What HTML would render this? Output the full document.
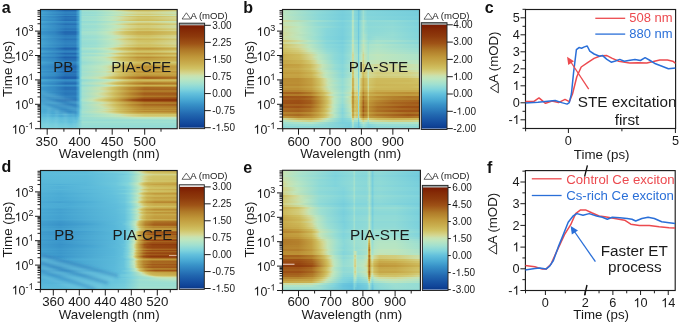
<!DOCTYPE html><html><head><meta charset="utf-8"><style>html,body{margin:0;padding:0;background:#fff;width:685px;height:324px;overflow:hidden;font-family:"Liberation Sans",sans-serif}</style></head><body><svg width="685" height="324" viewBox="0 0 685 324" font-family="Liberation Sans, sans-serif" style="display:block;will-change:transform"><defs><path id="one" d="M763 0L583 0L583 1147Q518 1085 412.5 1023Q307 961 223 930L223 1104Q374 1175 487 1276Q600 1377 647 1472L763 1472Z"/><linearGradient id="g1"><stop offset=".004" stop-color="#3892c8"/><stop offset=".099" stop-color="#3083c0"/><stop offset=".173" stop-color="#2268b0"/><stop offset=".254" stop-color="#2269b1"/><stop offset=".276" stop-color="#3e9acc"/><stop offset=".290" stop-color="#7fd3dc"/><stop offset=".305" stop-color="#a3e1ce"/><stop offset=".401" stop-color="#a8e2cb"/><stop offset=".489" stop-color="#bce6c0"/><stop offset=".540" stop-color="#c8e2af"/><stop offset=".577" stop-color="#d3d792"/><stop offset=".651" stop-color="#d0c469"/><stop offset=".717" stop-color="#cebb5c"/><stop offset=".857" stop-color="#cfbe5f"/><stop offset=".996" stop-color="#d2ca77"/></linearGradient><linearGradient id="g2"><stop offset=".004" stop-color="#409dce"/><stop offset=".180" stop-color="#2a79ba"/><stop offset=".254" stop-color="#2c7bbb"/><stop offset=".276" stop-color="#46a4d1"/><stop offset=".290" stop-color="#7cd2dc"/><stop offset=".305" stop-color="#9aded2"/><stop offset=".401" stop-color="#9fe0d0"/><stop offset=".533" stop-color="#bbe6c0"/><stop offset=".592" stop-color="#c8e2b0"/><stop offset=".651" stop-color="#d4d58f"/><stop offset=".717" stop-color="#d2cd7d"/><stop offset=".790" stop-color="#d2cc7a"/><stop offset=".996" stop-color="#cfdb9d"/></linearGradient><linearGradient id="g3"><stop offset=".004" stop-color="#45a3d1"/><stop offset=".180" stop-color="#2f82bf"/><stop offset=".254" stop-color="#3084c0"/><stop offset=".276" stop-color="#49a9d4"/><stop offset=".290" stop-color="#7bd1dc"/><stop offset=".305" stop-color="#95dcd4"/><stop offset=".401" stop-color="#9aded2"/><stop offset=".526" stop-color="#b2e4c6"/><stop offset=".629" stop-color="#c7e2b1"/><stop offset=".710" stop-color="#d3d794"/><stop offset=".783" stop-color="#d4d58f"/><stop offset=".996" stop-color="#c7e2b2"/></linearGradient><linearGradient id="g4"><stop offset=".004" stop-color="#44a2d0"/><stop offset=".180" stop-color="#2f81bf"/><stop offset=".254" stop-color="#3083c0"/><stop offset=".276" stop-color="#49a8d3"/><stop offset=".290" stop-color="#7bd1dc"/><stop offset=".305" stop-color="#96dcd4"/><stop offset=".401" stop-color="#9bded2"/><stop offset=".555" stop-color="#bbe6c0"/><stop offset=".717" stop-color="#d4d58d"/><stop offset=".790" stop-color="#d3d38a"/><stop offset=".996" stop-color="#c8e2af"/></linearGradient><linearGradient id="g5"><stop offset=".004" stop-color="#419dce"/><stop offset=".180" stop-color="#2b79ba"/><stop offset=".254" stop-color="#2c7bbc"/><stop offset=".276" stop-color="#46a4d1"/><stop offset=".290" stop-color="#7cd2dc"/><stop offset=".305" stop-color="#9aded2"/><stop offset=".401" stop-color="#9fe0d0"/><stop offset=".533" stop-color="#bce6c0"/><stop offset=".585" stop-color="#c7e2b1"/><stop offset=".643" stop-color="#d4d68f"/><stop offset=".717" stop-color="#d2cc79"/><stop offset=".790" stop-color="#d2ca76"/><stop offset=".996" stop-color="#d0da9a"/></linearGradient><linearGradient id="g6"><stop offset=".004" stop-color="#47a6d2"/><stop offset=".180" stop-color="#3186c1"/><stop offset=".254" stop-color="#3288c2"/><stop offset=".276" stop-color="#4babd4"/><stop offset=".290" stop-color="#7bd0dc"/><stop offset=".305" stop-color="#94dbd5"/><stop offset=".401" stop-color="#98ddd3"/><stop offset=".518" stop-color="#aee3c8"/><stop offset=".651" stop-color="#c9e1ad"/><stop offset=".717" stop-color="#d0da9a"/><stop offset=".783" stop-color="#d2d896"/><stop offset=".996" stop-color="#c5e3b4"/></linearGradient><linearGradient id="g7"><stop offset=".004" stop-color="#3b97ca"/><stop offset=".099" stop-color="#3389c3"/><stop offset=".180" stop-color="#256eb4"/><stop offset=".254" stop-color="#2671b5"/><stop offset=".276" stop-color="#419ece"/><stop offset=".290" stop-color="#7ed2dc"/><stop offset=".305" stop-color="#9fe0d0"/><stop offset=".401" stop-color="#a5e1cd"/><stop offset=".504" stop-color="#bce6c0"/><stop offset=".548" stop-color="#c7e2b1"/><stop offset=".592" stop-color="#d3d792"/><stop offset=".651" stop-color="#d1c872"/><stop offset=".717" stop-color="#cfbf60"/><stop offset=".857" stop-color="#d0c264"/><stop offset=".996" stop-color="#d2ce7f"/></linearGradient><linearGradient id="g8"><stop offset=".004" stop-color="#409ccd"/><stop offset=".180" stop-color="#2977b9"/><stop offset=".254" stop-color="#2b79ba"/><stop offset=".276" stop-color="#45a3d1"/><stop offset=".290" stop-color="#7dd2dc"/><stop offset=".305" stop-color="#9bded2"/><stop offset=".401" stop-color="#a1e0d0"/><stop offset=".526" stop-color="#bce6c0"/><stop offset=".577" stop-color="#c9e1af"/><stop offset=".629" stop-color="#d4d68f"/><stop offset=".717" stop-color="#d1c871"/><stop offset=".790" stop-color="#d1c66d"/><stop offset=".996" stop-color="#d4d691"/></linearGradient><linearGradient id="g9"><stop offset=".004" stop-color="#3f9ccd"/><stop offset=".099" stop-color="#368fc6"/><stop offset=".180" stop-color="#2976b9"/><stop offset=".254" stop-color="#2a79ba"/><stop offset=".276" stop-color="#45a3d0"/><stop offset=".290" stop-color="#7dd2dc"/><stop offset=".305" stop-color="#9bded2"/><stop offset=".401" stop-color="#a1e0cf"/><stop offset=".526" stop-color="#bde6bf"/><stop offset=".570" stop-color="#c7e2b1"/><stop offset=".621" stop-color="#d4d690"/><stop offset=".717" stop-color="#d1c66e"/><stop offset=".790" stop-color="#d1c56a"/><stop offset=".996" stop-color="#d4d58e"/></linearGradient><linearGradient id="g10"><stop offset=".004" stop-color="#3d99cc"/><stop offset=".099" stop-color="#358cc5"/><stop offset=".180" stop-color="#2772b6"/><stop offset=".254" stop-color="#2875b8"/><stop offset=".276" stop-color="#43a1cf"/><stop offset=".290" stop-color="#7dd2dc"/><stop offset=".305" stop-color="#9ddfd1"/><stop offset=".401" stop-color="#a3e1ce"/><stop offset=".511" stop-color="#bce6c0"/><stop offset=".555" stop-color="#c7e2b1"/><stop offset=".607" stop-color="#d4d58f"/><stop offset=".710" stop-color="#d0c264"/><stop offset=".783" stop-color="#cfc061"/><stop offset=".996" stop-color="#d3d185"/></linearGradient><linearGradient id="g11"><stop offset=".004" stop-color="#3c97ca"/><stop offset=".099" stop-color="#3389c3"/><stop offset=".180" stop-color="#256eb4"/><stop offset=".254" stop-color="#2671b5"/><stop offset=".276" stop-color="#419ece"/><stop offset=".290" stop-color="#7ed2dc"/><stop offset=".305" stop-color="#9fe0d0"/><stop offset=".401" stop-color="#a5e1cd"/><stop offset=".496" stop-color="#bbe6c1"/><stop offset=".548" stop-color="#c8e2b0"/><stop offset=".585" stop-color="#d3d793"/><stop offset=".651" stop-color="#d1c66e"/><stop offset=".717" stop-color="#cebd5e"/><stop offset=".857" stop-color="#cfc061"/><stop offset=".996" stop-color="#d2cd7c"/></linearGradient><linearGradient id="g12"><stop offset=".004" stop-color="#48a7d3"/><stop offset=".180" stop-color="#3389c3"/><stop offset=".254" stop-color="#348ac4"/><stop offset=".276" stop-color="#4dacd5"/><stop offset=".290" stop-color="#7ad0dc"/><stop offset=".305" stop-color="#92dbd5"/><stop offset=".401" stop-color="#97ddd3"/><stop offset=".518" stop-color="#ade3c9"/><stop offset=".651" stop-color="#c9e1ae"/><stop offset=".717" stop-color="#d0da9a"/><stop offset=".783" stop-color="#d2d896"/><stop offset=".996" stop-color="#c4e3b5"/></linearGradient><linearGradient id="g13"><stop offset=".004" stop-color="#45a4d1"/><stop offset=".180" stop-color="#3083c0"/><stop offset=".254" stop-color="#3185c1"/><stop offset=".276" stop-color="#4aaad4"/><stop offset=".290" stop-color="#7bd1dc"/><stop offset=".305" stop-color="#95dcd4"/><stop offset=".401" stop-color="#9aded2"/><stop offset=".555" stop-color="#bce6c0"/><stop offset=".717" stop-color="#d3d288"/><stop offset=".790" stop-color="#d3d185"/><stop offset=".996" stop-color="#cae0aa"/></linearGradient><linearGradient id="g14"><stop offset=".004" stop-color="#409ccd"/><stop offset=".180" stop-color="#2a77b9"/><stop offset=".254" stop-color="#2b7abb"/><stop offset=".276" stop-color="#45a3d1"/><stop offset=".290" stop-color="#7cd2dc"/><stop offset=".305" stop-color="#9bded2"/><stop offset=".401" stop-color="#a1e0d0"/><stop offset=".518" stop-color="#bbe6c0"/><stop offset=".570" stop-color="#c8e2af"/><stop offset=".614" stop-color="#d3d792"/><stop offset=".717" stop-color="#d1c56a"/><stop offset=".790" stop-color="#d0c366"/><stop offset=".996" stop-color="#d4d48b"/></linearGradient><linearGradient id="g15"><stop offset=".004" stop-color="#3c97cb"/><stop offset=".099" stop-color="#3389c3"/><stop offset=".180" stop-color="#256fb4"/><stop offset=".254" stop-color="#2771b6"/><stop offset=".276" stop-color="#429fce"/><stop offset=".290" stop-color="#7ed2dc"/><stop offset=".305" stop-color="#9fe0d0"/><stop offset=".401" stop-color="#a5e1cd"/><stop offset=".496" stop-color="#bbe6c0"/><stop offset=".540" stop-color="#c7e2b2"/><stop offset=".585" stop-color="#d4d690"/><stop offset=".651" stop-color="#d1c56a"/><stop offset=".717" stop-color="#cebb5c"/><stop offset=".857" stop-color="#cfbe60"/><stop offset=".996" stop-color="#d2cb79"/></linearGradient><linearGradient id="g16"><stop offset=".004" stop-color="#43a1d0"/><stop offset=".180" stop-color="#2e7fbe"/><stop offset=".254" stop-color="#2f81bf"/><stop offset=".276" stop-color="#48a7d3"/><stop offset=".290" stop-color="#7cd1dc"/><stop offset=".305" stop-color="#97ddd3"/><stop offset=".401" stop-color="#9ddfd1"/><stop offset=".540" stop-color="#bce6bf"/><stop offset=".592" stop-color="#c8e2b0"/><stop offset=".643" stop-color="#d4d691"/><stop offset=".717" stop-color="#d2cc7b"/><stop offset=".790" stop-color="#d2cb77"/><stop offset=".996" stop-color="#d0da9c"/></linearGradient><linearGradient id="g17"><stop offset=".004" stop-color="#44a1d0"/><stop offset=".180" stop-color="#2e7fbe"/><stop offset=".254" stop-color="#2f81bf"/><stop offset=".276" stop-color="#48a8d3"/><stop offset=".290" stop-color="#7bd1dc"/><stop offset=".305" stop-color="#97ddd3"/><stop offset=".401" stop-color="#9cdfd1"/><stop offset=".540" stop-color="#bce6c0"/><stop offset=".592" stop-color="#c8e2b0"/><stop offset=".643" stop-color="#d3d792"/><stop offset=".717" stop-color="#d2cc7b"/><stop offset=".790" stop-color="#d2cb78"/><stop offset=".996" stop-color="#cfdb9c"/></linearGradient><linearGradient id="g18"><stop offset=".004" stop-color="#44a2d0"/><stop offset=".180" stop-color="#2e80be"/><stop offset=".254" stop-color="#2f82bf"/><stop offset=".276" stop-color="#49a8d3"/><stop offset=".290" stop-color="#7bd1dc"/><stop offset=".305" stop-color="#96dcd4"/><stop offset=".401" stop-color="#9cded2"/><stop offset=".540" stop-color="#bce6c0"/><stop offset=".592" stop-color="#c7e2b1"/><stop offset=".651" stop-color="#d4d68f"/><stop offset=".717" stop-color="#d2cd7c"/><stop offset=".790" stop-color="#d2cc79"/><stop offset=".996" stop-color="#cfdb9e"/></linearGradient><linearGradient id="g19"><stop offset=".004" stop-color="#3f9ccd"/><stop offset=".099" stop-color="#368fc6"/><stop offset=".180" stop-color="#2977b9"/><stop offset=".254" stop-color="#2b79ba"/><stop offset=".276" stop-color="#45a3d1"/><stop offset=".290" stop-color="#7dd2dc"/><stop offset=".305" stop-color="#9bded2"/><stop offset=".401" stop-color="#a1e0cf"/><stop offset=".511" stop-color="#bbe6c1"/><stop offset=".562" stop-color="#c8e2af"/><stop offset=".607" stop-color="#d4d68f"/><stop offset=".710" stop-color="#d0c264"/><stop offset=".783" stop-color="#cfbf61"/><stop offset=".996" stop-color="#d3d185"/></linearGradient><linearGradient id="g20"><stop offset=".004" stop-color="#3e9acc"/><stop offset=".099" stop-color="#358dc5"/><stop offset=".180" stop-color="#2874b7"/><stop offset=".254" stop-color="#2976b8"/><stop offset=".276" stop-color="#43a1d0"/><stop offset=".290" stop-color="#7dd2dc"/><stop offset=".305" stop-color="#9ddfd1"/><stop offset=".401" stop-color="#a3e1ce"/><stop offset=".504" stop-color="#bce6c0"/><stop offset=".548" stop-color="#c7e2b1"/><stop offset=".592" stop-color="#d4d690"/><stop offset=".651" stop-color="#d1c76f"/><stop offset=".717" stop-color="#cebd5f"/><stop offset=".857" stop-color="#cfc062"/><stop offset=".996" stop-color="#d2cd7d"/></linearGradient><linearGradient id="g21"><stop offset=".004" stop-color="#429fcf"/><stop offset=".180" stop-color="#2c7cbc"/><stop offset=".254" stop-color="#2d7ebd"/><stop offset=".276" stop-color="#47a6d2"/><stop offset=".290" stop-color="#7cd1dc"/><stop offset=".305" stop-color="#99ddd3"/><stop offset=".401" stop-color="#9fdfd1"/><stop offset=".526" stop-color="#bce6c0"/><stop offset=".570" stop-color="#c7e2b1"/><stop offset=".621" stop-color="#d4d691"/><stop offset=".717" stop-color="#d1c66d"/><stop offset=".790" stop-color="#d1c56a"/><stop offset=".996" stop-color="#d4d58f"/></linearGradient><linearGradient id="g22"><stop offset=".004" stop-color="#3a94c9"/><stop offset=".099" stop-color="#3186c1"/><stop offset=".180" stop-color="#236ab1"/><stop offset=".254" stop-color="#246db3"/><stop offset=".276" stop-color="#409ccd"/><stop offset=".290" stop-color="#7ed3dc"/><stop offset=".305" stop-color="#a1e0cf"/><stop offset=".401" stop-color="#a7e2cc"/><stop offset=".482" stop-color="#bbe6c0"/><stop offset=".526" stop-color="#c8e2b1"/><stop offset=".562" stop-color="#d4d690"/><stop offset=".629" stop-color="#d0c264"/><stop offset=".717" stop-color="#cab152"/><stop offset=".798" stop-color="#cab050"/><stop offset=".996" stop-color="#d0c366"/></linearGradient><linearGradient id="g23"><stop offset=".004" stop-color="#3892c8"/><stop offset=".099" stop-color="#3083c0"/><stop offset=".173" stop-color="#2267b0"/><stop offset=".254" stop-color="#2269b0"/><stop offset=".276" stop-color="#3e9acc"/><stop offset=".290" stop-color="#7fd3dc"/><stop offset=".305" stop-color="#a3e1ce"/><stop offset=".401" stop-color="#aae2cb"/><stop offset=".474" stop-color="#bce6c0"/><stop offset=".518" stop-color="#c8e2af"/><stop offset=".548" stop-color="#d3d793"/><stop offset=".614" stop-color="#d0c263"/><stop offset=".710" stop-color="#c9ad4d"/><stop offset=".790" stop-color="#c8ab4b"/><stop offset=".996" stop-color="#cfbe60"/></linearGradient><linearGradient id="g24"><stop offset=".004" stop-color="#3994c9"/><stop offset=".099" stop-color="#3186c1"/><stop offset=".180" stop-color="#236ab1"/><stop offset=".254" stop-color="#246cb3"/><stop offset=".276" stop-color="#409ccd"/><stop offset=".290" stop-color="#7ed3dc"/><stop offset=".305" stop-color="#a1e0cf"/><stop offset=".401" stop-color="#a8e2cc"/><stop offset=".482" stop-color="#bce6c0"/><stop offset=".526" stop-color="#c8e2af"/><stop offset=".555" stop-color="#d3d793"/><stop offset=".621" stop-color="#d0c365"/><stop offset=".710" stop-color="#cab050"/><stop offset=".812" stop-color="#cab050"/><stop offset=".996" stop-color="#d0c163"/></linearGradient><linearGradient id="g25"><stop offset=".004" stop-color="#3b96ca"/><stop offset=".099" stop-color="#3288c2"/><stop offset=".180" stop-color="#246db3"/><stop offset=".254" stop-color="#266fb4"/><stop offset=".276" stop-color="#419ece"/><stop offset=".290" stop-color="#7ed3dc"/><stop offset=".305" stop-color="#a0e0d0"/><stop offset=".401" stop-color="#a6e1cc"/><stop offset=".482" stop-color="#bae6c1"/><stop offset=".526" stop-color="#c7e2b2"/><stop offset=".562" stop-color="#d3d792"/><stop offset=".636" stop-color="#d0c163"/><stop offset=".717" stop-color="#cbb252"/><stop offset=".790" stop-color="#cab050"/><stop offset=".996" stop-color="#d0c468"/></linearGradient><linearGradient id="g26"><stop offset=".004" stop-color="#419fce"/><stop offset=".180" stop-color="#2b7bbb"/><stop offset=".254" stop-color="#2d7dbd"/><stop offset=".276" stop-color="#46a5d2"/><stop offset=".290" stop-color="#7cd1dc"/><stop offset=".305" stop-color="#99ddd3"/><stop offset=".401" stop-color="#a0e0d0"/><stop offset=".518" stop-color="#bce6c0"/><stop offset=".562" stop-color="#c8e2b1"/><stop offset=".607" stop-color="#d4d691"/><stop offset=".710" stop-color="#d0c265"/><stop offset=".783" stop-color="#cfc061"/><stop offset=".996" stop-color="#d3d287"/></linearGradient><linearGradient id="g27"><stop offset=".004" stop-color="#43a0cf"/><stop offset=".180" stop-color="#2d7dbd"/><stop offset=".254" stop-color="#2e80be"/><stop offset=".276" stop-color="#48a7d2"/><stop offset=".290" stop-color="#7cd1dc"/><stop offset=".305" stop-color="#98ddd3"/><stop offset=".401" stop-color="#9edfd1"/><stop offset=".526" stop-color="#bce6c0"/><stop offset=".570" stop-color="#c8e2b0"/><stop offset=".614" stop-color="#d3d792"/><stop offset=".717" stop-color="#d0c469"/><stop offset=".790" stop-color="#d0c365"/><stop offset=".996" stop-color="#d4d48c"/></linearGradient><linearGradient id="g28"><stop offset=".004" stop-color="#45a3d1"/><stop offset=".180" stop-color="#2f82bf"/><stop offset=".254" stop-color="#3084c0"/><stop offset=".276" stop-color="#49a9d4"/><stop offset=".290" stop-color="#7bd1dc"/><stop offset=".305" stop-color="#96dcd4"/><stop offset=".401" stop-color="#9cded2"/><stop offset=".533" stop-color="#bbe6c0"/><stop offset=".585" stop-color="#c8e2b0"/><stop offset=".636" stop-color="#d4d690"/><stop offset=".717" stop-color="#d1c974"/><stop offset=".790" stop-color="#d1c870"/><stop offset=".996" stop-color="#d2d896"/></linearGradient><linearGradient id="g29"><stop offset=".004" stop-color="#419ece"/><stop offset=".180" stop-color="#2b7bbb"/><stop offset=".254" stop-color="#2c7dbc"/><stop offset=".276" stop-color="#46a5d2"/><stop offset=".290" stop-color="#7cd1dc"/><stop offset=".305" stop-color="#99ddd3"/><stop offset=".401" stop-color="#a0e0d0"/><stop offset=".511" stop-color="#bbe6c1"/><stop offset=".555" stop-color="#c7e2b2"/><stop offset=".599" stop-color="#d3d792"/><stop offset=".651" stop-color="#d1c974"/><stop offset=".717" stop-color="#cfbf61"/><stop offset=".849" stop-color="#d0c264"/><stop offset=".996" stop-color="#d3d083"/></linearGradient><linearGradient id="g30"><stop offset=".004" stop-color="#3e9acc"/><stop offset=".099" stop-color="#358dc5"/><stop offset=".180" stop-color="#2874b7"/><stop offset=".254" stop-color="#2976b8"/><stop offset=".276" stop-color="#44a1d0"/><stop offset=".290" stop-color="#7dd2dc"/><stop offset=".305" stop-color="#9ddfd1"/><stop offset=".401" stop-color="#a3e1ce"/><stop offset=".496" stop-color="#bce6c0"/><stop offset=".540" stop-color="#c8e2b0"/><stop offset=".577" stop-color="#d4d68f"/><stop offset=".651" stop-color="#d0c163"/><stop offset=".717" stop-color="#ccb758"/><stop offset=".857" stop-color="#cdba5b"/><stop offset=".996" stop-color="#d1c871"/></linearGradient><linearGradient id="g31"><stop offset=".004" stop-color="#43a0cf"/><stop offset=".180" stop-color="#2d7dbd"/><stop offset=".254" stop-color="#2e7fbe"/><stop offset=".276" stop-color="#47a7d2"/><stop offset=".290" stop-color="#7cd1dc"/><stop offset=".305" stop-color="#98ddd3"/><stop offset=".401" stop-color="#9edfd1"/><stop offset=".518" stop-color="#bbe6c0"/><stop offset=".562" stop-color="#c7e2b1"/><stop offset=".607" stop-color="#d3d791"/><stop offset=".717" stop-color="#d0c163"/><stop offset=".820" stop-color="#d0c264"/><stop offset=".996" stop-color="#d3d287"/></linearGradient><linearGradient id="g32"><stop offset=".004" stop-color="#44a2d0"/><stop offset=".180" stop-color="#2e80be"/><stop offset=".254" stop-color="#2f82bf"/><stop offset=".276" stop-color="#48a8d3"/><stop offset=".290" stop-color="#7bd1dc"/><stop offset=".305" stop-color="#97ddd3"/><stop offset=".401" stop-color="#9ddfd1"/><stop offset=".526" stop-color="#bce6c0"/><stop offset=".570" stop-color="#c8e2b0"/><stop offset=".614" stop-color="#d3d792"/><stop offset=".717" stop-color="#d0c468"/><stop offset=".790" stop-color="#d0c264"/><stop offset=".996" stop-color="#d4d48b"/></linearGradient><linearGradient id="g33"><stop offset=".004" stop-color="#45a3d1"/><stop offset=".180" stop-color="#2f82bf"/><stop offset=".254" stop-color="#3084c0"/><stop offset=".276" stop-color="#49a9d4"/><stop offset=".290" stop-color="#7bd1dc"/><stop offset=".305" stop-color="#95dcd4"/><stop offset=".401" stop-color="#9cded2"/><stop offset=".533" stop-color="#bce6bf"/><stop offset=".577" stop-color="#c8e2b0"/><stop offset=".629" stop-color="#d4d68f"/><stop offset=".717" stop-color="#d1c76e"/><stop offset=".790" stop-color="#d1c56b"/><stop offset=".996" stop-color="#d4d691"/></linearGradient><linearGradient id="g34"><stop offset=".004" stop-color="#46a5d1"/><stop offset=".180" stop-color="#3184c1"/><stop offset=".254" stop-color="#3286c2"/><stop offset=".276" stop-color="#4aaad4"/><stop offset=".290" stop-color="#7bd0dc"/><stop offset=".305" stop-color="#94dcd4"/><stop offset=".401" stop-color="#9aded2"/><stop offset=".533" stop-color="#bbe6c1"/><stop offset=".585" stop-color="#c8e2b0"/><stop offset=".636" stop-color="#d4d68f"/><stop offset=".717" stop-color="#d1c973"/><stop offset=".790" stop-color="#d1c770"/><stop offset=".996" stop-color="#d2d896"/></linearGradient><linearGradient id="g35"><stop offset=".004" stop-color="#44a2d0"/><stop offset=".180" stop-color="#2f81bf"/><stop offset=".254" stop-color="#3083c0"/><stop offset=".276" stop-color="#49a8d3"/><stop offset=".290" stop-color="#7bd1dc"/><stop offset=".305" stop-color="#96dcd4"/><stop offset=".401" stop-color="#9ddfd1"/><stop offset=".526" stop-color="#bce6c0"/><stop offset=".570" stop-color="#c8e2b0"/><stop offset=".614" stop-color="#d4d691"/><stop offset=".717" stop-color="#d0c367"/><stop offset=".798" stop-color="#d0c264"/><stop offset=".996" stop-color="#d4d48b"/></linearGradient><linearGradient id="g36"><stop offset=".004" stop-color="#42a0cf"/><stop offset=".180" stop-color="#2c7dbc"/><stop offset=".254" stop-color="#2e7fbe"/><stop offset=".276" stop-color="#47a6d2"/><stop offset=".290" stop-color="#7cd1dc"/><stop offset=".305" stop-color="#98ddd3"/><stop offset=".401" stop-color="#9fe0d0"/><stop offset=".511" stop-color="#bbe6c1"/><stop offset=".555" stop-color="#c7e2b1"/><stop offset=".599" stop-color="#d4d68f"/><stop offset=".651" stop-color="#d1c871"/><stop offset=".717" stop-color="#cfbe60"/><stop offset=".857" stop-color="#d0c163"/><stop offset=".996" stop-color="#d3cf80"/></linearGradient><linearGradient id="g37"><stop offset=".004" stop-color="#45a3d0"/><stop offset=".180" stop-color="#2f82bf"/><stop offset=".254" stop-color="#3084c0"/><stop offset=".276" stop-color="#49a9d3"/><stop offset=".290" stop-color="#7bd1dc"/><stop offset=".305" stop-color="#96dcd4"/><stop offset=".401" stop-color="#9cdfd1"/><stop offset=".526" stop-color="#bce6c0"/><stop offset=".570" stop-color="#c8e2b0"/><stop offset=".614" stop-color="#d3d792"/><stop offset=".717" stop-color="#d0c367"/><stop offset=".798" stop-color="#d0c264"/><stop offset=".996" stop-color="#d4d48b"/></linearGradient><linearGradient id="g38"><stop offset=".004" stop-color="#3d99cb"/><stop offset=".099" stop-color="#348bc4"/><stop offset=".180" stop-color="#2771b6"/><stop offset=".254" stop-color="#2874b7"/><stop offset=".276" stop-color="#43a0cf"/><stop offset=".290" stop-color="#7dd2dc"/><stop offset=".305" stop-color="#9edfd1"/><stop offset=".401" stop-color="#a5e1cd"/><stop offset=".482" stop-color="#bae6c1"/><stop offset=".526" stop-color="#c7e2b1"/><stop offset=".562" stop-color="#d4d58e"/><stop offset=".621" stop-color="#d0c265"/><stop offset=".710" stop-color="#cab050"/><stop offset=".827" stop-color="#cab050"/><stop offset=".996" stop-color="#d0c163"/></linearGradient><linearGradient id="g39"><stop offset=".004" stop-color="#368ec6"/><stop offset=".099" stop-color="#2e7fbe"/><stop offset=".173" stop-color="#1f62ad"/><stop offset=".254" stop-color="#2064ad"/><stop offset=".276" stop-color="#3c97ca"/><stop offset=".290" stop-color="#80d4dc"/><stop offset=".305" stop-color="#a5e1cd"/><stop offset=".452" stop-color="#bde6bf"/><stop offset=".489" stop-color="#c7e2b1"/><stop offset=".526" stop-color="#d4d58d"/><stop offset=".577" stop-color="#cfbf61"/><stop offset=".710" stop-color="#c29c3e"/><stop offset=".790" stop-color="#c0993b"/><stop offset=".996" stop-color="#c9af4f"/></linearGradient><linearGradient id="g40"><stop offset=".004" stop-color="#3993c8"/><stop offset=".099" stop-color="#3185c1"/><stop offset=".180" stop-color="#2268b0"/><stop offset=".254" stop-color="#236bb2"/><stop offset=".276" stop-color="#3f9bcd"/><stop offset=".290" stop-color="#7ed3dc"/><stop offset=".305" stop-color="#a2e0cf"/><stop offset=".401" stop-color="#aae2ca"/><stop offset=".467" stop-color="#bce6c0"/><stop offset=".504" stop-color="#c7e2b1"/><stop offset=".540" stop-color="#d4d58e"/><stop offset=".592" stop-color="#d0c163"/><stop offset=".710" stop-color="#c5a546"/><stop offset=".790" stop-color="#c4a243"/><stop offset=".996" stop-color="#ccb657"/></linearGradient><linearGradient id="g41"><stop offset=".004" stop-color="#409dce"/><stop offset=".180" stop-color="#2a79ba"/><stop offset=".254" stop-color="#2c7bbb"/><stop offset=".276" stop-color="#46a4d1"/><stop offset=".290" stop-color="#7cd2dc"/><stop offset=".305" stop-color="#9aded2"/><stop offset=".401" stop-color="#a2e0cf"/><stop offset=".496" stop-color="#bbe6c1"/><stop offset=".540" stop-color="#c8e2b0"/><stop offset=".577" stop-color="#d4d690"/><stop offset=".643" stop-color="#d0c366"/><stop offset=".717" stop-color="#ccb657"/><stop offset=".857" stop-color="#cdb95a"/><stop offset=".996" stop-color="#d1c76e"/></linearGradient><linearGradient id="g42"><stop offset=".004" stop-color="#45a4d1"/><stop offset=".180" stop-color="#3083c0"/><stop offset=".254" stop-color="#3185c1"/><stop offset=".276" stop-color="#4aaad4"/><stop offset=".290" stop-color="#7bd1dc"/><stop offset=".305" stop-color="#95dcd4"/><stop offset=".401" stop-color="#9cdfd1"/><stop offset=".526" stop-color="#bce6c0"/><stop offset=".570" stop-color="#c8e2b1"/><stop offset=".614" stop-color="#d3d791"/><stop offset=".717" stop-color="#d0c366"/><stop offset=".805" stop-color="#d0c264"/><stop offset=".996" stop-color="#d3d287"/></linearGradient><linearGradient id="g43"><stop offset=".004" stop-color="#429fce"/><stop offset=".180" stop-color="#2c7bbc"/><stop offset=".254" stop-color="#2d7ebd"/><stop offset=".276" stop-color="#47a6d2"/><stop offset=".290" stop-color="#7cd1dc"/><stop offset=".305" stop-color="#99ddd3"/><stop offset=".401" stop-color="#a1e0cf"/><stop offset=".504" stop-color="#bce6c0"/><stop offset=".548" stop-color="#c8e2af"/><stop offset=".585" stop-color="#d4d68f"/><stop offset=".651" stop-color="#d0c366"/><stop offset=".717" stop-color="#cdb859"/><stop offset=".857" stop-color="#cebb5c"/><stop offset=".996" stop-color="#d1c871"/></linearGradient><linearGradient id="g44"><stop offset=".004" stop-color="#3891c8"/><stop offset=".099" stop-color="#3083c0"/><stop offset=".173" stop-color="#2267b0"/><stop offset=".254" stop-color="#2268b0"/><stop offset=".276" stop-color="#3e9acc"/><stop offset=".290" stop-color="#7fd3dc"/><stop offset=".305" stop-color="#a3e1ce"/><stop offset=".460" stop-color="#bde6be"/><stop offset=".496" stop-color="#c8e2b0"/><stop offset=".526" stop-color="#d3d794"/><stop offset=".577" stop-color="#d0c265"/><stop offset=".710" stop-color="#c3a041"/><stop offset=".790" stop-color="#c29c3e"/><stop offset=".996" stop-color="#caaf4f"/></linearGradient><linearGradient id="g45"><stop offset=".004" stop-color="#3d99cb"/><stop offset=".099" stop-color="#348bc4"/><stop offset=".180" stop-color="#2772b6"/><stop offset=".254" stop-color="#2874b7"/><stop offset=".276" stop-color="#43a0cf"/><stop offset=".290" stop-color="#7dd2dc"/><stop offset=".305" stop-color="#9edfd1"/><stop offset=".401" stop-color="#a7e2cc"/><stop offset=".482" stop-color="#bde6bf"/><stop offset=".518" stop-color="#c7e2b1"/><stop offset=".555" stop-color="#d4d58f"/><stop offset=".614" stop-color="#d0c264"/><stop offset=".710" stop-color="#c8ac4d"/><stop offset=".790" stop-color="#c7a94a"/><stop offset=".996" stop-color="#cebb5c"/></linearGradient><linearGradient id="g46"><stop offset=".004" stop-color="#429fcf"/><stop offset=".180" stop-color="#2c7cbc"/><stop offset=".254" stop-color="#2d7ebd"/><stop offset=".276" stop-color="#47a6d2"/><stop offset=".290" stop-color="#7cd1dc"/><stop offset=".305" stop-color="#99ddd3"/><stop offset=".401" stop-color="#a2e0cf"/><stop offset=".504" stop-color="#bce6c0"/><stop offset=".548" stop-color="#c9e1ae"/><stop offset=".585" stop-color="#d4d58f"/><stop offset=".651" stop-color="#d0c365"/><stop offset=".717" stop-color="#cdb859"/><stop offset=".790" stop-color="#ccb656"/><stop offset=".996" stop-color="#d1c66d"/></linearGradient><linearGradient id="g47"><stop offset=".004" stop-color="#3c97ca"/><stop offset=".099" stop-color="#3389c3"/><stop offset=".180" stop-color="#256eb4"/><stop offset=".254" stop-color="#2671b5"/><stop offset=".276" stop-color="#419fce"/><stop offset=".290" stop-color="#7ed2dc"/><stop offset=".305" stop-color="#a0e0d0"/><stop offset=".474" stop-color="#bde6bf"/><stop offset=".511" stop-color="#c8e2b0"/><stop offset=".540" stop-color="#d3d793"/><stop offset=".599" stop-color="#d0c264"/><stop offset=".710" stop-color="#c6a748"/><stop offset=".790" stop-color="#c5a445"/><stop offset=".996" stop-color="#ccb555"/></linearGradient><linearGradient id="g48"><stop offset=".004" stop-color="#358dc5"/><stop offset=".099" stop-color="#2d7dbd"/><stop offset=".173" stop-color="#1e60ab"/><stop offset=".254" stop-color="#1f62ac"/><stop offset=".276" stop-color="#3b95ca"/><stop offset=".290" stop-color="#80d4dc"/><stop offset=".305" stop-color="#a7e1cc"/><stop offset=".430" stop-color="#bce6c0"/><stop offset=".474" stop-color="#c7e2b2"/><stop offset=".511" stop-color="#d4d58d"/><stop offset=".555" stop-color="#d0c264"/><stop offset=".577" stop-color="#cdb95a"/><stop offset=".710" stop-color="#bd9237"/><stop offset=".783" stop-color="#ba8d33"/><stop offset=".996" stop-color="#c4a243"/></linearGradient><linearGradient id="g49"><stop offset=".004" stop-color="#3a94c9"/><stop offset=".099" stop-color="#3286c2"/><stop offset=".180" stop-color="#236bb2"/><stop offset=".254" stop-color="#256db3"/><stop offset=".276" stop-color="#409ccd"/><stop offset=".290" stop-color="#7ed3dc"/><stop offset=".305" stop-color="#a2e0cf"/><stop offset=".460" stop-color="#bde6bf"/><stop offset=".496" stop-color="#c7e2b2"/><stop offset=".533" stop-color="#d4d68f"/><stop offset=".585" stop-color="#d0c264"/><stop offset=".710" stop-color="#c4a143"/><stop offset=".790" stop-color="#c29e3f"/><stop offset=".996" stop-color="#c9ae4e"/></linearGradient><linearGradient id="g50"><stop offset=".004" stop-color="#3b96ca"/><stop offset=".099" stop-color="#3389c3"/><stop offset=".180" stop-color="#256eb3"/><stop offset=".254" stop-color="#2670b5"/><stop offset=".276" stop-color="#419ece"/><stop offset=".290" stop-color="#7ed3dc"/><stop offset=".305" stop-color="#a0e0d0"/><stop offset=".474" stop-color="#bfe5bc"/><stop offset=".504" stop-color="#c8e2b1"/><stop offset=".540" stop-color="#d4d58d"/><stop offset=".592" stop-color="#d0c163"/><stop offset=".710" stop-color="#c5a445"/><stop offset=".790" stop-color="#c3a041"/><stop offset=".996" stop-color="#cab050"/></linearGradient><linearGradient id="g51"><stop offset=".004" stop-color="#3d99cb"/><stop offset=".099" stop-color="#348bc4"/><stop offset=".180" stop-color="#2772b6"/><stop offset=".254" stop-color="#2874b7"/><stop offset=".276" stop-color="#43a0cf"/><stop offset=".290" stop-color="#7dd2dc"/><stop offset=".305" stop-color="#9edfd1"/><stop offset=".474" stop-color="#bde6bf"/><stop offset=".511" stop-color="#c7e2b1"/><stop offset=".548" stop-color="#d4d58e"/><stop offset=".607" stop-color="#cfc062"/><stop offset=".710" stop-color="#c7a849"/><stop offset=".996" stop-color="#cbb353"/></linearGradient><linearGradient id="g52"><stop offset=".004" stop-color="#42a0cf"/><stop offset=".180" stop-color="#2d7dbd"/><stop offset=".254" stop-color="#2e7fbe"/><stop offset=".276" stop-color="#47a6d2"/><stop offset=".290" stop-color="#7cd1dc"/><stop offset=".305" stop-color="#99ddd3"/><stop offset=".496" stop-color="#bce6c0"/><stop offset=".540" stop-color="#c8e2af"/><stop offset=".577" stop-color="#d4d58e"/><stop offset=".643" stop-color="#d0c264"/><stop offset=".717" stop-color="#cbb455"/><stop offset=".996" stop-color="#cfbf61"/></linearGradient><linearGradient id="g53"><stop offset=".004" stop-color="#46a5d2"/><stop offset=".180" stop-color="#3185c1"/><stop offset=".254" stop-color="#3287c2"/><stop offset=".276" stop-color="#4babd4"/><stop offset=".290" stop-color="#7bd0dc"/><stop offset=".305" stop-color="#95dcd4"/><stop offset=".518" stop-color="#bce6c0"/><stop offset=".562" stop-color="#c8e2b0"/><stop offset=".607" stop-color="#d4d58e"/><stop offset=".651" stop-color="#d2ca75"/><stop offset=".717" stop-color="#cfbf60"/><stop offset=".857" stop-color="#cfbf61"/><stop offset=".996" stop-color="#d1c973"/></linearGradient><linearGradient id="g54"><stop offset=".004" stop-color="#43a1d0"/><stop offset=".180" stop-color="#2e7fbe"/><stop offset=".254" stop-color="#2f81bf"/><stop offset=".276" stop-color="#48a7d3"/><stop offset=".290" stop-color="#7bd1dc"/><stop offset=".305" stop-color="#98ddd3"/><stop offset=".496" stop-color="#bce6c0"/><stop offset=".540" stop-color="#c8e2b0"/><stop offset=".577" stop-color="#d4d690"/><stop offset=".643" stop-color="#d0c365"/><stop offset=".717" stop-color="#ccb556"/><stop offset=".996" stop-color="#cfbf61"/></linearGradient><linearGradient id="g55"><stop offset=".004" stop-color="#409ccd"/><stop offset=".180" stop-color="#2a78b9"/><stop offset=".254" stop-color="#2b7abb"/><stop offset=".276" stop-color="#45a3d1"/><stop offset=".290" stop-color="#7cd2dc"/><stop offset=".305" stop-color="#9cded2"/><stop offset=".474" stop-color="#bbe6c1"/><stop offset=".518" stop-color="#c7e2b1"/><stop offset=".555" stop-color="#d4d68f"/><stop offset=".614" stop-color="#d0c264"/><stop offset=".710" stop-color="#c8ac4c"/><stop offset=".996" stop-color="#ccb555"/></linearGradient><linearGradient id="g56"><stop offset=".004" stop-color="#3b96ca"/><stop offset=".099" stop-color="#3388c3"/><stop offset=".180" stop-color="#256db3"/><stop offset=".254" stop-color="#2670b5"/><stop offset=".276" stop-color="#419ece"/><stop offset=".290" stop-color="#7ed3dc"/><stop offset=".305" stop-color="#a1e0cf"/><stop offset=".452" stop-color="#bde6bf"/><stop offset=".496" stop-color="#c9e1af"/><stop offset=".526" stop-color="#d3d792"/><stop offset=".577" stop-color="#d0c265"/><stop offset=".710" stop-color="#c39f40"/><stop offset=".783" stop-color="#c19a3c"/><stop offset=".996" stop-color="#c6a848"/></linearGradient><linearGradient id="g57"><stop offset=".004" stop-color="#3892c8"/><stop offset=".099" stop-color="#3084c0"/><stop offset=".173" stop-color="#2268b0"/><stop offset=".254" stop-color="#236ab1"/><stop offset=".276" stop-color="#3e9bcc"/><stop offset=".290" stop-color="#7fd3dc"/><stop offset=".305" stop-color="#a4e1ce"/><stop offset=".430" stop-color="#bce6c0"/><stop offset=".482" stop-color="#c8e2af"/><stop offset=".511" stop-color="#d3d792"/><stop offset=".562" stop-color="#d0c263"/><stop offset=".702" stop-color="#c0983a"/><stop offset=".783" stop-color="#bb8f35"/><stop offset=".996" stop-color="#c39f41"/></linearGradient><linearGradient id="g58"><stop offset=".004" stop-color="#3892c8"/><stop offset=".099" stop-color="#3184c1"/><stop offset=".180" stop-color="#2268b0"/><stop offset=".254" stop-color="#236ab1"/><stop offset=".276" stop-color="#3f9bcc"/><stop offset=".290" stop-color="#7fd3dc"/><stop offset=".305" stop-color="#a4e1ce"/><stop offset=".430" stop-color="#bce6c0"/><stop offset=".482" stop-color="#c9e1af"/><stop offset=".511" stop-color="#d3d792"/><stop offset=".562" stop-color="#d0c163"/><stop offset=".702" stop-color="#c0973a"/><stop offset=".783" stop-color="#bb8f34"/><stop offset=".996" stop-color="#c39e40"/></linearGradient><linearGradient id="g59"><stop offset=".004" stop-color="#3b95ca"/><stop offset=".099" stop-color="#3287c2"/><stop offset=".180" stop-color="#246cb2"/><stop offset=".254" stop-color="#256fb4"/><stop offset=".276" stop-color="#409dce"/><stop offset=".290" stop-color="#7ed3dc"/><stop offset=".305" stop-color="#a2e0cf"/><stop offset=".445" stop-color="#bde6be"/><stop offset=".489" stop-color="#c8e2af"/><stop offset=".518" stop-color="#d3d793"/><stop offset=".577" stop-color="#cfbf61"/><stop offset=".710" stop-color="#c19b3d"/><stop offset=".783" stop-color="#be9538"/><stop offset=".996" stop-color="#c4a243"/></linearGradient><linearGradient id="g60"><stop offset=".004" stop-color="#3b96ca"/><stop offset=".099" stop-color="#3389c3"/><stop offset=".180" stop-color="#256eb4"/><stop offset=".254" stop-color="#2670b5"/><stop offset=".276" stop-color="#419ece"/><stop offset=".290" stop-color="#7ed2dc"/><stop offset=".305" stop-color="#a1e0cf"/><stop offset=".474" stop-color="#c3e4b7"/><stop offset=".526" stop-color="#d4d58f"/><stop offset=".577" stop-color="#d0c163"/><stop offset=".710" stop-color="#c29c3e"/><stop offset=".783" stop-color="#bf9739"/><stop offset=".996" stop-color="#c5a344"/></linearGradient><linearGradient id="g61"><stop offset=".004" stop-color="#3f9ccd"/><stop offset=".099" stop-color="#368fc6"/><stop offset=".180" stop-color="#2977b9"/><stop offset=".254" stop-color="#2a79ba"/><stop offset=".276" stop-color="#45a3d0"/><stop offset=".290" stop-color="#7dd2dc"/><stop offset=".305" stop-color="#9ddfd1"/><stop offset=".474" stop-color="#bee5bd"/><stop offset=".511" stop-color="#c9e1ae"/><stop offset=".540" stop-color="#d3d792"/><stop offset=".599" stop-color="#d0c264"/><stop offset=".710" stop-color="#c6a647"/><stop offset=".996" stop-color="#c8ac4c"/></linearGradient><linearGradient id="g62"><stop offset=".004" stop-color="#3993c9"/><stop offset=".099" stop-color="#3185c1"/><stop offset=".180" stop-color="#2269b1"/><stop offset=".254" stop-color="#246cb2"/><stop offset=".276" stop-color="#3f9ccd"/><stop offset=".290" stop-color="#7ed3dc"/><stop offset=".305" stop-color="#a3e1ce"/><stop offset=".474" stop-color="#c7e2b1"/><stop offset=".511" stop-color="#d4d58f"/><stop offset=".562" stop-color="#cfc062"/><stop offset=".695" stop-color="#c0983a"/><stop offset=".783" stop-color="#ba8c33"/><stop offset=".996" stop-color="#c19a3c"/></linearGradient><linearGradient id="g63"><stop offset=".004" stop-color="#3b96ca"/><stop offset=".099" stop-color="#3388c3"/><stop offset=".180" stop-color="#246db3"/><stop offset=".254" stop-color="#266fb4"/><stop offset=".276" stop-color="#419ece"/><stop offset=".290" stop-color="#7ed3dc"/><stop offset=".305" stop-color="#a2e0cf"/><stop offset=".474" stop-color="#c5e3b4"/><stop offset=".518" stop-color="#d4d68f"/><stop offset=".570" stop-color="#d0c162"/><stop offset=".710" stop-color="#c0983a"/><stop offset=".783" stop-color="#bc9136"/><stop offset=".996" stop-color="#c29e3f"/></linearGradient><linearGradient id="g64"><stop offset=".004" stop-color="#3f9bcd"/><stop offset=".099" stop-color="#368ec6"/><stop offset=".180" stop-color="#2976b8"/><stop offset=".254" stop-color="#2a78ba"/><stop offset=".276" stop-color="#44a2d0"/><stop offset=".290" stop-color="#7dd2dc"/><stop offset=".305" stop-color="#9edfd1"/><stop offset=".474" stop-color="#c0e5bb"/><stop offset=".504" stop-color="#c9e1af"/><stop offset=".533" stop-color="#d3d793"/><stop offset=".592" stop-color="#d0c163"/><stop offset=".710" stop-color="#c5a344"/><stop offset=".996" stop-color="#c6a748"/></linearGradient><linearGradient id="g65"><stop offset=".004" stop-color="#3d99cc"/><stop offset=".099" stop-color="#348cc4"/><stop offset=".180" stop-color="#2772b6"/><stop offset=".254" stop-color="#2874b7"/><stop offset=".276" stop-color="#43a0cf"/><stop offset=".290" stop-color="#7dd2dc"/><stop offset=".305" stop-color="#a0e0d0"/><stop offset=".474" stop-color="#c3e4b7"/><stop offset=".526" stop-color="#d4d691"/><stop offset=".577" stop-color="#d0c264"/><stop offset=".710" stop-color="#c29d3f"/><stop offset=".996" stop-color="#c4a142"/></linearGradient><linearGradient id="g66"><stop offset=".004" stop-color="#3d98cb"/><stop offset=".099" stop-color="#348bc4"/><stop offset=".180" stop-color="#2671b5"/><stop offset=".254" stop-color="#2873b7"/><stop offset=".276" stop-color="#42a0cf"/><stop offset=".290" stop-color="#7dd2dc"/><stop offset=".305" stop-color="#a0e0d0"/><stop offset=".474" stop-color="#c4e3b5"/><stop offset=".518" stop-color="#d3d793"/><stop offset=".577" stop-color="#cfc062"/><stop offset=".710" stop-color="#c19b3d"/><stop offset=".783" stop-color="#be9438"/><stop offset=".996" stop-color="#c39e40"/></linearGradient><linearGradient id="g67"><stop offset=".004" stop-color="#3791c7"/><stop offset=".099" stop-color="#2f82bf"/><stop offset=".173" stop-color="#2166af"/><stop offset=".254" stop-color="#2267af"/><stop offset=".276" stop-color="#3d99cb"/><stop offset=".290" stop-color="#7fd3dc"/><stop offset=".305" stop-color="#a6e1cd"/><stop offset=".445" stop-color="#c7e2b2"/><stop offset=".489" stop-color="#d4d690"/><stop offset=".540" stop-color="#d0c163"/><stop offset=".651" stop-color="#bf9639"/><stop offset=".761" stop-color="#b17c29"/><stop offset=".996" stop-color="#b88830"/></linearGradient><linearGradient id="g68"><stop offset=".004" stop-color="#348ac4"/><stop offset=".099" stop-color="#2b7abb"/><stop offset=".173" stop-color="#1c5da9"/><stop offset=".254" stop-color="#1d5eaa"/><stop offset=".276" stop-color="#3993c8"/><stop offset=".283" stop-color="#59b8d9"/><stop offset=".290" stop-color="#80d4dc"/><stop offset=".298" stop-color="#9ddfd1"/><stop offset=".305" stop-color="#abe2ca"/><stop offset=".415" stop-color="#c6e3b2"/><stop offset=".460" stop-color="#d3d792"/><stop offset=".511" stop-color="#d0c366"/><stop offset=".555" stop-color="#caaf4f"/><stop offset=".651" stop-color="#b5842e"/><stop offset=".761" stop-color="#a45f1c"/><stop offset=".996" stop-color="#ab7023"/></linearGradient><linearGradient id="g69"><stop offset=".004" stop-color="#358dc5"/><stop offset=".099" stop-color="#2d7dbd"/><stop offset=".173" stop-color="#1e60ab"/><stop offset=".254" stop-color="#1f62ac"/><stop offset=".276" stop-color="#3a95ca"/><stop offset=".290" stop-color="#80d4dc"/><stop offset=".298" stop-color="#9bded2"/><stop offset=".305" stop-color="#a9e2cb"/><stop offset=".423" stop-color="#c7e2b2"/><stop offset=".467" stop-color="#d3d792"/><stop offset=".518" stop-color="#d0c365"/><stop offset=".555" stop-color="#cbb252"/><stop offset=".658" stop-color="#b6862f"/><stop offset=".783" stop-color="#a6641e"/><stop offset=".996" stop-color="#ae7526"/></linearGradient><linearGradient id="g70"><stop offset=".004" stop-color="#45a4d1"/><stop offset=".180" stop-color="#3083c0"/><stop offset=".254" stop-color="#3185c1"/><stop offset=".276" stop-color="#4aaad4"/><stop offset=".290" stop-color="#7bd1dc"/><stop offset=".305" stop-color="#97ddd3"/><stop offset=".482" stop-color="#bde6bf"/><stop offset=".526" stop-color="#c8e2af"/><stop offset=".562" stop-color="#d4d58e"/><stop offset=".621" stop-color="#d0c263"/><stop offset=".710" stop-color="#c9ad4d"/><stop offset=".996" stop-color="#c9ad4e"/></linearGradient><linearGradient id="g71"><stop offset=".004" stop-color="#4aaad4"/><stop offset=".180" stop-color="#358dc5"/><stop offset=".254" stop-color="#368fc6"/><stop offset=".276" stop-color="#4faed6"/><stop offset=".290" stop-color="#7ad0dc"/><stop offset=".305" stop-color="#92dbd5"/><stop offset=".511" stop-color="#bce6bf"/><stop offset=".555" stop-color="#c8e2b0"/><stop offset=".592" stop-color="#d3d793"/><stop offset=".651" stop-color="#d1c66e"/><stop offset=".717" stop-color="#cdba5c"/><stop offset=".996" stop-color="#cebb5d"/></linearGradient><linearGradient id="g72"><stop offset=".004" stop-color="#44a2d0"/><stop offset=".180" stop-color="#2f81bf"/><stop offset=".254" stop-color="#3083c0"/><stop offset=".276" stop-color="#49a9d3"/><stop offset=".290" stop-color="#7bd1dc"/><stop offset=".305" stop-color="#99ddd3"/><stop offset=".474" stop-color="#bee5bd"/><stop offset=".511" stop-color="#c8e2b0"/><stop offset=".548" stop-color="#d4d58f"/><stop offset=".607" stop-color="#d0c163"/><stop offset=".710" stop-color="#c6a748"/><stop offset=".996" stop-color="#c6a647"/></linearGradient><linearGradient id="g73"><stop offset=".004" stop-color="#3e9acc"/><stop offset=".099" stop-color="#358dc5"/><stop offset=".180" stop-color="#2874b7"/><stop offset=".254" stop-color="#2976b9"/><stop offset=".276" stop-color="#44a2d0"/><stop offset=".290" stop-color="#7dd2dc"/><stop offset=".305" stop-color="#a0e0d0"/><stop offset=".467" stop-color="#c7e2b1"/><stop offset=".504" stop-color="#d3d793"/><stop offset=".562" stop-color="#cfc062"/><stop offset=".688" stop-color="#c0973a"/><stop offset=".783" stop-color="#b78730"/><stop offset=".996" stop-color="#bb8f35"/></linearGradient><linearGradient id="g74"><stop offset=".004" stop-color="#3b95ca"/><stop offset=".099" stop-color="#3287c2"/><stop offset=".180" stop-color="#246cb2"/><stop offset=".254" stop-color="#256eb4"/><stop offset=".276" stop-color="#419dce"/><stop offset=".290" stop-color="#7fd3dc"/><stop offset=".305" stop-color="#a4e1ce"/><stop offset=".438" stop-color="#c7e2b2"/><stop offset=".482" stop-color="#d3d793"/><stop offset=".540" stop-color="#cfbf61"/><stop offset=".651" stop-color="#bd9337"/><stop offset=".761" stop-color="#ae7526"/><stop offset=".996" stop-color="#b17d2a"/></linearGradient><linearGradient id="g75"><stop offset=".004" stop-color="#409dce"/><stop offset=".180" stop-color="#2a78ba"/><stop offset=".254" stop-color="#2b7bbb"/><stop offset=".276" stop-color="#46a4d1"/><stop offset=".290" stop-color="#7dd2dc"/><stop offset=".305" stop-color="#9edfd1"/><stop offset=".474" stop-color="#c7e2b1"/><stop offset=".511" stop-color="#d4d691"/><stop offset=".562" stop-color="#d0c264"/><stop offset=".695" stop-color="#c0983a"/><stop offset=".783" stop-color="#b98b32"/><stop offset=".996" stop-color="#bc9035"/></linearGradient><linearGradient id="g76"><stop offset=".004" stop-color="#4babd4"/><stop offset=".180" stop-color="#368ec6"/><stop offset=".254" stop-color="#378fc7"/><stop offset=".276" stop-color="#4fafd6"/><stop offset=".290" stop-color="#7ad0dc"/><stop offset=".305" stop-color="#93dbd5"/><stop offset=".496" stop-color="#bde6bf"/><stop offset=".540" stop-color="#c8e2b0"/><stop offset=".577" stop-color="#d4d690"/><stop offset=".643" stop-color="#d0c163"/><stop offset=".717" stop-color="#cbb353"/><stop offset=".996" stop-color="#cab151"/></linearGradient><linearGradient id="g77"><stop offset=".004" stop-color="#44a2d0"/><stop offset=".180" stop-color="#2e80be"/><stop offset=".254" stop-color="#2f82bf"/><stop offset=".276" stop-color="#49a8d3"/><stop offset=".290" stop-color="#7cd1dc"/><stop offset=".305" stop-color="#9bded2"/><stop offset=".474" stop-color="#c4e3b6"/><stop offset=".526" stop-color="#d4d690"/><stop offset=".577" stop-color="#d0c264"/><stop offset=".710" stop-color="#c29c3d"/><stop offset=".783" stop-color="#bd9337"/><stop offset=".996" stop-color="#c0973a"/></linearGradient><linearGradient id="g78"><stop offset=".004" stop-color="#3d98cb"/><stop offset=".099" stop-color="#348ac4"/><stop offset=".180" stop-color="#2670b5"/><stop offset=".254" stop-color="#2772b6"/><stop offset=".276" stop-color="#42a0cf"/><stop offset=".290" stop-color="#7fd3dc"/><stop offset=".305" stop-color="#a3e1ce"/><stop offset=".430" stop-color="#c7e2b1"/><stop offset=".482" stop-color="#d4d48d"/><stop offset=".533" stop-color="#cfc062"/><stop offset=".658" stop-color="#b98c33"/><stop offset=".761" stop-color="#a96b21"/><stop offset=".996" stop-color="#ab7023"/></linearGradient><linearGradient id="g79"><stop offset=".004" stop-color="#3d99cb"/><stop offset=".099" stop-color="#348bc4"/><stop offset=".180" stop-color="#2671b5"/><stop offset=".254" stop-color="#2873b7"/><stop offset=".276" stop-color="#43a0cf"/><stop offset=".290" stop-color="#7fd3dc"/><stop offset=".305" stop-color="#a3e1ce"/><stop offset=".430" stop-color="#c8e2b0"/><stop offset=".474" stop-color="#d4d691"/><stop offset=".533" stop-color="#cfbf61"/><stop offset=".651" stop-color="#ba8d33"/><stop offset=".761" stop-color="#a86820"/><stop offset=".996" stop-color="#aa6c22"/></linearGradient><linearGradient id="g80"><stop offset=".004" stop-color="#3d99cb"/><stop offset=".099" stop-color="#348bc4"/><stop offset=".180" stop-color="#2771b5"/><stop offset=".254" stop-color="#2873b7"/><stop offset=".276" stop-color="#43a0cf"/><stop offset=".290" stop-color="#7fd3dc"/><stop offset=".305" stop-color="#a3e1ce"/><stop offset=".423" stop-color="#c7e2b1"/><stop offset=".474" stop-color="#d4d58e"/><stop offset=".526" stop-color="#d0c163"/><stop offset=".658" stop-color="#b78730"/><stop offset=".761" stop-color="#a6641e"/><stop offset=".996" stop-color="#a7661f"/></linearGradient><linearGradient id="g81"><stop offset=".004" stop-color="#419ece"/><stop offset=".180" stop-color="#2b7abb"/><stop offset=".254" stop-color="#2c7cbc"/><stop offset=".276" stop-color="#46a5d2"/><stop offset=".290" stop-color="#7ed2dc"/><stop offset=".305" stop-color="#a0e0d0"/><stop offset=".445" stop-color="#c7e2b1"/><stop offset=".489" stop-color="#d4d691"/><stop offset=".548" stop-color="#cfc061"/><stop offset=".651" stop-color="#c0983a"/><stop offset=".761" stop-color="#b07928"/><stop offset=".996" stop-color="#b07a28"/></linearGradient><linearGradient id="g82"><stop offset=".004" stop-color="#42a0cf"/><stop offset=".180" stop-color="#2c7cbc"/><stop offset=".254" stop-color="#2d7ebd"/><stop offset=".276" stop-color="#47a6d2"/><stop offset=".290" stop-color="#7dd2dc"/><stop offset=".305" stop-color="#9fdfd1"/><stop offset=".452" stop-color="#c8e2af"/><stop offset=".496" stop-color="#d4d58d"/><stop offset=".548" stop-color="#cfc062"/><stop offset=".658" stop-color="#bf9739"/><stop offset=".761" stop-color="#b07b28"/><stop offset=".996" stop-color="#b07b28"/></linearGradient><linearGradient id="g83"><stop offset=".004" stop-color="#409dcd"/><stop offset=".180" stop-color="#2a78b9"/><stop offset=".254" stop-color="#2b7abb"/><stop offset=".276" stop-color="#46a4d1"/><stop offset=".290" stop-color="#7ed3dc"/><stop offset=".305" stop-color="#a1e0cf"/><stop offset=".430" stop-color="#c8e2af"/><stop offset=".474" stop-color="#d3d791"/><stop offset=".533" stop-color="#cfc062"/><stop offset=".651" stop-color="#bb8e34"/><stop offset=".761" stop-color="#a86820"/><stop offset=".996" stop-color="#a7671f"/></linearGradient><linearGradient id="g84"><stop offset=".004" stop-color="#3f9bcd"/><stop offset=".099" stop-color="#368ec6"/><stop offset=".180" stop-color="#2875b8"/><stop offset=".254" stop-color="#2a77b9"/><stop offset=".276" stop-color="#45a3d0"/><stop offset=".290" stop-color="#7fd3dc"/><stop offset=".305" stop-color="#a3e1ce"/><stop offset=".415" stop-color="#c8e2b0"/><stop offset=".460" stop-color="#d3d792"/><stop offset=".518" stop-color="#d0c264"/><stop offset=".658" stop-color="#b5842e"/><stop offset=".761" stop-color="#a35c1b"/><stop offset=".996" stop-color="#a15a19"/></linearGradient><linearGradient id="g85"><stop offset=".004" stop-color="#409dcd"/><stop offset=".099" stop-color="#378fc7"/><stop offset=".180" stop-color="#2977b9"/><stop offset=".254" stop-color="#2b79ba"/><stop offset=".276" stop-color="#45a4d1"/><stop offset=".290" stop-color="#7fd3dc"/><stop offset=".305" stop-color="#a2e0cf"/><stop offset=".415" stop-color="#c7e2b1"/><stop offset=".467" stop-color="#d4d68f"/><stop offset=".555" stop-color="#cbb353"/><stop offset=".658" stop-color="#b6862f"/><stop offset=".761" stop-color="#a45f1c"/><stop offset=".996" stop-color="#a25c1a"/></linearGradient><linearGradient id="g86"><stop offset=".004" stop-color="#42a0cf"/><stop offset=".180" stop-color="#2c7cbc"/><stop offset=".254" stop-color="#2d7ebd"/><stop offset=".276" stop-color="#47a6d2"/><stop offset=".290" stop-color="#7ed3dc"/><stop offset=".305" stop-color="#a0e0d0"/><stop offset=".430" stop-color="#c8e2b0"/><stop offset=".482" stop-color="#d4d48d"/><stop offset=".533" stop-color="#d0c163"/><stop offset=".658" stop-color="#ba8e34"/><stop offset=".761" stop-color="#a96b21"/><stop offset=".996" stop-color="#a7661f"/></linearGradient><linearGradient id="g87"><stop offset=".004" stop-color="#45a3d0"/><stop offset=".180" stop-color="#2f81bf"/><stop offset=".254" stop-color="#3083c0"/><stop offset=".276" stop-color="#49a9d4"/><stop offset=".290" stop-color="#7dd2dc"/><stop offset=".305" stop-color="#9edfd1"/><stop offset=".445" stop-color="#c8e2b0"/><stop offset=".489" stop-color="#d4d691"/><stop offset=".548" stop-color="#cfc062"/><stop offset=".658" stop-color="#bf9639"/><stop offset=".761" stop-color="#af7927"/><stop offset=".996" stop-color="#ad7325"/></linearGradient><linearGradient id="g88"><stop offset=".004" stop-color="#429fce"/><stop offset=".180" stop-color="#2b7abb"/><stop offset=".254" stop-color="#2c7dbc"/><stop offset=".276" stop-color="#47a6d2"/><stop offset=".290" stop-color="#7fd3dc"/><stop offset=".305" stop-color="#a2e0cf"/><stop offset=".415" stop-color="#c8e2b0"/><stop offset=".460" stop-color="#d3d792"/><stop offset=".526" stop-color="#cfc062"/><stop offset=".651" stop-color="#b88931"/><stop offset=".761" stop-color="#a45e1c"/><stop offset=".996" stop-color="#a05718"/></linearGradient><linearGradient id="g89"><stop offset=".004" stop-color="#409dce"/><stop offset=".099" stop-color="#3790c7"/><stop offset=".180" stop-color="#2a77b9"/><stop offset=".254" stop-color="#2b79ba"/><stop offset=".276" stop-color="#46a4d1"/><stop offset=".290" stop-color="#80d4dc"/><stop offset=".305" stop-color="#a4e1ce"/><stop offset=".393" stop-color="#c6e3b3"/><stop offset=".445" stop-color="#d4d68f"/><stop offset=".548" stop-color="#cab050"/><stop offset=".651" stop-color="#b27e2b"/><stop offset=".746" stop-color="#9e5216"/><stop offset=".996" stop-color="#994a13"/></linearGradient><linearGradient id="g90"><stop offset=".004" stop-color="#3d98cb"/><stop offset=".099" stop-color="#348ac4"/><stop offset=".180" stop-color="#256fb4"/><stop offset=".254" stop-color="#2771b6"/><stop offset=".276" stop-color="#43a0cf"/><stop offset=".290" stop-color="#82d5db"/><stop offset=".298" stop-color="#9bded2"/><stop offset=".305" stop-color="#a9e2cb"/><stop offset=".379" stop-color="#c8e2b1"/><stop offset=".415" stop-color="#d4d58d"/><stop offset=".482" stop-color="#cfc062"/><stop offset=".570" stop-color="#c19a3c"/><stop offset=".673" stop-color="#9f5517"/><stop offset=".717" stop-color="#954510"/><stop offset=".761" stop-color="#8e3a0c"/><stop offset=".996" stop-color="#8c360b"/></linearGradient><linearGradient id="g91"><stop offset=".004" stop-color="#3d99cb"/><stop offset=".099" stop-color="#348bc4"/><stop offset=".180" stop-color="#2670b5"/><stop offset=".254" stop-color="#2772b6"/><stop offset=".276" stop-color="#43a1cf"/><stop offset=".290" stop-color="#82d5db"/><stop offset=".298" stop-color="#9bded2"/><stop offset=".305" stop-color="#a9e2cb"/><stop offset=".379" stop-color="#c8e2b1"/><stop offset=".415" stop-color="#d4d58d"/><stop offset=".482" stop-color="#d0c162"/><stop offset=".570" stop-color="#c19a3c"/><stop offset=".680" stop-color="#9e5216"/><stop offset=".717" stop-color="#964611"/><stop offset=".761" stop-color="#8f3b0c"/><stop offset=".996" stop-color="#8c370b"/></linearGradient><linearGradient id="g92"><stop offset=".004" stop-color="#43a1cf"/><stop offset=".180" stop-color="#2c7cbc"/><stop offset=".254" stop-color="#2d7fbd"/><stop offset=".276" stop-color="#48a8d3"/><stop offset=".290" stop-color="#81d4dc"/><stop offset=".305" stop-color="#a3e1ce"/><stop offset=".371" stop-color="#bde6bf"/><stop offset=".452" stop-color="#d4d691"/><stop offset=".555" stop-color="#cab050"/><stop offset=".710" stop-color="#a96a21"/><stop offset=".761" stop-color="#a05718"/><stop offset=".996" stop-color="#9d5116"/></linearGradient><linearGradient id="g93"><stop offset=".004" stop-color="#48a8d3"/><stop offset=".180" stop-color="#3287c2"/><stop offset=".254" stop-color="#3389c3"/><stop offset=".276" stop-color="#4dadd5"/><stop offset=".290" stop-color="#7fd3dc"/><stop offset=".305" stop-color="#9ddfd1"/><stop offset=".445" stop-color="#c7e2b1"/><stop offset=".496" stop-color="#d4d58d"/><stop offset=".548" stop-color="#d0c163"/><stop offset=".658" stop-color="#c0983a"/><stop offset=".761" stop-color="#b17c29"/><stop offset=".996" stop-color="#ae7626"/></linearGradient><linearGradient id="g94"><stop offset=".004" stop-color="#49a9d3"/><stop offset=".180" stop-color="#3389c3"/><stop offset=".254" stop-color="#348bc4"/><stop offset=".276" stop-color="#4eaed5"/><stop offset=".290" stop-color="#7fd3dc"/><stop offset=".305" stop-color="#9ddfd1"/><stop offset=".452" stop-color="#c7e2b1"/><stop offset=".496" stop-color="#d3d792"/><stop offset=".555" stop-color="#d0c163"/><stop offset=".673" stop-color="#c0983a"/><stop offset=".761" stop-color="#b3802c"/><stop offset=".996" stop-color="#b17c29"/></linearGradient><linearGradient id="g95"><stop offset=".004" stop-color="#46a5d1"/><stop offset=".180" stop-color="#2f82bf"/><stop offset=".254" stop-color="#3084c0"/><stop offset=".276" stop-color="#4babd4"/><stop offset=".290" stop-color="#81d4dc"/><stop offset=".305" stop-color="#a2e0cf"/><stop offset=".423" stop-color="#c8e2b0"/><stop offset=".474" stop-color="#d4d58f"/><stop offset=".533" stop-color="#cfc062"/><stop offset=".651" stop-color="#bb8f35"/><stop offset=".761" stop-color="#a86920"/><stop offset=".996" stop-color="#a5621d"/></linearGradient><linearGradient id="g96"><stop offset=".004" stop-color="#47a7d2"/><stop offset=".180" stop-color="#3184c1"/><stop offset=".254" stop-color="#3286c2"/><stop offset=".276" stop-color="#4cacd5"/><stop offset=".290" stop-color="#81d4dc"/><stop offset=".305" stop-color="#a1e0cf"/><stop offset=".430" stop-color="#c8e2b0"/><stop offset=".482" stop-color="#d4d58e"/><stop offset=".540" stop-color="#cfbf61"/><stop offset=".651" stop-color="#be9437"/><stop offset=".761" stop-color="#ac7124"/><stop offset=".996" stop-color="#a96a21"/></linearGradient><linearGradient id="g97"><stop offset=".004" stop-color="#4aaad4"/><stop offset=".180" stop-color="#3389c3"/><stop offset=".254" stop-color="#348bc4"/><stop offset=".276" stop-color="#4faed6"/><stop offset=".290" stop-color="#81d4dc"/><stop offset=".305" stop-color="#9fdfd1"/><stop offset=".445" stop-color="#c7e2b1"/><stop offset=".496" stop-color="#d4d58f"/><stop offset=".555" stop-color="#cfc061"/><stop offset=".665" stop-color="#c0993b"/><stop offset=".761" stop-color="#b37f2b"/><stop offset=".996" stop-color="#b07b28"/></linearGradient><linearGradient id="g98"><stop offset=".004" stop-color="#4babd4"/><stop offset=".180" stop-color="#348bc4"/><stop offset=".254" stop-color="#358dc5"/><stop offset=".276" stop-color="#50b0d6"/><stop offset=".290" stop-color="#81d5db"/><stop offset=".305" stop-color="#9fdfd1"/><stop offset=".452" stop-color="#c7e2b1"/><stop offset=".504" stop-color="#d4d58e"/><stop offset=".562" stop-color="#cfc061"/><stop offset=".688" stop-color="#bf9739"/><stop offset=".761" stop-color="#b6852f"/><stop offset=".996" stop-color="#b4812c"/></linearGradient><linearGradient id="g99"><stop offset=".004" stop-color="#4eadd5"/><stop offset=".180" stop-color="#368fc6"/><stop offset=".254" stop-color="#3791c7"/><stop offset=".276" stop-color="#52b2d7"/><stop offset=".290" stop-color="#82d5db"/><stop offset=".305" stop-color="#9edfd1"/><stop offset=".474" stop-color="#c8e2af"/><stop offset=".518" stop-color="#d4d58e"/><stop offset=".570" stop-color="#d0c264"/><stop offset=".710" stop-color="#c0993b"/><stop offset=".761" stop-color="#bb8f34"/><stop offset=".996" stop-color="#b98b32"/></linearGradient><linearGradient id="g100"><stop offset=".004" stop-color="#4dacd5"/><stop offset=".180" stop-color="#358cc5"/><stop offset=".254" stop-color="#368ec6"/><stop offset=".276" stop-color="#52b1d7"/><stop offset=".290" stop-color="#84d6da"/><stop offset=".305" stop-color="#a1e0cf"/><stop offset=".452" stop-color="#c8e2b0"/><stop offset=".496" stop-color="#d3d792"/><stop offset=".562" stop-color="#cfc062"/><stop offset=".688" stop-color="#c0993b"/><stop offset=".761" stop-color="#b78730"/><stop offset=".996" stop-color="#b5832e"/></linearGradient><linearGradient id="g101"><stop offset=".004" stop-color="#4fafd6"/><stop offset=".180" stop-color="#3791c7"/><stop offset=".254" stop-color="#3892c8"/><stop offset=".276" stop-color="#54b3d7"/><stop offset=".290" stop-color="#85d6da"/><stop offset=".305" stop-color="#a0e0d0"/><stop offset=".467" stop-color="#c7e2b1"/><stop offset=".518" stop-color="#d4d58e"/><stop offset=".577" stop-color="#d0c163"/><stop offset=".710" stop-color="#c29c3d"/><stop offset=".996" stop-color="#bb8f35"/></linearGradient><linearGradient id="g102"><stop offset=".004" stop-color="#4eaed5"/><stop offset=".099" stop-color="#45a3d0"/><stop offset=".180" stop-color="#358dc5"/><stop offset=".254" stop-color="#368fc6"/><stop offset=".276" stop-color="#53b2d7"/><stop offset=".290" stop-color="#88d7d9"/><stop offset=".305" stop-color="#a5e1cd"/><stop offset=".438" stop-color="#c8e2b1"/><stop offset=".489" stop-color="#d3d793"/><stop offset=".555" stop-color="#d0c163"/><stop offset=".688" stop-color="#c0993b"/><stop offset=".761" stop-color="#b78830"/><stop offset=".996" stop-color="#b5842e"/></linearGradient><linearGradient id="g103"><stop offset=".004" stop-color="#51b0d6"/><stop offset=".099" stop-color="#48a7d3"/><stop offset=".180" stop-color="#3892c8"/><stop offset=".254" stop-color="#3994c9"/><stop offset=".276" stop-color="#56b5d8"/><stop offset=".290" stop-color="#89d7d9"/><stop offset=".305" stop-color="#a4e1ce"/><stop offset=".467" stop-color="#c8e2b1"/><stop offset=".518" stop-color="#d4d690"/><stop offset=".585" stop-color="#cfc062"/><stop offset=".710" stop-color="#c3a041"/><stop offset=".996" stop-color="#be9538"/></linearGradient><linearGradient id="g104"><stop offset=".004" stop-color="#55b4d8"/><stop offset=".180" stop-color="#3e9acc"/><stop offset=".254" stop-color="#3f9ccd"/><stop offset=".276" stop-color="#5ab8d9"/><stop offset=".290" stop-color="#88d7d9"/><stop offset=".305" stop-color="#a0e0d0"/><stop offset=".474" stop-color="#c0e5ba"/><stop offset=".518" stop-color="#c9e1ae"/><stop offset=".555" stop-color="#d3d793"/><stop offset=".629" stop-color="#d0c265"/><stop offset=".717" stop-color="#cab050"/><stop offset=".996" stop-color="#c7a94a"/></linearGradient><linearGradient id="g105"><stop offset=".004" stop-color="#5bb9da"/><stop offset=".254" stop-color="#48a7d3"/><stop offset=".276" stop-color="#5ebddb"/><stop offset=".290" stop-color="#86d6da"/><stop offset=".305" stop-color="#99ddd3"/><stop offset=".526" stop-color="#bce6bf"/><stop offset=".585" stop-color="#c7e2b1"/><stop offset=".643" stop-color="#d4d690"/><stop offset=".761" stop-color="#d1c66d"/><stop offset=".996" stop-color="#d0c468"/></linearGradient><linearGradient id="g106"><stop offset=".004" stop-color="#5cbada"/><stop offset=".180" stop-color="#47a5d2"/><stop offset=".254" stop-color="#48a7d2"/><stop offset=".276" stop-color="#5fbedb"/><stop offset=".290" stop-color="#89d8d8"/><stop offset=".305" stop-color="#9edfd1"/><stop offset=".526" stop-color="#bee5bd"/><stop offset=".577" stop-color="#c7e2b1"/><stop offset=".636" stop-color="#d4d691"/><stop offset=".761" stop-color="#d1c66c"/><stop offset=".996" stop-color="#d0c468"/></linearGradient><linearGradient id="g107"><stop offset=".004" stop-color="#5ebcdb"/><stop offset=".173" stop-color="#49a9d4"/><stop offset=".254" stop-color="#4aaad4"/><stop offset=".276" stop-color="#62c0dc"/><stop offset=".290" stop-color="#8cd9d7"/><stop offset=".305" stop-color="#a0e0d0"/><stop offset=".533" stop-color="#bce6bf"/><stop offset=".607" stop-color="#c7e2b1"/><stop offset=".688" stop-color="#d4d691"/><stop offset=".761" stop-color="#d3cf82"/><stop offset=".996" stop-color="#d2ce7e"/></linearGradient><linearGradient id="g108"><stop offset=".004" stop-color="#63c1dc"/><stop offset=".254" stop-color="#53b3d7"/><stop offset=".268" stop-color="#5ebcdb"/><stop offset=".290" stop-color="#89d7d9"/><stop offset=".305" stop-color="#98ddd3"/><stop offset=".710" stop-color="#bee5bd"/><stop offset=".996" stop-color="#c2e4b9"/></linearGradient><linearGradient id="g109"><stop offset=".004" stop-color="#67c4dc"/><stop offset=".254" stop-color="#57b6d8"/><stop offset=".268" stop-color="#61bfdc"/><stop offset=".290" stop-color="#8bd8d8"/><stop offset=".305" stop-color="#99ddd3"/><stop offset=".717" stop-color="#b4e4c4"/><stop offset=".996" stop-color="#b7e5c3"/></linearGradient><linearGradient id="g110"><stop offset=".004" stop-color="#6bc6dc"/><stop offset=".254" stop-color="#5ab9d9"/><stop offset=".268" stop-color="#64c1dc"/><stop offset=".290" stop-color="#8cd9d7"/><stop offset=".305" stop-color="#99ddd3"/><stop offset=".996" stop-color="#aae2ca"/></linearGradient><linearGradient id="g111"><stop offset=".004" stop-color="#6fc8dc"/><stop offset=".232" stop-color="#5ebcdb"/><stop offset=".261" stop-color="#63c1dc"/><stop offset=".305" stop-color="#95dcd4"/><stop offset=".996" stop-color="#9cdfd1"/></linearGradient><linearGradient id="g112"><stop offset=".004" stop-color="#72cadc"/><stop offset=".224" stop-color="#5ebcdb"/><stop offset=".261" stop-color="#64c2dc"/><stop offset=".305" stop-color="#9cdfd1"/><stop offset=".996" stop-color="#9fe0d0"/></linearGradient><linearGradient id="g113"><stop offset=".004" stop-color="#75cddc"/><stop offset=".224" stop-color="#60bfdb"/><stop offset=".254" stop-color="#62c0dc"/><stop offset=".305" stop-color="#9fe0d0"/><stop offset=".996" stop-color="#9fe0d0"/></linearGradient><linearGradient id="g114"><stop offset=".004" stop-color="#78cfdc"/><stop offset=".224" stop-color="#67c3dc"/><stop offset=".254" stop-color="#69c5dc"/><stop offset=".305" stop-color="#99ddd3"/><stop offset=".996" stop-color="#99ddd3"/></linearGradient><linearGradient id="g115"><stop offset=".004" stop-color="#7bd1dc"/><stop offset=".224" stop-color="#6bc6dc"/><stop offset=".254" stop-color="#6dc7dc"/><stop offset=".305" stop-color="#99ded2"/><stop offset=".996" stop-color="#99ded2"/></linearGradient><linearGradient id="g116"><stop offset=".004" stop-color="#7cd1dc"/><stop offset=".224" stop-color="#6fc8dc"/><stop offset=".254" stop-color="#70c9dc"/><stop offset=".305" stop-color="#95dcd4"/><stop offset=".996" stop-color="#95dcd4"/></linearGradient><linearGradient id="g117"><stop offset=".004" stop-color="#7ed3dc"/><stop offset=".224" stop-color="#72cadc"/><stop offset=".254" stop-color="#73cbdc"/><stop offset=".305" stop-color="#96dcd4"/><stop offset=".996" stop-color="#96dcd4"/></linearGradient><linearGradient id="g118"><stop offset=".004" stop-color="#7fd3dc"/><stop offset=".224" stop-color="#74ccdc"/><stop offset=".254" stop-color="#75cddc"/><stop offset=".305" stop-color="#92dbd5"/><stop offset=".996" stop-color="#92dbd5"/></linearGradient><linearGradient id="cb119" x1="0" y1="0" x2="0" y2="1"><stop offset="0.000" stop-color="#7a1a02"/><stop offset="0.047" stop-color="#842a06"/><stop offset="0.111" stop-color="#8e3a0c"/><stop offset="0.178" stop-color="#9e5216"/><stop offset="0.244" stop-color="#b07a28"/><stop offset="0.311" stop-color="#c0983a"/><stop offset="0.378" stop-color="#cab050"/><stop offset="0.422" stop-color="#d0c264"/><stop offset="0.467" stop-color="#d4d690"/><stop offset="0.493" stop-color="#c8e2b0"/><stop offset="0.522" stop-color="#bce6c0"/><stop offset="0.573" stop-color="#a0e0d0"/><stop offset="0.622" stop-color="#80d4dc"/><stop offset="0.667" stop-color="#62c0dc"/><stop offset="0.722" stop-color="#4aaad4"/><stop offset="0.771" stop-color="#3892c8"/><stop offset="0.822" stop-color="#2c7cbc"/><stop offset="0.867" stop-color="#2268b0"/><stop offset="0.922" stop-color="#1854a4"/><stop offset="0.971" stop-color="#104498"/><stop offset="1.000" stop-color="#0a3888"/></linearGradient><linearGradient id="g120"><stop offset=".004" stop-color="#bae6c1"/><stop offset=".210" stop-color="#94dbd5"/><stop offset=".438" stop-color="#79cfdc"/><stop offset=".496" stop-color="#80d4dc"/><stop offset=".504" stop-color="#89d7d9"/><stop offset=".511" stop-color="#aae2ca"/><stop offset=".518" stop-color="#a8e2cb"/><stop offset=".526" stop-color="#88d7d9"/><stop offset=".548" stop-color="#7ed2dc"/><stop offset=".555" stop-color="#6cc6dc"/><stop offset=".592" stop-color="#9edfd1"/><stop offset=".599" stop-color="#90dad6"/><stop offset=".621" stop-color="#82d5db"/><stop offset=".996" stop-color="#75cddc"/></linearGradient><linearGradient id="g121"><stop offset=".004" stop-color="#bbe5bf"/><stop offset=".261" stop-color="#8dd9d7"/><stop offset=".438" stop-color="#79cfdc"/><stop offset=".496" stop-color="#80d3db"/><stop offset=".504" stop-color="#89d7d9"/><stop offset=".511" stop-color="#abe2ca"/><stop offset=".518" stop-color="#a9e2cb"/><stop offset=".526" stop-color="#89d7d9"/><stop offset=".548" stop-color="#7fd3dc"/><stop offset=".555" stop-color="#6cc7dc"/><stop offset=".592" stop-color="#a0dfd0"/><stop offset=".599" stop-color="#91dbd5"/><stop offset=".621" stop-color="#84d5db"/><stop offset=".996" stop-color="#77cedc"/></linearGradient><linearGradient id="g122"><stop offset=".004" stop-color="#b8e5c2"/><stop offset=".261" stop-color="#8ad8d8"/><stop offset=".438" stop-color="#77cedc"/><stop offset=".496" stop-color="#7dd2dc"/><stop offset=".504" stop-color="#86d6da"/><stop offset=".511" stop-color="#a8e2cc"/><stop offset=".518" stop-color="#a6e1cd"/><stop offset=".526" stop-color="#86d6da"/><stop offset=".548" stop-color="#7dd2dc"/><stop offset=".555" stop-color="#6bc6dc"/><stop offset=".592" stop-color="#9edfd1"/><stop offset=".599" stop-color="#90dad6"/><stop offset=".621" stop-color="#82d5db"/><stop offset=".996" stop-color="#76cedc"/></linearGradient><linearGradient id="g123"><stop offset=".004" stop-color="#bde5be"/><stop offset=".268" stop-color="#8bd8d8"/><stop offset=".438" stop-color="#78cfdc"/><stop offset=".496" stop-color="#7fd3dc"/><stop offset=".504" stop-color="#89d7d9"/><stop offset=".511" stop-color="#abe2ca"/><stop offset=".518" stop-color="#aae2cb"/><stop offset=".526" stop-color="#89d7d9"/><stop offset=".548" stop-color="#80d4dc"/><stop offset=".555" stop-color="#6cc7dc"/><stop offset=".592" stop-color="#a2e0cf"/><stop offset=".599" stop-color="#94dbd5"/><stop offset=".621" stop-color="#86d6da"/><stop offset=".996" stop-color="#79d0dc"/></linearGradient><linearGradient id="g124"><stop offset=".004" stop-color="#bce5bf"/><stop offset=".268" stop-color="#89d8d8"/><stop offset=".438" stop-color="#77cedc"/><stop offset=".496" stop-color="#7ed3dc"/><stop offset=".504" stop-color="#88d7d9"/><stop offset=".511" stop-color="#a9e2cb"/><stop offset=".518" stop-color="#a8e2cc"/><stop offset=".526" stop-color="#88d7d9"/><stop offset=".548" stop-color="#7ed3dc"/><stop offset=".555" stop-color="#6bc6dc"/><stop offset=".592" stop-color="#a0e0d0"/><stop offset=".599" stop-color="#92dbd5"/><stop offset=".621" stop-color="#84d6da"/><stop offset=".996" stop-color="#78cfdc"/></linearGradient><linearGradient id="g125"><stop offset=".004" stop-color="#cfdb9e"/><stop offset=".210" stop-color="#a6e1cc"/><stop offset=".438" stop-color="#80d4dc"/><stop offset=".496" stop-color="#8ad8d8"/><stop offset=".504" stop-color="#95dcd4"/><stop offset=".511" stop-color="#bae5c0"/><stop offset=".518" stop-color="#b9e5c2"/><stop offset=".526" stop-color="#95dcd4"/><stop offset=".548" stop-color="#8ad8d8"/><stop offset=".555" stop-color="#72cadc"/><stop offset=".562" stop-color="#86d6da"/><stop offset=".592" stop-color="#b0e3c7"/><stop offset=".621" stop-color="#91dad6"/><stop offset=".805" stop-color="#93dbd5"/><stop offset=".996" stop-color="#83d5db"/></linearGradient><linearGradient id="g126"><stop offset=".004" stop-color="#c6e2b1"/><stop offset=".114" stop-color="#b8e5c2"/><stop offset=".261" stop-color="#91dad6"/><stop offset=".438" stop-color="#7ad0dc"/><stop offset=".496" stop-color="#84d5db"/><stop offset=".504" stop-color="#8ed9d7"/><stop offset=".511" stop-color="#b1e4c6"/><stop offset=".518" stop-color="#b0e3c7"/><stop offset=".526" stop-color="#8ed9d7"/><stop offset=".548" stop-color="#84d5db"/><stop offset=".555" stop-color="#6ec8dc"/><stop offset=".562" stop-color="#81d4dc"/><stop offset=".592" stop-color="#a8e2cb"/><stop offset=".621" stop-color="#8bd8d8"/><stop offset=".805" stop-color="#8dd9d7"/><stop offset=".996" stop-color="#7ed2dc"/></linearGradient><linearGradient id="g127"><stop offset=".004" stop-color="#c9e1ae"/><stop offset=".114" stop-color="#bae6c1"/><stop offset=".261" stop-color="#92dbd5"/><stop offset=".438" stop-color="#7ad0dc"/><stop offset=".496" stop-color="#85d6da"/><stop offset=".504" stop-color="#8fdad6"/><stop offset=".511" stop-color="#b2e4c5"/><stop offset=".518" stop-color="#b1e4c6"/><stop offset=".526" stop-color="#8fdad6"/><stop offset=".548" stop-color="#85d6da"/><stop offset=".555" stop-color="#6ec8dc"/><stop offset=".562" stop-color="#81d4dc"/><stop offset=".592" stop-color="#a9e2cb"/><stop offset=".607" stop-color="#95dcd4"/><stop offset=".629" stop-color="#8bd8d8"/><stop offset=".805" stop-color="#8fd9d7"/><stop offset=".996" stop-color="#7fd3dc"/></linearGradient><linearGradient id="g128"><stop offset=".004" stop-color="#d0da9b"/><stop offset=".121" stop-color="#bfe5bd"/><stop offset=".224" stop-color="#a2e0cf"/><stop offset=".438" stop-color="#7cd2dc"/><stop offset=".496" stop-color="#88d7d9"/><stop offset=".504" stop-color="#93dbd5"/><stop offset=".511" stop-color="#b8e5c2"/><stop offset=".518" stop-color="#b6e5c4"/><stop offset=".526" stop-color="#93dbd5"/><stop offset=".548" stop-color="#88d7d9"/><stop offset=".555" stop-color="#70c9dc"/><stop offset=".562" stop-color="#84d6da"/><stop offset=".592" stop-color="#aee3c8"/><stop offset=".607" stop-color="#9aded2"/><stop offset=".629" stop-color="#8fdad6"/><stop offset=".805" stop-color="#93dbd5"/><stop offset=".996" stop-color="#82d5db"/></linearGradient><linearGradient id="g129"><stop offset=".004" stop-color="#ccdea5"/><stop offset=".114" stop-color="#bde6be"/><stop offset=".224" stop-color="#9fe0d0"/><stop offset=".320" stop-color="#87d7d9"/><stop offset=".438" stop-color="#7ad0dc"/><stop offset=".496" stop-color="#86d6da"/><stop offset=".504" stop-color="#90dad6"/><stop offset=".511" stop-color="#b3e4c5"/><stop offset=".518" stop-color="#b2e4c6"/><stop offset=".526" stop-color="#90dad6"/><stop offset=".548" stop-color="#86d6da"/><stop offset=".555" stop-color="#6ec8dc"/><stop offset=".562" stop-color="#82d5db"/><stop offset=".592" stop-color="#aae2ca"/><stop offset=".607" stop-color="#96dcd4"/><stop offset=".629" stop-color="#8cd9d7"/><stop offset=".805" stop-color="#91dad6"/><stop offset=".996" stop-color="#80d4dc"/></linearGradient><linearGradient id="g130"><stop offset=".004" stop-color="#cddda2"/><stop offset=".114" stop-color="#bee5bd"/><stop offset=".224" stop-color="#9fe0d0"/><stop offset=".320" stop-color="#86d6da"/><stop offset=".438" stop-color="#79cfdc"/><stop offset=".496" stop-color="#86d6da"/><stop offset=".504" stop-color="#90dad6"/><stop offset=".511" stop-color="#b3e4c5"/><stop offset=".518" stop-color="#b2e4c6"/><stop offset=".526" stop-color="#90dad6"/><stop offset=".548" stop-color="#86d6da"/><stop offset=".555" stop-color="#6ec8dc"/><stop offset=".562" stop-color="#82d5db"/><stop offset=".592" stop-color="#aae2ca"/><stop offset=".599" stop-color="#9ddfd1"/><stop offset=".629" stop-color="#8cd9d7"/><stop offset=".805" stop-color="#92dbd5"/><stop offset=".996" stop-color="#80d4dc"/></linearGradient><linearGradient id="g131"><stop offset=".004" stop-color="#d0da9c"/><stop offset=".129" stop-color="#bde5bf"/><stop offset=".224" stop-color="#a1e0cf"/><stop offset=".320" stop-color="#86d6da"/><stop offset=".438" stop-color="#79cfdc"/><stop offset=".496" stop-color="#87d7d9"/><stop offset=".504" stop-color="#92dbd5"/><stop offset=".511" stop-color="#b5e5c4"/><stop offset=".518" stop-color="#b3e4c5"/><stop offset=".526" stop-color="#92dbd5"/><stop offset=".548" stop-color="#88d7d9"/><stop offset=".555" stop-color="#6ec8dc"/><stop offset=".562" stop-color="#84d5db"/><stop offset=".592" stop-color="#ade3c9"/><stop offset=".599" stop-color="#a0e0d0"/><stop offset=".629" stop-color="#8ed9d7"/><stop offset=".805" stop-color="#95dcd4"/><stop offset=".996" stop-color="#82d5db"/></linearGradient><linearGradient id="g132"><stop offset=".004" stop-color="#d1d998"/><stop offset=".070" stop-color="#c7e2b1"/><stop offset=".232" stop-color="#a0e0d0"/><stop offset=".320" stop-color="#86d6da"/><stop offset=".438" stop-color="#79cfdc"/><stop offset=".496" stop-color="#88d7d9"/><stop offset=".504" stop-color="#92dbd5"/><stop offset=".511" stop-color="#b6e5c3"/><stop offset=".518" stop-color="#b4e4c4"/><stop offset=".526" stop-color="#93dbd5"/><stop offset=".548" stop-color="#89d7d9"/><stop offset=".555" stop-color="#6fc8dc"/><stop offset=".562" stop-color="#85d6da"/><stop offset=".592" stop-color="#afe3c7"/><stop offset=".629" stop-color="#90dad6"/><stop offset=".805" stop-color="#97ddd3"/><stop offset=".996" stop-color="#83d5db"/></linearGradient><linearGradient id="g133"><stop offset=".004" stop-color="#cddda2"/><stop offset=".114" stop-color="#bfe5bd"/><stop offset=".232" stop-color="#9cdfd1"/><stop offset=".320" stop-color="#83d5db"/><stop offset=".438" stop-color="#77cedc"/><stop offset=".496" stop-color="#85d6da"/><stop offset=".504" stop-color="#90dad6"/><stop offset=".511" stop-color="#b2e4c6"/><stop offset=".518" stop-color="#b1e4c6"/><stop offset=".526" stop-color="#91dad6"/><stop offset=".548" stop-color="#87d7d9"/><stop offset=".555" stop-color="#6dc7dc"/><stop offset=".562" stop-color="#84d5db"/><stop offset=".592" stop-color="#ade3c9"/><stop offset=".629" stop-color="#8ed9d7"/><stop offset=".688" stop-color="#98ddd3"/><stop offset=".805" stop-color="#96dcd4"/><stop offset=".996" stop-color="#82d5db"/></linearGradient><linearGradient id="g134"><stop offset=".004" stop-color="#d0da9a"/><stop offset=".121" stop-color="#c0e5bb"/><stop offset=".239" stop-color="#9cdfd1"/><stop offset=".320" stop-color="#84d6da"/><stop offset=".438" stop-color="#77cedc"/><stop offset=".496" stop-color="#87d7d9"/><stop offset=".504" stop-color="#92dbd5"/><stop offset=".511" stop-color="#b5e4c4"/><stop offset=".518" stop-color="#b3e4c5"/><stop offset=".526" stop-color="#94dbd5"/><stop offset=".548" stop-color="#8ad8d8"/><stop offset=".555" stop-color="#6ec8dc"/><stop offset=".562" stop-color="#86d6da"/><stop offset=".592" stop-color="#b1e4c7"/><stop offset=".629" stop-color="#90dad6"/><stop offset=".688" stop-color="#9cded2"/><stop offset=".805" stop-color="#99ddd3"/><stop offset=".996" stop-color="#85d6da"/></linearGradient><linearGradient id="g135"><stop offset=".004" stop-color="#d2ca75"/><stop offset=".114" stop-color="#cfdb9e"/><stop offset=".188" stop-color="#bae5c1"/><stop offset=".320" stop-color="#8cd8d8"/><stop offset=".438" stop-color="#7dd2dc"/><stop offset=".496" stop-color="#90dad6"/><stop offset=".504" stop-color="#9ddfd1"/><stop offset=".511" stop-color="#c1e4b9"/><stop offset=".518" stop-color="#c0e5ba"/><stop offset=".526" stop-color="#9fe0d0"/><stop offset=".548" stop-color="#94dcd4"/><stop offset=".555" stop-color="#73ccdc"/><stop offset=".562" stop-color="#90dad6"/><stop offset=".592" stop-color="#bfe5bc"/><stop offset=".629" stop-color="#9bded2"/><stop offset=".688" stop-color="#a9e2cb"/><stop offset=".805" stop-color="#a6e1cd"/><stop offset=".996" stop-color="#8fd9d7"/></linearGradient><linearGradient id="g136"><stop offset=".004" stop-color="#d2d58f"/><stop offset=".114" stop-color="#c5e3b3"/><stop offset=".232" stop-color="#a2e0cf"/><stop offset=".320" stop-color="#85d6da"/><stop offset=".438" stop-color="#78cedc"/><stop offset=".496" stop-color="#89d8d8"/><stop offset=".504" stop-color="#95dcd4"/><stop offset=".511" stop-color="#b8e5c2"/><stop offset=".518" stop-color="#b7e5c3"/><stop offset=".526" stop-color="#97ddd3"/><stop offset=".548" stop-color="#8ed9d7"/><stop offset=".555" stop-color="#6fc9dc"/><stop offset=".562" stop-color="#8ad8d8"/><stop offset=".592" stop-color="#b6e5c3"/><stop offset=".629" stop-color="#94dcd4"/><stop offset=".636" stop-color="#9edfd1"/><stop offset=".695" stop-color="#a3e1ce"/><stop offset=".996" stop-color="#89d7d9"/></linearGradient><linearGradient id="g137"><stop offset=".004" stop-color="#d0c368"/><stop offset=".129" stop-color="#d0da9a"/><stop offset=".195" stop-color="#bce5bf"/><stop offset=".320" stop-color="#8dd9d7"/><stop offset=".438" stop-color="#7ed3dc"/><stop offset=".496" stop-color="#94dbd5"/><stop offset=".504" stop-color="#a1e0cf"/><stop offset=".511" stop-color="#c6e3b3"/><stop offset=".518" stop-color="#c5e3b4"/><stop offset=".526" stop-color="#a4e1ce"/><stop offset=".548" stop-color="#9aded2"/><stop offset=".555" stop-color="#75cddc"/><stop offset=".562" stop-color="#96dcd4"/><stop offset=".592" stop-color="#c5e3b4"/><stop offset=".599" stop-color="#b9e5c2"/><stop offset=".629" stop-color="#a1e0cf"/><stop offset=".636" stop-color="#abe2ca"/><stop offset=".695" stop-color="#b2e4c6"/><stop offset=".996" stop-color="#94dbd5"/></linearGradient><linearGradient id="g138"><stop offset=".004" stop-color="#d1c871"/><stop offset=".114" stop-color="#d2d896"/><stop offset=".188" stop-color="#bde5be"/><stop offset=".320" stop-color="#8cd8d8"/><stop offset=".438" stop-color="#7bd1dc"/><stop offset=".496" stop-color="#90dad6"/><stop offset=".504" stop-color="#9ddfd1"/><stop offset=".511" stop-color="#c2e4b8"/><stop offset=".518" stop-color="#c1e4b9"/><stop offset=".526" stop-color="#a1e0cf"/><stop offset=".548" stop-color="#97ddd3"/><stop offset=".555" stop-color="#73cbdc"/><stop offset=".562" stop-color="#93dbd5"/><stop offset=".592" stop-color="#c2e4b8"/><stop offset=".629" stop-color="#9edfd1"/><stop offset=".636" stop-color="#a8e2cb"/><stop offset=".695" stop-color="#aee3c8"/><stop offset=".996" stop-color="#93dbd5"/></linearGradient><linearGradient id="g139"><stop offset=".004" stop-color="#d0c265"/><stop offset=".114" stop-color="#d3d184"/><stop offset=".143" stop-color="#d0da9a"/><stop offset=".202" stop-color="#bfe5bc"/><stop offset=".320" stop-color="#91dad6"/><stop offset=".438" stop-color="#7dd2dc"/><stop offset=".496" stop-color="#93dbd5"/><stop offset=".504" stop-color="#a0e0d0"/><stop offset=".511" stop-color="#c5e3b4"/><stop offset=".518" stop-color="#c4e3b5"/><stop offset=".526" stop-color="#a4e1ce"/><stop offset=".548" stop-color="#9aded2"/><stop offset=".555" stop-color="#74ccdc"/><stop offset=".562" stop-color="#96dcd4"/><stop offset=".592" stop-color="#c6e3b3"/><stop offset=".599" stop-color="#bae5c1"/><stop offset=".629" stop-color="#a1e0cf"/><stop offset=".636" stop-color="#ace3c9"/><stop offset=".695" stop-color="#b2e4c6"/><stop offset=".996" stop-color="#99ddd3"/></linearGradient><linearGradient id="g140"><stop offset=".004" stop-color="#cfbe5f"/><stop offset=".114" stop-color="#d2cb78"/><stop offset=".151" stop-color="#d3d691"/><stop offset=".188" stop-color="#c8e2af"/><stop offset=".224" stop-color="#bce6bf"/><stop offset=".327" stop-color="#93dbd5"/><stop offset=".438" stop-color="#7dd2dc"/><stop offset=".496" stop-color="#94dcd4"/><stop offset=".504" stop-color="#a2e0cf"/><stop offset=".511" stop-color="#c7e2b1"/><stop offset=".518" stop-color="#c6e3b2"/><stop offset=".526" stop-color="#a6e1cd"/><stop offset=".548" stop-color="#9cdfd1"/><stop offset=".555" stop-color="#75ccdc"/><stop offset=".562" stop-color="#98ddd3"/><stop offset=".592" stop-color="#c9e1ae"/><stop offset=".599" stop-color="#bde6bf"/><stop offset=".629" stop-color="#a3e1ce"/><stop offset=".636" stop-color="#afe3c8"/><stop offset=".695" stop-color="#b5e4c4"/><stop offset=".996" stop-color="#9edfd1"/></linearGradient><linearGradient id="g141"><stop offset=".004" stop-color="#ccb859"/><stop offset=".114" stop-color="#d0c46d"/><stop offset=".202" stop-color="#cbdda5"/><stop offset=".254" stop-color="#b6e4c3"/><stop offset=".327" stop-color="#98ddd3"/><stop offset=".438" stop-color="#7fd3db"/><stop offset=".496" stop-color="#97ddd3"/><stop offset=".504" stop-color="#a4e1cd"/><stop offset=".511" stop-color="#cbdda4"/><stop offset=".518" stop-color="#cadea6"/><stop offset=".526" stop-color="#a9e2cb"/><stop offset=".548" stop-color="#9fdfd0"/><stop offset=".555" stop-color="#76cddc"/><stop offset=".562" stop-color="#9bded2"/><stop offset=".577" stop-color="#b3e4c5"/><stop offset=".592" stop-color="#ccdca0"/><stop offset=".599" stop-color="#c0e4ba"/><stop offset=".629" stop-color="#a6e1cc"/><stop offset=".636" stop-color="#b3e4c5"/><stop offset=".695" stop-color="#b8e4c1"/><stop offset=".996" stop-color="#a4e0ce"/></linearGradient><linearGradient id="g142"><stop offset=".004" stop-color="#c9ad4e"/><stop offset=".121" stop-color="#cdba5b"/><stop offset=".210" stop-color="#d1d895"/><stop offset=".261" stop-color="#bce5bf"/><stop offset=".379" stop-color="#8ed9d7"/><stop offset=".438" stop-color="#82d5db"/><stop offset=".496" stop-color="#9cdfd1"/><stop offset=".504" stop-color="#aae2ca"/><stop offset=".511" stop-color="#d1d895"/><stop offset=".518" stop-color="#d1d896"/><stop offset=".526" stop-color="#afe3c7"/><stop offset=".548" stop-color="#a6e1cd"/><stop offset=".555" stop-color="#79cfdc"/><stop offset=".562" stop-color="#a2e0cf"/><stop offset=".577" stop-color="#bbe5c0"/><stop offset=".592" stop-color="#d2d48d"/><stop offset=".599" stop-color="#c7e1b0"/><stop offset=".629" stop-color="#ace3c9"/><stop offset=".636" stop-color="#bae5c1"/><stop offset=".695" stop-color="#c0e5bb"/><stop offset=".996" stop-color="#ace3c9"/></linearGradient><linearGradient id="g143"><stop offset=".004" stop-color="#caaf4f"/><stop offset=".121" stop-color="#cebb5c"/><stop offset=".210" stop-color="#d3d794"/><stop offset=".232" stop-color="#c9e1ae"/><stop offset=".261" stop-color="#bde6bf"/><stop offset=".379" stop-color="#8dd9d7"/><stop offset=".438" stop-color="#81d4dc"/><stop offset=".496" stop-color="#9aded2"/><stop offset=".504" stop-color="#a8e2cb"/><stop offset=".511" stop-color="#d0da9b"/><stop offset=".518" stop-color="#cfdb9d"/><stop offset=".526" stop-color="#ade3c8"/><stop offset=".548" stop-color="#a4e1ce"/><stop offset=".555" stop-color="#77cedc"/><stop offset=".562" stop-color="#a0e0d0"/><stop offset=".577" stop-color="#b9e5c1"/><stop offset=".592" stop-color="#d3d691"/><stop offset=".599" stop-color="#c6e3b3"/><stop offset=".629" stop-color="#aae2ca"/><stop offset=".636" stop-color="#b8e5c2"/><stop offset=".695" stop-color="#bee5bd"/><stop offset=".996" stop-color="#ade3c9"/></linearGradient><linearGradient id="g144"><stop offset=".004" stop-color="#caaf50"/><stop offset=".121" stop-color="#cdb95a"/><stop offset=".210" stop-color="#d2d590"/><stop offset=".261" stop-color="#bee5bd"/><stop offset=".379" stop-color="#8dd9d7"/><stop offset=".438" stop-color="#80d4dc"/><stop offset=".489" stop-color="#96dcd4"/><stop offset=".504" stop-color="#a8e2cc"/><stop offset=".511" stop-color="#cfdb9e"/><stop offset=".518" stop-color="#cedc9f"/><stop offset=".526" stop-color="#ade3c9"/><stop offset=".548" stop-color="#a4e1ce"/><stop offset=".555" stop-color="#76cedc"/><stop offset=".562" stop-color="#a0e0d0"/><stop offset=".577" stop-color="#b9e5c1"/><stop offset=".592" stop-color="#d2d792"/><stop offset=".599" stop-color="#c5e3b3"/><stop offset=".629" stop-color="#aae2ca"/><stop offset=".636" stop-color="#b8e5c2"/><stop offset=".695" stop-color="#bee5bd"/><stop offset=".996" stop-color="#aee3c8"/></linearGradient><linearGradient id="g145"><stop offset=".004" stop-color="#c6a747"/><stop offset=".136" stop-color="#cbb354"/><stop offset=".188" stop-color="#d0c468"/><stop offset=".232" stop-color="#d3d691"/><stop offset=".254" stop-color="#c9e1ad"/><stop offset=".283" stop-color="#bde6be"/><stop offset=".379" stop-color="#91dbd5"/><stop offset=".438" stop-color="#83d5db"/><stop offset=".496" stop-color="#9fdfd0"/><stop offset=".504" stop-color="#ade3c9"/><stop offset=".511" stop-color="#d3d48c"/><stop offset=".518" stop-color="#d3d48d"/><stop offset=".526" stop-color="#b3e4c5"/><stop offset=".548" stop-color="#aae2cb"/><stop offset=".555" stop-color="#79cfdc"/><stop offset=".562" stop-color="#a5e1cd"/><stop offset=".570" stop-color="#b9e5c2"/><stop offset=".577" stop-color="#c0e5bb"/><stop offset=".585" stop-color="#d1d998"/><stop offset=".592" stop-color="#d2ce7f"/><stop offset=".599" stop-color="#ccdea4"/><stop offset=".629" stop-color="#b0e3c7"/><stop offset=".636" stop-color="#bfe5bc"/><stop offset=".695" stop-color="#c4e3b5"/><stop offset=".996" stop-color="#b7e5c3"/></linearGradient><linearGradient id="g146"><stop offset=".004" stop-color="#c7a949"/><stop offset=".129" stop-color="#cbb252"/><stop offset=".195" stop-color="#d1c56c"/><stop offset=".232" stop-color="#d3d58f"/><stop offset=".261" stop-color="#c6e2b2"/><stop offset=".283" stop-color="#bee5be"/><stop offset=".379" stop-color="#92dbd5"/><stop offset=".438" stop-color="#83d5db"/><stop offset=".496" stop-color="#9edfd1"/><stop offset=".504" stop-color="#ade3c9"/><stop offset=".511" stop-color="#d3d58d"/><stop offset=".518" stop-color="#d3d58e"/><stop offset=".526" stop-color="#b3e4c5"/><stop offset=".548" stop-color="#aae2ca"/><stop offset=".555" stop-color="#78cfdc"/><stop offset=".562" stop-color="#a6e1cd"/><stop offset=".570" stop-color="#b9e5c1"/><stop offset=".577" stop-color="#c0e5ba"/><stop offset=".585" stop-color="#d1d897"/><stop offset=".592" stop-color="#d2ce7e"/><stop offset=".599" stop-color="#cddda2"/><stop offset=".629" stop-color="#b0e3c7"/><stop offset=".636" stop-color="#c0e5bb"/><stop offset=".695" stop-color="#c5e3b3"/><stop offset=".996" stop-color="#b9e5c1"/></linearGradient><linearGradient id="g147"><stop offset=".004" stop-color="#c29c3e"/><stop offset=".114" stop-color="#c4a142"/><stop offset=".202" stop-color="#cdb95a"/><stop offset=".254" stop-color="#d3d38a"/><stop offset=".290" stop-color="#c5e3b5"/><stop offset=".386" stop-color="#97ddd3"/><stop offset=".438" stop-color="#89d7d9"/><stop offset=".496" stop-color="#a6e1cc"/><stop offset=".504" stop-color="#b6e5c3"/><stop offset=".511" stop-color="#d1c872"/><stop offset=".518" stop-color="#d1c973"/><stop offset=".526" stop-color="#bde6be"/><stop offset=".548" stop-color="#b4e4c5"/><stop offset=".555" stop-color="#7dd2dc"/><stop offset=".562" stop-color="#afe3c7"/><stop offset=".570" stop-color="#c3e4b6"/><stop offset=".577" stop-color="#cbdfa9"/><stop offset=".585" stop-color="#d2cb79"/><stop offset=".592" stop-color="#cfc062"/><stop offset=".599" stop-color="#d3d083"/><stop offset=".614" stop-color="#d1d997"/><stop offset=".629" stop-color="#bbe6c1"/><stop offset=".636" stop-color="#cae0aa"/><stop offset=".643" stop-color="#ccdea4"/><stop offset=".695" stop-color="#d2d896"/><stop offset=".812" stop-color="#d2d896"/><stop offset=".996" stop-color="#c5e3b5"/></linearGradient><linearGradient id="g148"><stop offset=".004" stop-color="#c3a042"/><stop offset=".114" stop-color="#c5a445"/><stop offset=".202" stop-color="#cdba5b"/><stop offset=".254" stop-color="#d3d48c"/><stop offset=".290" stop-color="#c4e3b5"/><stop offset=".386" stop-color="#96dcd4"/><stop offset=".438" stop-color="#88d7d9"/><stop offset=".496" stop-color="#a5e1cd"/><stop offset=".504" stop-color="#b5e4c4"/><stop offset=".511" stop-color="#d2ca77"/><stop offset=".518" stop-color="#d2cb77"/><stop offset=".526" stop-color="#bce6bf"/><stop offset=".548" stop-color="#b3e4c5"/><stop offset=".555" stop-color="#7cd1dc"/><stop offset=".562" stop-color="#aee3c8"/><stop offset=".570" stop-color="#c3e4b7"/><stop offset=".577" stop-color="#cae0ab"/><stop offset=".585" stop-color="#d2cd7b"/><stop offset=".592" stop-color="#d0c164"/><stop offset=".599" stop-color="#d3d185"/><stop offset=".614" stop-color="#d1d998"/><stop offset=".629" stop-color="#b9e5c1"/><stop offset=".636" stop-color="#cae0ab"/><stop offset=".643" stop-color="#ccdea5"/><stop offset=".695" stop-color="#d2d896"/><stop offset=".820" stop-color="#d1d997"/><stop offset=".996" stop-color="#c5e3b4"/></linearGradient><linearGradient id="g149"><stop offset=".004" stop-color="#c7a848"/><stop offset=".114" stop-color="#c8aa4b"/><stop offset=".195" stop-color="#cebd5f"/><stop offset=".239" stop-color="#d3d083"/><stop offset=".283" stop-color="#c4e3b5"/><stop offset=".386" stop-color="#93dbd5"/><stop offset=".438" stop-color="#85d6da"/><stop offset=".496" stop-color="#a1e0cf"/><stop offset=".504" stop-color="#b1e4c7"/><stop offset=".511" stop-color="#d3d082"/><stop offset=".518" stop-color="#d3d082"/><stop offset=".526" stop-color="#b8e5c2"/><stop offset=".548" stop-color="#afe3c7"/><stop offset=".555" stop-color="#79cfdc"/><stop offset=".562" stop-color="#abe2ca"/><stop offset=".570" stop-color="#c0e5bb"/><stop offset=".577" stop-color="#c7e2b0"/><stop offset=".585" stop-color="#d3d185"/><stop offset=".592" stop-color="#d1c66d"/><stop offset=".599" stop-color="#d2d58e"/><stop offset=".614" stop-color="#cedca1"/><stop offset=".629" stop-color="#b6e5c4"/><stop offset=".636" stop-color="#c7e1b0"/><stop offset=".643" stop-color="#c9e0ab"/><stop offset=".695" stop-color="#cfdb9e"/><stop offset=".812" stop-color="#cfdb9e"/><stop offset=".996" stop-color="#c3e4b6"/></linearGradient><linearGradient id="g150"><stop offset=".004" stop-color="#c4a243"/><stop offset=".114" stop-color="#c5a445"/><stop offset=".202" stop-color="#ccb758"/><stop offset=".232" stop-color="#d0c56b"/><stop offset=".261" stop-color="#d2d58e"/><stop offset=".290" stop-color="#c7e2b1"/><stop offset=".320" stop-color="#b9e5c2"/><stop offset=".438" stop-color="#88d7d9"/><stop offset=".496" stop-color="#a6e1cd"/><stop offset=".504" stop-color="#b5e5c4"/><stop offset=".511" stop-color="#d1c974"/><stop offset=".518" stop-color="#d1c974"/><stop offset=".526" stop-color="#bde5be"/><stop offset=".548" stop-color="#b4e4c4"/><stop offset=".555" stop-color="#7bd1dc"/><stop offset=".562" stop-color="#b0e3c7"/><stop offset=".570" stop-color="#c5e3b4"/><stop offset=".577" stop-color="#cddda4"/><stop offset=".585" stop-color="#d2ca75"/><stop offset=".592" stop-color="#cfbe60"/><stop offset=".599" stop-color="#d2ce7e"/><stop offset=".614" stop-color="#d2d590"/><stop offset=".629" stop-color="#bbe5c0"/><stop offset=".636" stop-color="#cddda2"/><stop offset=".643" stop-color="#d0da9b"/><stop offset=".695" stop-color="#d3d48c"/><stop offset=".923" stop-color="#d1d896"/><stop offset=".996" stop-color="#cae0aa"/></linearGradient><linearGradient id="g151"><stop offset=".004" stop-color="#c19c3d"/><stop offset=".114" stop-color="#c29d3e"/><stop offset=".210" stop-color="#cab050"/><stop offset=".239" stop-color="#cfc062"/><stop offset=".276" stop-color="#d4d58e"/><stop offset=".298" stop-color="#c9e1ad"/><stop offset=".320" stop-color="#bfe5bc"/><stop offset=".438" stop-color="#8cd9d7"/><stop offset=".496" stop-color="#aae2ca"/><stop offset=".504" stop-color="#bbe6c0"/><stop offset=".511" stop-color="#d0c265"/><stop offset=".518" stop-color="#d0c265"/><stop offset=".526" stop-color="#c2e4b8"/><stop offset=".548" stop-color="#bbe6c1"/><stop offset=".555" stop-color="#7ed2dc"/><stop offset=".562" stop-color="#b6e5c4"/><stop offset=".570" stop-color="#cbdfa8"/><stop offset=".577" stop-color="#d4d691"/><stop offset=".585" stop-color="#d0c264"/><stop offset=".592" stop-color="#ccb657"/><stop offset=".599" stop-color="#d1c66c"/><stop offset=".614" stop-color="#d2ce7e"/><stop offset=".629" stop-color="#c0e5ba"/><stop offset=".636" stop-color="#d4d58f"/><stop offset=".695" stop-color="#d2cc79"/><stop offset=".923" stop-color="#d3d083"/><stop offset=".996" stop-color="#d2d895"/></linearGradient><linearGradient id="g152"><stop offset=".004" stop-color="#c5a344"/><stop offset=".114" stop-color="#c5a344"/><stop offset=".210" stop-color="#ccb656"/><stop offset=".261" stop-color="#d3d286"/><stop offset=".312" stop-color="#bfe5bc"/><stop offset=".438" stop-color="#89d7d9"/><stop offset=".496" stop-color="#a6e1cc"/><stop offset=".504" stop-color="#b7e5c3"/><stop offset=".511" stop-color="#d1c871"/><stop offset=".518" stop-color="#d1c871"/><stop offset=".526" stop-color="#bfe5bc"/><stop offset=".548" stop-color="#b6e5c3"/><stop offset=".555" stop-color="#7bd1dc"/><stop offset=".562" stop-color="#b2e4c6"/><stop offset=".570" stop-color="#c7e1af"/><stop offset=".577" stop-color="#cfdb9c"/><stop offset=".585" stop-color="#d1c76e"/><stop offset=".592" stop-color="#cebb5c"/><stop offset=".599" stop-color="#d2cb77"/><stop offset=".614" stop-color="#d3d287"/><stop offset=".629" stop-color="#bde5be"/><stop offset=".636" stop-color="#d0d999"/><stop offset=".643" stop-color="#d1d793"/><stop offset=".695" stop-color="#d3d082"/><stop offset=".923" stop-color="#d2d48b"/><stop offset=".996" stop-color="#cfdb9e"/></linearGradient><linearGradient id="g153"><stop offset=".004" stop-color="#c4a142"/><stop offset=".114" stop-color="#c4a142"/><stop offset=".210" stop-color="#cbb252"/><stop offset=".239" stop-color="#d0c163"/><stop offset=".276" stop-color="#d4d68f"/><stop offset=".298" stop-color="#c9e1ae"/><stop offset=".320" stop-color="#bee5bd"/><stop offset=".438" stop-color="#8bd8d8"/><stop offset=".496" stop-color="#a9e2cb"/><stop offset=".504" stop-color="#bae5c1"/><stop offset=".511" stop-color="#d0c469"/><stop offset=".518" stop-color="#d0c469"/><stop offset=".526" stop-color="#c1e4b9"/><stop offset=".548" stop-color="#b9e5c1"/><stop offset=".555" stop-color="#7cd1dc"/><stop offset=".562" stop-color="#b4e4c4"/><stop offset=".570" stop-color="#cae0aa"/><stop offset=".577" stop-color="#d3d793"/><stop offset=".585" stop-color="#d0c365"/><stop offset=".592" stop-color="#ccb758"/><stop offset=".599" stop-color="#d1c76e"/><stop offset=".614" stop-color="#d2ce7e"/><stop offset=".629" stop-color="#c0e5bb"/><stop offset=".636" stop-color="#d4d68f"/><stop offset=".695" stop-color="#d2cb78"/><stop offset=".923" stop-color="#d2ce7f"/><stop offset=".996" stop-color="#d4d68f"/></linearGradient><linearGradient id="g154"><stop offset=".004" stop-color="#ba8c33"/><stop offset=".114" stop-color="#ba8c33"/><stop offset=".210" stop-color="#c4a143"/><stop offset=".268" stop-color="#d0c265"/><stop offset=".305" stop-color="#d2d794"/><stop offset=".327" stop-color="#c6e3b3"/><stop offset=".379" stop-color="#a9e2cb"/><stop offset=".438" stop-color="#94dcd4"/><stop offset=".496" stop-color="#b4e4c4"/><stop offset=".504" stop-color="#c5e3b4"/><stop offset=".511" stop-color="#cbb454"/><stop offset=".518" stop-color="#cbb454"/><stop offset=".526" stop-color="#cddda2"/><stop offset=".533" stop-color="#c7e2b2"/><stop offset=".540" stop-color="#cae0ab"/><stop offset=".548" stop-color="#c5e3b4"/><stop offset=".555" stop-color="#82d5db"/><stop offset=".562" stop-color="#c0e5ba"/><stop offset=".570" stop-color="#d3d186"/><stop offset=".585" stop-color="#cbb252"/><stop offset=".592" stop-color="#c6a647"/><stop offset=".599" stop-color="#ccb656"/><stop offset=".614" stop-color="#cebd5f"/><stop offset=".621" stop-color="#d2cc79"/><stop offset=".629" stop-color="#cbdfa7"/><stop offset=".636" stop-color="#d1c66c"/><stop offset=".688" stop-color="#cebb5c"/><stop offset=".923" stop-color="#cebc5e"/><stop offset=".996" stop-color="#d0c469"/></linearGradient><linearGradient id="g155"><stop offset=".004" stop-color="#ba8d33"/><stop offset=".114" stop-color="#ba8d33"/><stop offset=".210" stop-color="#c4a142"/><stop offset=".268" stop-color="#cfc063"/><stop offset=".305" stop-color="#d2d792"/><stop offset=".335" stop-color="#c3e4b7"/><stop offset=".438" stop-color="#95dcd4"/><stop offset=".496" stop-color="#b5e4c4"/><stop offset=".504" stop-color="#c5e3b4"/><stop offset=".511" stop-color="#cbb354"/><stop offset=".518" stop-color="#cbb353"/><stop offset=".526" stop-color="#cedca0"/><stop offset=".533" stop-color="#c7e2b0"/><stop offset=".540" stop-color="#cbdfa9"/><stop offset=".548" stop-color="#c5e3b4"/><stop offset=".555" stop-color="#82d5db"/><stop offset=".562" stop-color="#c1e4ba"/><stop offset=".570" stop-color="#d3d184"/><stop offset=".585" stop-color="#cab151"/><stop offset=".592" stop-color="#c5a546"/><stop offset=".599" stop-color="#ccb555"/><stop offset=".614" stop-color="#cebc5d"/><stop offset=".621" stop-color="#d2ca77"/><stop offset=".629" stop-color="#ccdea5"/><stop offset=".636" stop-color="#d0c46a"/><stop offset=".688" stop-color="#cdb95a"/><stop offset=".923" stop-color="#cdb95a"/><stop offset=".996" stop-color="#d0c164"/></linearGradient><linearGradient id="g156"><stop offset=".004" stop-color="#bb8f34"/><stop offset=".114" stop-color="#bb8f34"/><stop offset=".210" stop-color="#c4a143"/><stop offset=".268" stop-color="#cfc062"/><stop offset=".305" stop-color="#d3d791"/><stop offset=".327" stop-color="#c6e3b2"/><stop offset=".379" stop-color="#aae2ca"/><stop offset=".438" stop-color="#94dcd4"/><stop offset=".496" stop-color="#b5e4c4"/><stop offset=".504" stop-color="#c5e3b4"/><stop offset=".511" stop-color="#cbb454"/><stop offset=".518" stop-color="#cbb454"/><stop offset=".526" stop-color="#cedca1"/><stop offset=".533" stop-color="#c7e2b1"/><stop offset=".540" stop-color="#cae0aa"/><stop offset=".548" stop-color="#c5e3b4"/><stop offset=".555" stop-color="#82d5db"/><stop offset=".562" stop-color="#c1e4ba"/><stop offset=".570" stop-color="#d3d184"/><stop offset=".585" stop-color="#cab151"/><stop offset=".592" stop-color="#c5a546"/><stop offset=".599" stop-color="#ccb555"/><stop offset=".614" stop-color="#cebc5d"/><stop offset=".621" stop-color="#d2ca76"/><stop offset=".629" stop-color="#ccdea6"/><stop offset=".636" stop-color="#d0c469"/><stop offset=".688" stop-color="#cdb95a"/><stop offset=".996" stop-color="#cfbf61"/></linearGradient><linearGradient id="g157"><stop offset=".004" stop-color="#b98a32"/><stop offset=".114" stop-color="#b98a32"/><stop offset=".210" stop-color="#c29d3f"/><stop offset=".268" stop-color="#cebc5d"/><stop offset=".305" stop-color="#d3d389"/><stop offset=".327" stop-color="#c9e0ab"/><stop offset=".349" stop-color="#bfe5bc"/><stop offset=".438" stop-color="#97ddd3"/><stop offset=".496" stop-color="#b8e5c2"/><stop offset=".504" stop-color="#c8e1af"/><stop offset=".511" stop-color="#cab051"/><stop offset=".518" stop-color="#cab050"/><stop offset=".526" stop-color="#d1d998"/><stop offset=".533" stop-color="#cadfa9"/><stop offset=".540" stop-color="#cedca1"/><stop offset=".548" stop-color="#c8e1ae"/><stop offset=".555" stop-color="#83d5db"/><stop offset=".562" stop-color="#c3e4b6"/><stop offset=".570" stop-color="#d2cd7c"/><stop offset=".585" stop-color="#c9ad4d"/><stop offset=".592" stop-color="#c4a142"/><stop offset=".599" stop-color="#cab051"/><stop offset=".614" stop-color="#cdb858"/><stop offset=".621" stop-color="#d1c66d"/><stop offset=".629" stop-color="#cfdb9d"/><stop offset=".636" stop-color="#cfc063"/><stop offset=".688" stop-color="#cbb455"/><stop offset=".996" stop-color="#cdb95a"/></linearGradient><linearGradient id="g158"><stop offset=".004" stop-color="#be963a"/><stop offset=".114" stop-color="#be963a"/><stop offset=".210" stop-color="#c6a647"/><stop offset=".268" stop-color="#d0c369"/><stop offset=".290" stop-color="#d3d083"/><stop offset=".335" stop-color="#c1e4ba"/><stop offset=".438" stop-color="#92dbd5"/><stop offset=".496" stop-color="#b2e4c6"/><stop offset=".504" stop-color="#c2e4b7"/><stop offset=".511" stop-color="#cdb859"/><stop offset=".518" stop-color="#cdb859"/><stop offset=".526" stop-color="#cbdea7"/><stop offset=".533" stop-color="#c5e3b3"/><stop offset=".540" stop-color="#c8e0ad"/><stop offset=".548" stop-color="#c3e4b7"/><stop offset=".555" stop-color="#7fd3dc"/><stop offset=".562" stop-color="#bee5bc"/><stop offset=".570" stop-color="#d2d38b"/><stop offset=".585" stop-color="#cbb455"/><stop offset=".592" stop-color="#c7a849"/><stop offset=".599" stop-color="#cdb859"/><stop offset=".614" stop-color="#cfbf62"/><stop offset=".621" stop-color="#d2cd7c"/><stop offset=".629" stop-color="#c9e0ab"/><stop offset=".636" stop-color="#d1c76f"/><stop offset=".688" stop-color="#cebb5c"/><stop offset=".923" stop-color="#cdb859"/><stop offset=".996" stop-color="#cfbf62"/></linearGradient><linearGradient id="g159"><stop offset=".004" stop-color="#bb8e34"/><stop offset=".114" stop-color="#bb8e34"/><stop offset=".210" stop-color="#c39f40"/><stop offset=".268" stop-color="#cebc5e"/><stop offset=".305" stop-color="#d2d38b"/><stop offset=".342" stop-color="#c2e4b8"/><stop offset=".438" stop-color="#96dcd4"/><stop offset=".496" stop-color="#b7e5c3"/><stop offset=".504" stop-color="#c7e1ae"/><stop offset=".511" stop-color="#cab252"/><stop offset=".518" stop-color="#cab152"/><stop offset=".526" stop-color="#cfda9a"/><stop offset=".533" stop-color="#cadfa8"/><stop offset=".540" stop-color="#cddda2"/><stop offset=".548" stop-color="#c8e1ad"/><stop offset=".555" stop-color="#82d5db"/><stop offset=".562" stop-color="#c3e4b7"/><stop offset=".570" stop-color="#d2cd7d"/><stop offset=".585" stop-color="#c9ae4e"/><stop offset=".592" stop-color="#c4a143"/><stop offset=".599" stop-color="#cab152"/><stop offset=".614" stop-color="#cdb858"/><stop offset=".621" stop-color="#d1c66f"/><stop offset=".629" stop-color="#cedc9f"/><stop offset=".636" stop-color="#cfc064"/><stop offset=".673" stop-color="#ccb657"/><stop offset=".996" stop-color="#ccb657"/></linearGradient><linearGradient id="g160"><stop offset=".004" stop-color="#b5832e"/><stop offset=".114" stop-color="#b5832d"/><stop offset=".210" stop-color="#be9539"/><stop offset=".283" stop-color="#cebd5e"/><stop offset=".312" stop-color="#d3d184"/><stop offset=".357" stop-color="#c0e5bb"/><stop offset=".438" stop-color="#99ded2"/><stop offset=".496" stop-color="#bce5bf"/><stop offset=".504" stop-color="#cddda4"/><stop offset=".511" stop-color="#c8ab4b"/><stop offset=".518" stop-color="#c8aa4b"/><stop offset=".526" stop-color="#d3d38a"/><stop offset=".533" stop-color="#d0da9a"/><stop offset=".540" stop-color="#d1d691"/><stop offset=".548" stop-color="#cedca0"/><stop offset=".555" stop-color="#85d6da"/><stop offset=".562" stop-color="#c9e0ac"/><stop offset=".570" stop-color="#d1c56c"/><stop offset=".592" stop-color="#c0983b"/><stop offset=".599" stop-color="#c7a949"/><stop offset=".614" stop-color="#caaf50"/><stop offset=".621" stop-color="#cfbf61"/><stop offset=".629" stop-color="#d2d58f"/><stop offset=".636" stop-color="#cdb859"/><stop offset=".688" stop-color="#c8ab4c"/><stop offset=".996" stop-color="#c8ab4c"/></linearGradient><linearGradient id="g161"><stop offset=".004" stop-color="#a6631e"/><stop offset=".114" stop-color="#a5621d"/><stop offset=".202" stop-color="#af7827"/><stop offset=".246" stop-color="#be9438"/><stop offset=".312" stop-color="#cfc062"/><stop offset=".342" stop-color="#d3d58f"/><stop offset=".357" stop-color="#cae0aa"/><stop offset=".379" stop-color="#bce6c0"/><stop offset=".438" stop-color="#a0e0d0"/><stop offset=".496" stop-color="#c6e3b3"/><stop offset=".504" stop-color="#d3d184"/><stop offset=".511" stop-color="#c19b3d"/><stop offset=".518" stop-color="#c19a3c"/><stop offset=".526" stop-color="#d0c469"/><stop offset=".533" stop-color="#d2cb79"/><stop offset=".540" stop-color="#d1c76f"/><stop offset=".548" stop-color="#d2ce7e"/><stop offset=".555" stop-color="#8cd9d7"/><stop offset=".562" stop-color="#d4d48b"/><stop offset=".570" stop-color="#ccb555"/><stop offset=".577" stop-color="#c8aa4b"/><stop offset=".592" stop-color="#b3802c"/><stop offset=".599" stop-color="#bf9739"/><stop offset=".614" stop-color="#c39e40"/><stop offset=".621" stop-color="#c9ae4e"/><stop offset=".629" stop-color="#d1c76f"/><stop offset=".636" stop-color="#c6a748"/><stop offset=".688" stop-color="#c19a3c"/><stop offset=".923" stop-color="#bb8e34"/><stop offset=".996" stop-color="#be9438"/></linearGradient><linearGradient id="g162"><stop offset=".004" stop-color="#b27d2a"/><stop offset=".114" stop-color="#b17b29"/><stop offset=".202" stop-color="#b88931"/><stop offset=".232" stop-color="#c0993b"/><stop offset=".298" stop-color="#cfbf60"/><stop offset=".327" stop-color="#d4d48d"/><stop offset=".349" stop-color="#c7e2b2"/><stop offset=".364" stop-color="#bee5be"/><stop offset=".438" stop-color="#95dcd4"/><stop offset=".496" stop-color="#bee5bd"/><stop offset=".504" stop-color="#cfdb9e"/><stop offset=".511" stop-color="#c7a849"/><stop offset=".518" stop-color="#c6a748"/><stop offset=".526" stop-color="#d3cf81"/><stop offset=".533" stop-color="#d4d58e"/><stop offset=".540" stop-color="#d3d185"/><stop offset=".548" stop-color="#d3d793"/><stop offset=".555" stop-color="#86d6da"/><stop offset=".562" stop-color="#cddda2"/><stop offset=".570" stop-color="#cfbf60"/><stop offset=".592" stop-color="#bc9136"/><stop offset=".599" stop-color="#c4a344"/><stop offset=".614" stop-color="#c7a94a"/><stop offset=".621" stop-color="#cdb959"/><stop offset=".629" stop-color="#d3d186"/><stop offset=".636" stop-color="#cab152"/><stop offset=".643" stop-color="#c9ae4e"/><stop offset=".805" stop-color="#c29d3e"/><stop offset=".996" stop-color="#c29c3e"/></linearGradient><linearGradient id="g163"><stop offset=".004" stop-color="#9e5216"/><stop offset=".158" stop-color="#a05718"/><stop offset=".210" stop-color="#a6651e"/><stop offset=".261" stop-color="#ba8d33"/><stop offset=".327" stop-color="#d0c264"/><stop offset=".349" stop-color="#d4d48b"/><stop offset=".379" stop-color="#bfe5bc"/><stop offset=".438" stop-color="#9edfd1"/><stop offset=".474" stop-color="#bce6c0"/><stop offset=".496" stop-color="#cbdfa9"/><stop offset=".504" stop-color="#d2cb77"/><stop offset=".511" stop-color="#bd9337"/><stop offset=".518" stop-color="#bd9136"/><stop offset=".526" stop-color="#cebd5e"/><stop offset=".548" stop-color="#d1c56b"/><stop offset=".555" stop-color="#90dad6"/><stop offset=".562" stop-color="#d2cb78"/><stop offset=".570" stop-color="#c8aa4b"/><stop offset=".577" stop-color="#c3a041"/><stop offset=".592" stop-color="#ab6e23"/><stop offset=".599" stop-color="#b88931"/><stop offset=".614" stop-color="#bd9236"/><stop offset=".629" stop-color="#cfbf61"/><stop offset=".636" stop-color="#c29d3f"/><stop offset=".695" stop-color="#ba8c33"/><stop offset=".923" stop-color="#ae7526"/><stop offset=".996" stop-color="#af7828"/></linearGradient><linearGradient id="g164"><stop offset=".004" stop-color="#a45f1c"/><stop offset=".121" stop-color="#a25b1a"/><stop offset=".202" stop-color="#aa6c22"/><stop offset=".261" stop-color="#bd9236"/><stop offset=".320" stop-color="#cfbf61"/><stop offset=".349" stop-color="#d2d895"/><stop offset=".364" stop-color="#c6e3b3"/><stop offset=".379" stop-color="#bae6c1"/><stop offset=".438" stop-color="#97ddd3"/><stop offset=".496" stop-color="#c6e3b3"/><stop offset=".504" stop-color="#d3d084"/><stop offset=".511" stop-color="#c19c3d"/><stop offset=".518" stop-color="#c19a3c"/><stop offset=".526" stop-color="#d0c265"/><stop offset=".533" stop-color="#d1c871"/><stop offset=".540" stop-color="#d0c366"/><stop offset=".548" stop-color="#d2ca75"/><stop offset=".555" stop-color="#8dd9d7"/><stop offset=".562" stop-color="#d3cf81"/><stop offset=".570" stop-color="#c9ae4f"/><stop offset=".577" stop-color="#c5a445"/><stop offset=".592" stop-color="#b07a28"/><stop offset=".599" stop-color="#bc9035"/><stop offset=".614" stop-color="#c0983b"/><stop offset=".621" stop-color="#c7a94a"/><stop offset=".629" stop-color="#d1c56a"/><stop offset=".636" stop-color="#c4a243"/><stop offset=".643" stop-color="#c29e3f"/><stop offset=".812" stop-color="#b4822d"/><stop offset=".996" stop-color="#b17b29"/></linearGradient><linearGradient id="g165"><stop offset=".004" stop-color="#9e5216"/><stop offset=".114" stop-color="#9c4e14"/><stop offset=".202" stop-color="#a35e1b"/><stop offset=".261" stop-color="#b88931"/><stop offset=".327" stop-color="#cfc062"/><stop offset=".349" stop-color="#d3d38a"/><stop offset=".364" stop-color="#c9e1ac"/><stop offset=".379" stop-color="#bde6be"/><stop offset=".438" stop-color="#97ddd3"/><stop offset=".496" stop-color="#c9e1ae"/><stop offset=".504" stop-color="#d2cd7b"/><stop offset=".511" stop-color="#bf9639"/><stop offset=".518" stop-color="#be9437"/><stop offset=".526" stop-color="#cebc5e"/><stop offset=".548" stop-color="#d0c366"/><stop offset=".555" stop-color="#90dad6"/><stop offset=".562" stop-color="#d1c871"/><stop offset=".570" stop-color="#c6a647"/><stop offset=".577" stop-color="#c19b3d"/><stop offset=".592" stop-color="#a86920"/><stop offset=".599" stop-color="#b5842e"/><stop offset=".614" stop-color="#ba8d33"/><stop offset=".621" stop-color="#c4a142"/><stop offset=".629" stop-color="#cfbe5f"/><stop offset=".636" stop-color="#c0993b"/><stop offset=".688" stop-color="#b88830"/><stop offset=".812" stop-color="#ad7225"/><stop offset=".996" stop-color="#a7661f"/></linearGradient><linearGradient id="g166"><stop offset=".004" stop-color="#9d5015"/><stop offset=".114" stop-color="#9a4d14"/><stop offset=".202" stop-color="#a25b1a"/><stop offset=".261" stop-color="#b78730"/><stop offset=".327" stop-color="#cfbf61"/><stop offset=".349" stop-color="#d3d288"/><stop offset=".364" stop-color="#cae0aa"/><stop offset=".379" stop-color="#bee5be"/><stop offset=".438" stop-color="#95dcd4"/><stop offset=".496" stop-color="#c7e2b1"/><stop offset=".504" stop-color="#d2cd7c"/><stop offset=".511" stop-color="#be9538"/><stop offset=".518" stop-color="#bd9236"/><stop offset=".526" stop-color="#cebb5c"/><stop offset=".548" stop-color="#cfbf61"/><stop offset=".555" stop-color="#92dbd5"/><stop offset=".562" stop-color="#d0c367"/><stop offset=".570" stop-color="#c4a142"/><stop offset=".577" stop-color="#be9538"/><stop offset=".592" stop-color="#a35e1b"/><stop offset=".599" stop-color="#b17c29"/><stop offset=".614" stop-color="#b6842e"/><stop offset=".621" stop-color="#c19b3c"/><stop offset=".629" stop-color="#cdb95b"/><stop offset=".636" stop-color="#bc9136"/><stop offset=".688" stop-color="#b27e2b"/><stop offset=".812" stop-color="#a7661f"/><stop offset=".996" stop-color="#a25a1a"/></linearGradient><linearGradient id="g167"><stop offset=".004" stop-color="#a5621d"/><stop offset=".136" stop-color="#a5611d"/><stop offset=".210" stop-color="#ac7024"/><stop offset=".261" stop-color="#bd9237"/><stop offset=".312" stop-color="#cdba5b"/><stop offset=".342" stop-color="#d2d389"/><stop offset=".364" stop-color="#c5e3b4"/><stop offset=".379" stop-color="#b8e5c2"/><stop offset=".438" stop-color="#8ed9d7"/><stop offset=".496" stop-color="#c1e4ba"/><stop offset=".504" stop-color="#d2d58e"/><stop offset=".511" stop-color="#c39f40"/><stop offset=".518" stop-color="#c19b3e"/><stop offset=".526" stop-color="#cfc166"/><stop offset=".533" stop-color="#d0c56c"/><stop offset=".540" stop-color="#cfbe61"/><stop offset=".548" stop-color="#d0c46a"/><stop offset=".555" stop-color="#8fdad6"/><stop offset=".562" stop-color="#d1c770"/><stop offset=".570" stop-color="#c5a546"/><stop offset=".577" stop-color="#c0983c"/><stop offset=".592" stop-color="#a86820"/><stop offset=".599" stop-color="#b4812d"/><stop offset=".614" stop-color="#b88a31"/><stop offset=".621" stop-color="#c29e40"/><stop offset=".629" stop-color="#cebe60"/><stop offset=".636" stop-color="#be9439"/><stop offset=".695" stop-color="#b4802c"/><stop offset=".923" stop-color="#a6631e"/><stop offset=".996" stop-color="#a6631e"/></linearGradient><linearGradient id="g168"><stop offset=".004" stop-color="#a05618"/><stop offset=".114" stop-color="#9d5116"/><stop offset=".202" stop-color="#a5621d"/><stop offset=".261" stop-color="#b98b32"/><stop offset=".327" stop-color="#d0c264"/><stop offset=".349" stop-color="#d4d58d"/><stop offset=".364" stop-color="#c8e2af"/><stop offset=".379" stop-color="#bce6c0"/><stop offset=".438" stop-color="#8dd9d7"/><stop offset=".496" stop-color="#c2e4b8"/><stop offset=".504" stop-color="#d3d287"/><stop offset=".511" stop-color="#c19a3c"/><stop offset=".518" stop-color="#bf9639"/><stop offset=".526" stop-color="#cebc5d"/><stop offset=".548" stop-color="#cebd5e"/><stop offset=".555" stop-color="#93dbd5"/><stop offset=".562" stop-color="#cfc061"/><stop offset=".570" stop-color="#c19c3d"/><stop offset=".577" stop-color="#ba8d33"/><stop offset=".592" stop-color="#9f5417"/><stop offset=".599" stop-color="#ac7224"/><stop offset=".614" stop-color="#b17c29"/><stop offset=".621" stop-color="#bd9337"/><stop offset=".629" stop-color="#ccb656"/><stop offset=".636" stop-color="#b78730"/><stop offset=".695" stop-color="#ab6e23"/><stop offset=".879" stop-color="#9e5316"/><stop offset=".996" stop-color="#9d5015"/></linearGradient><linearGradient id="g169"><stop offset=".004" stop-color="#a96b22"/><stop offset=".114" stop-color="#a7661f"/><stop offset=".202" stop-color="#ae7526"/><stop offset=".261" stop-color="#bf973b"/><stop offset=".305" stop-color="#cdb858"/><stop offset=".349" stop-color="#cedca0"/><stop offset=".379" stop-color="#b6e5c4"/><stop offset=".438" stop-color="#87d6da"/><stop offset=".496" stop-color="#bae5c0"/><stop offset=".504" stop-color="#ceda9c"/><stop offset=".511" stop-color="#c5a344"/><stop offset=".518" stop-color="#c39f41"/><stop offset=".526" stop-color="#d0c36a"/><stop offset=".533" stop-color="#d1c66e"/><stop offset=".540" stop-color="#cfbe62"/><stop offset=".548" stop-color="#d0c369"/><stop offset=".555" stop-color="#8fdad6"/><stop offset=".562" stop-color="#d0c56d"/><stop offset=".570" stop-color="#c4a142"/><stop offset=".577" stop-color="#bd9338"/><stop offset=".592" stop-color="#a5621d"/><stop offset=".599" stop-color="#b17b29"/><stop offset=".614" stop-color="#b5832e"/><stop offset=".621" stop-color="#c0993c"/><stop offset=".629" stop-color="#cebb5d"/><stop offset=".636" stop-color="#bb8e34"/><stop offset=".695" stop-color="#af7727"/><stop offset=".996" stop-color="#a35d1b"/></linearGradient><linearGradient id="g170"><stop offset=".004" stop-color="#a86720"/><stop offset=".114" stop-color="#a4601c"/><stop offset=".202" stop-color="#ad7325"/><stop offset=".261" stop-color="#bf9639"/><stop offset=".320" stop-color="#cfc062"/><stop offset=".349" stop-color="#d1d997"/><stop offset=".364" stop-color="#c5e3b4"/><stop offset=".379" stop-color="#b9e5c2"/><stop offset=".438" stop-color="#88d7d9"/><stop offset=".496" stop-color="#bbe6c0"/><stop offset=".504" stop-color="#d1d997"/><stop offset=".511" stop-color="#c39f40"/><stop offset=".518" stop-color="#c19b3c"/><stop offset=".526" stop-color="#cfc062"/><stop offset=".548" stop-color="#cfbf61"/><stop offset=".555" stop-color="#92dbd5"/><stop offset=".562" stop-color="#d0c164"/><stop offset=".570" stop-color="#c29d3e"/><stop offset=".577" stop-color="#bb8e34"/><stop offset=".592" stop-color="#a05618"/><stop offset=".599" stop-color="#ad7325"/><stop offset=".614" stop-color="#b27d2a"/><stop offset=".621" stop-color="#be9438"/><stop offset=".629" stop-color="#ccb657"/><stop offset=".636" stop-color="#b88931"/><stop offset=".695" stop-color="#ac7024"/><stop offset=".864" stop-color="#a05618"/><stop offset=".996" stop-color="#9f5417"/></linearGradient><linearGradient id="g171"><stop offset=".004" stop-color="#b6842e"/><stop offset=".114" stop-color="#b27e2a"/><stop offset=".202" stop-color="#ba8d33"/><stop offset=".261" stop-color="#c6a647"/><stop offset=".305" stop-color="#d0c264"/><stop offset=".335" stop-color="#d3d793"/><stop offset=".349" stop-color="#c8e2b0"/><stop offset=".364" stop-color="#bee5be"/><stop offset=".438" stop-color="#83d5db"/><stop offset=".496" stop-color="#b0e3c7"/><stop offset=".504" stop-color="#c6e3b3"/><stop offset=".511" stop-color="#c9ae4e"/><stop offset=".518" stop-color="#c7aa4a"/><stop offset=".526" stop-color="#d2cd7d"/><stop offset=".533" stop-color="#d3d082"/><stop offset=".540" stop-color="#d1c871"/><stop offset=".548" stop-color="#d2cc79"/><stop offset=".555" stop-color="#8cd8d8"/><stop offset=".562" stop-color="#d2cd7c"/><stop offset=".570" stop-color="#c7aa4a"/><stop offset=".592" stop-color="#ae7626"/><stop offset=".599" stop-color="#b98a32"/><stop offset=".614" stop-color="#bc9136"/><stop offset=".621" stop-color="#c5a344"/><stop offset=".629" stop-color="#d0c367"/><stop offset=".636" stop-color="#c19b3c"/><stop offset=".688" stop-color="#b88a32"/><stop offset=".923" stop-color="#aa6d22"/><stop offset=".996" stop-color="#ad7325"/></linearGradient><linearGradient id="g172"><stop offset=".004" stop-color="#ae7526"/><stop offset=".114" stop-color="#a96a21"/><stop offset=".202" stop-color="#b3802c"/><stop offset=".261" stop-color="#c29d3f"/><stop offset=".312" stop-color="#cebd5f"/><stop offset=".349" stop-color="#cfd999"/><stop offset=".379" stop-color="#b9e5c1"/><stop offset=".438" stop-color="#89d7d9"/><stop offset=".496" stop-color="#b5e4c4"/><stop offset=".504" stop-color="#cbdea7"/><stop offset=".511" stop-color="#c6a748"/><stop offset=".518" stop-color="#c4a344"/><stop offset=".526" stop-color="#d1c56d"/><stop offset=".533" stop-color="#d1c76f"/><stop offset=".540" stop-color="#cfbf62"/><stop offset=".548" stop-color="#d0c268"/><stop offset=".555" stop-color="#93dbd5"/><stop offset=".562" stop-color="#d0c36a"/><stop offset=".570" stop-color="#c39f41"/><stop offset=".592" stop-color="#a5611d"/><stop offset=".599" stop-color="#b07929"/><stop offset=".614" stop-color="#b5832d"/><stop offset=".621" stop-color="#bf983b"/><stop offset=".629" stop-color="#cebb5c"/><stop offset=".636" stop-color="#ba8d33"/><stop offset=".695" stop-color="#af7627"/><stop offset=".923" stop-color="#9e5517"/><stop offset=".996" stop-color="#a25d1b"/></linearGradient><linearGradient id="g173"><stop offset=".004" stop-color="#be973c"/><stop offset=".114" stop-color="#b68530"/><stop offset=".210" stop-color="#bd9339"/><stop offset=".254" stop-color="#c6a647"/><stop offset=".290" stop-color="#cdb95a"/><stop offset=".320" stop-color="#d2cb79"/><stop offset=".342" stop-color="#cddb9e"/><stop offset=".379" stop-color="#b3e4c5"/><stop offset=".438" stop-color="#88d7d9"/><stop offset=".496" stop-color="#abe2ca"/><stop offset=".504" stop-color="#c1e3b8"/><stop offset=".511" stop-color="#ccb657"/><stop offset=".518" stop-color="#cab253"/><stop offset=".526" stop-color="#cfd38b"/><stop offset=".533" stop-color="#ced48e"/><stop offset=".540" stop-color="#d1cd7c"/><stop offset=".548" stop-color="#d0d084"/><stop offset=".555" stop-color="#8dd9d7"/><stop offset=".562" stop-color="#d0d085"/><stop offset=".570" stop-color="#c9af50"/><stop offset=".592" stop-color="#b37e2c"/><stop offset=".599" stop-color="#bc9137"/><stop offset=".614" stop-color="#bf973c"/><stop offset=".621" stop-color="#c6a849"/><stop offset=".629" stop-color="#d1c874"/><stop offset=".636" stop-color="#c29e41"/><stop offset=".643" stop-color="#bf993d"/><stop offset=".812" stop-color="#b17929"/><stop offset=".923" stop-color="#ac7125"/><stop offset=".996" stop-color="#b27b2a"/></linearGradient><linearGradient id="g174"><stop offset=".004" stop-color="#cbd99a"/><stop offset=".114" stop-color="#cdba5c"/><stop offset=".210" stop-color="#cdb95a"/><stop offset=".261" stop-color="#d1c973"/><stop offset=".290" stop-color="#d1d895"/><stop offset=".327" stop-color="#bfe5bc"/><stop offset=".386" stop-color="#99ddd3"/><stop offset=".438" stop-color="#7fd3dc"/><stop offset=".496" stop-color="#92dbd5"/><stop offset=".504" stop-color="#a5e1cd"/><stop offset=".511" stop-color="#cfda9c"/><stop offset=".518" stop-color="#d0d795"/><stop offset=".526" stop-color="#b7e5c3"/><stop offset=".548" stop-color="#b8e5c2"/><stop offset=".555" stop-color="#7dd2dc"/><stop offset=".562" stop-color="#b8e5c2"/><stop offset=".570" stop-color="#ceda9b"/><stop offset=".585" stop-color="#cfc065"/><stop offset=".592" stop-color="#ccb657"/><stop offset=".599" stop-color="#cfc267"/><stop offset=".614" stop-color="#d1c770"/><stop offset=".621" stop-color="#d2d288"/><stop offset=".629" stop-color="#c1e4ba"/><stop offset=".636" stop-color="#d2cb77"/><stop offset=".695" stop-color="#cebc5d"/><stop offset=".812" stop-color="#cbb353"/><stop offset=".996" stop-color="#cdb859"/></linearGradient><linearGradient id="g175"><stop offset=".004" stop-color="#b2e4c6"/><stop offset=".092" stop-color="#ccdda3"/><stop offset=".202" stop-color="#d0d289"/><stop offset=".261" stop-color="#ccdda3"/><stop offset=".312" stop-color="#b7e5c2"/><stop offset=".438" stop-color="#7dd2dc"/><stop offset=".496" stop-color="#87d7d9"/><stop offset=".504" stop-color="#97ddd3"/><stop offset=".511" stop-color="#bee5bc"/><stop offset=".518" stop-color="#c0e4ba"/><stop offset=".526" stop-color="#a5e1cd"/><stop offset=".548" stop-color="#a4e1ce"/><stop offset=".555" stop-color="#76cedc"/><stop offset=".562" stop-color="#a3e0ce"/><stop offset=".570" stop-color="#b8e4c1"/><stop offset=".577" stop-color="#bfe4ba"/><stop offset=".592" stop-color="#d0d48d"/><stop offset=".599" stop-color="#ccdda3"/><stop offset=".614" stop-color="#c7e0ad"/><stop offset=".629" stop-color="#ade3c8"/><stop offset=".636" stop-color="#c5e2b1"/><stop offset=".658" stop-color="#cbdda5"/><stop offset=".805" stop-color="#d0d288"/><stop offset=".923" stop-color="#d0d288"/><stop offset=".996" stop-color="#ced795"/></linearGradient><linearGradient id="g176"><stop offset=".004" stop-color="#a0e0d0"/><stop offset=".210" stop-color="#b3e4c5"/><stop offset=".438" stop-color="#79d0dc"/><stop offset=".496" stop-color="#7dd2dc"/><stop offset=".504" stop-color="#88d7d9"/><stop offset=".511" stop-color="#a9e2cb"/><stop offset=".518" stop-color="#aae2ca"/><stop offset=".526" stop-color="#8fdad6"/><stop offset=".548" stop-color="#8cd9d7"/><stop offset=".555" stop-color="#6fc9dc"/><stop offset=".570" stop-color="#9aded2"/><stop offset=".592" stop-color="#b5e4c4"/><stop offset=".629" stop-color="#94dbd5"/><stop offset=".636" stop-color="#a3e0ce"/><stop offset=".695" stop-color="#ade3c9"/><stop offset=".996" stop-color="#b1e4c6"/></linearGradient><linearGradient id="g177"><stop offset=".004" stop-color="#96dcd4"/><stop offset=".210" stop-color="#9aded2"/><stop offset=".489" stop-color="#79cfdc"/><stop offset=".504" stop-color="#82d5db"/><stop offset=".511" stop-color="#a0e0d0"/><stop offset=".518" stop-color="#9fe0d0"/><stop offset=".526" stop-color="#85d6da"/><stop offset=".548" stop-color="#80d4dc"/><stop offset=".555" stop-color="#6cc7dc"/><stop offset=".562" stop-color="#7ed3dc"/><stop offset=".592" stop-color="#a0e0d0"/><stop offset=".629" stop-color="#86d6da"/><stop offset=".695" stop-color="#96dcd4"/><stop offset=".996" stop-color="#9aded2"/></linearGradient><linearGradient id="g178"><stop offset=".004" stop-color="#8ed9d7"/><stop offset=".320" stop-color="#8cd9d7"/><stop offset=".489" stop-color="#77cedc"/><stop offset=".504" stop-color="#7fd4dc"/><stop offset=".511" stop-color="#9aded2"/><stop offset=".518" stop-color="#99ded2"/><stop offset=".526" stop-color="#81d4dc"/><stop offset=".548" stop-color="#7bd1dc"/><stop offset=".555" stop-color="#6bc6dc"/><stop offset=".592" stop-color="#97ddd3"/><stop offset=".629" stop-color="#81d4dc"/><stop offset=".695" stop-color="#8ed9d7"/><stop offset=".996" stop-color="#90dad6"/></linearGradient><linearGradient id="cb179" x1="0" y1="0" x2="0" y2="1"><stop offset="0.000" stop-color="#7a1a02"/><stop offset="0.047" stop-color="#842a06"/><stop offset="0.111" stop-color="#8e3a0c"/><stop offset="0.178" stop-color="#9e5216"/><stop offset="0.244" stop-color="#b07a28"/><stop offset="0.311" stop-color="#c0983a"/><stop offset="0.378" stop-color="#cab050"/><stop offset="0.422" stop-color="#d0c264"/><stop offset="0.467" stop-color="#d4d690"/><stop offset="0.493" stop-color="#c8e2b0"/><stop offset="0.522" stop-color="#bce6c0"/><stop offset="0.573" stop-color="#a0e0d0"/><stop offset="0.622" stop-color="#80d4dc"/><stop offset="0.667" stop-color="#62c0dc"/><stop offset="0.722" stop-color="#4aaad4"/><stop offset="0.771" stop-color="#3892c8"/><stop offset="0.822" stop-color="#2c7cbc"/><stop offset="0.867" stop-color="#2268b0"/><stop offset="0.922" stop-color="#1854a4"/><stop offset="0.971" stop-color="#104498"/><stop offset="1.000" stop-color="#0a3888"/></linearGradient><linearGradient id="g180"><stop offset=".004" stop-color="#5dbbda"/><stop offset=".327" stop-color="#5fbddb"/><stop offset=".621" stop-color="#80d4dc"/><stop offset=".665" stop-color="#96dcd4"/><stop offset=".710" stop-color="#bbe6c0"/><stop offset=".739" stop-color="#d3d794"/><stop offset=".768" stop-color="#d0c467"/><stop offset=".783" stop-color="#cebd5f"/><stop offset=".842" stop-color="#cbb454"/><stop offset=".996" stop-color="#cbb253"/></linearGradient><linearGradient id="g181"><stop offset=".004" stop-color="#5cbbda"/><stop offset=".327" stop-color="#5ebddb"/><stop offset=".629" stop-color="#80d4dc"/><stop offset=".673" stop-color="#97ddd3"/><stop offset=".717" stop-color="#bde6be"/><stop offset=".732" stop-color="#c8e2b0"/><stop offset=".746" stop-color="#d3d793"/><stop offset=".790" stop-color="#d0c163"/><stop offset=".996" stop-color="#cdb95a"/></linearGradient><linearGradient id="g182"><stop offset=".004" stop-color="#5cbada"/><stop offset=".335" stop-color="#5ebddb"/><stop offset=".548" stop-color="#6ec8dc"/><stop offset=".643" stop-color="#81d4dc"/><stop offset=".724" stop-color="#bbe6c0"/><stop offset=".746" stop-color="#c9e1ae"/><stop offset=".768" stop-color="#d4d48d"/><stop offset=".827" stop-color="#d1c76e"/><stop offset=".996" stop-color="#d0c469"/></linearGradient><linearGradient id="g183"><stop offset=".004" stop-color="#5cbada"/><stop offset=".415" stop-color="#62c0dc"/><stop offset=".607" stop-color="#72cadc"/><stop offset=".658" stop-color="#82d5db"/><stop offset=".739" stop-color="#bbe6c1"/><stop offset=".790" stop-color="#d1d999"/><stop offset=".842" stop-color="#d3d38a"/><stop offset=".996" stop-color="#d3d288"/></linearGradient><linearGradient id="g184"><stop offset=".004" stop-color="#5bbada"/><stop offset=".335" stop-color="#5dbcda"/><stop offset=".562" stop-color="#6ec8dc"/><stop offset=".651" stop-color="#82d5db"/><stop offset=".732" stop-color="#bde6bf"/><stop offset=".768" stop-color="#d2d895"/><stop offset=".827" stop-color="#d2ca76"/><stop offset=".996" stop-color="#d1c871"/></linearGradient><linearGradient id="g185"><stop offset=".004" stop-color="#5bb9da"/><stop offset=".335" stop-color="#5dbbda"/><stop offset=".548" stop-color="#6dc7dc"/><stop offset=".643" stop-color="#80d4dc"/><stop offset=".724" stop-color="#bce6c0"/><stop offset=".761" stop-color="#d4d690"/><stop offset=".790" stop-color="#d2ca75"/><stop offset=".827" stop-color="#d0c468"/><stop offset=".996" stop-color="#d0c163"/></linearGradient><linearGradient id="g186"><stop offset=".004" stop-color="#5ab9d9"/><stop offset=".335" stop-color="#5dbbda"/><stop offset=".548" stop-color="#6cc7dc"/><stop offset=".643" stop-color="#80d4dc"/><stop offset=".717" stop-color="#b6e5c3"/><stop offset=".739" stop-color="#c7e2b2"/><stop offset=".754" stop-color="#d1d998"/><stop offset=".783" stop-color="#d2ca76"/><stop offset=".812" stop-color="#d0c367"/><stop offset=".996" stop-color="#cfc061"/></linearGradient><linearGradient id="g187"><stop offset=".004" stop-color="#5ab9d9"/><stop offset=".335" stop-color="#5cbbda"/><stop offset=".548" stop-color="#6cc6dc"/><stop offset=".643" stop-color="#7fd3dc"/><stop offset=".724" stop-color="#bce6c0"/><stop offset=".761" stop-color="#d4d690"/><stop offset=".790" stop-color="#d1c974"/><stop offset=".827" stop-color="#d0c366"/><stop offset=".996" stop-color="#d0c163"/></linearGradient><linearGradient id="g188"><stop offset=".004" stop-color="#59b8d9"/><stop offset=".335" stop-color="#5cbada"/><stop offset=".548" stop-color="#6cc6dc"/><stop offset=".643" stop-color="#80d4dc"/><stop offset=".724" stop-color="#bee5bd"/><stop offset=".739" stop-color="#c8e2b0"/><stop offset=".754" stop-color="#d3d794"/><stop offset=".776" stop-color="#d2cb78"/><stop offset=".805" stop-color="#d0c264"/><stop offset=".996" stop-color="#cebd5f"/></linearGradient><linearGradient id="g189"><stop offset=".004" stop-color="#59b8d9"/><stop offset=".335" stop-color="#5cbada"/><stop offset=".555" stop-color="#6bc6dc"/><stop offset=".651" stop-color="#81d4dc"/><stop offset=".724" stop-color="#bbe6c0"/><stop offset=".761" stop-color="#d4d690"/><stop offset=".790" stop-color="#d1c974"/><stop offset=".827" stop-color="#d0c367"/><stop offset=".996" stop-color="#d0c163"/></linearGradient><linearGradient id="g190"><stop offset=".004" stop-color="#59b8d9"/><stop offset=".335" stop-color="#5bbada"/><stop offset=".555" stop-color="#6bc6dc"/><stop offset=".651" stop-color="#80d4dc"/><stop offset=".724" stop-color="#bae6c1"/><stop offset=".746" stop-color="#c9e1ae"/><stop offset=".761" stop-color="#d3d794"/><stop offset=".790" stop-color="#d2cb77"/><stop offset=".827" stop-color="#d0c469"/><stop offset=".996" stop-color="#d0c264"/></linearGradient><linearGradient id="g191"><stop offset=".004" stop-color="#58b7d9"/><stop offset=".327" stop-color="#5ab9d9"/><stop offset=".548" stop-color="#6cc7dc"/><stop offset=".636" stop-color="#7fd4dc"/><stop offset=".710" stop-color="#b9e5c2"/><stop offset=".724" stop-color="#c6e3b2"/><stop offset=".739" stop-color="#d3d793"/><stop offset=".768" stop-color="#d0c163"/><stop offset=".790" stop-color="#ccb758"/><stop offset=".996" stop-color="#c9ae4e"/></linearGradient><linearGradient id="g192"><stop offset=".004" stop-color="#57b6d8"/><stop offset=".327" stop-color="#5ab8d9"/><stop offset=".548" stop-color="#6dc7dc"/><stop offset=".636" stop-color="#82d5db"/><stop offset=".710" stop-color="#bfe5bc"/><stop offset=".732" stop-color="#d4d58f"/><stop offset=".754" stop-color="#d0c163"/><stop offset=".783" stop-color="#cab050"/><stop offset=".996" stop-color="#c5a445"/></linearGradient><linearGradient id="g193"><stop offset=".004" stop-color="#56b5d8"/><stop offset=".136" stop-color="#50b0d6"/><stop offset=".327" stop-color="#59b8d9"/><stop offset=".548" stop-color="#6dc7dc"/><stop offset=".636" stop-color="#83d5db"/><stop offset=".702" stop-color="#b9e5c2"/><stop offset=".717" stop-color="#c8e2b0"/><stop offset=".732" stop-color="#d3d389"/><stop offset=".754" stop-color="#cfbe60"/><stop offset=".776" stop-color="#caaf50"/><stop offset=".835" stop-color="#c4a243"/><stop offset=".996" stop-color="#c3a042"/></linearGradient><linearGradient id="g194"><stop offset=".004" stop-color="#57b6d8"/><stop offset=".335" stop-color="#59b8d9"/><stop offset=".548" stop-color="#6ac6dc"/><stop offset=".643" stop-color="#82d5db"/><stop offset=".710" stop-color="#b8e5c2"/><stop offset=".724" stop-color="#c7e2b2"/><stop offset=".739" stop-color="#d4d691"/><stop offset=".761" stop-color="#d1c56a"/><stop offset=".790" stop-color="#ccb657"/><stop offset=".996" stop-color="#c9ad4d"/></linearGradient><linearGradient id="g195"><stop offset=".004" stop-color="#57b6d8"/><stop offset=".143" stop-color="#52b1d7"/><stop offset=".467" stop-color="#62c0dc"/><stop offset=".607" stop-color="#71cadc"/><stop offset=".651" stop-color="#82d5db"/><stop offset=".717" stop-color="#bae6c1"/><stop offset=".732" stop-color="#c6e3b3"/><stop offset=".746" stop-color="#d2d895"/><stop offset=".783" stop-color="#d0c163"/><stop offset=".842" stop-color="#ccb758"/><stop offset=".996" stop-color="#ccb656"/></linearGradient><linearGradient id="g196"><stop offset=".004" stop-color="#57b6d8"/><stop offset=".143" stop-color="#52b1d7"/><stop offset=".482" stop-color="#62c0dc"/><stop offset=".614" stop-color="#70cadc"/><stop offset=".651" stop-color="#7fd3dc"/><stop offset=".724" stop-color="#bde6be"/><stop offset=".739" stop-color="#c8e2b0"/><stop offset=".754" stop-color="#d3d792"/><stop offset=".798" stop-color="#d0c264"/><stop offset=".996" stop-color="#cebb5c"/></linearGradient><linearGradient id="g197"><stop offset=".004" stop-color="#56b5d8"/><stop offset=".143" stop-color="#52b1d7"/><stop offset=".496" stop-color="#62c0dc"/><stop offset=".614" stop-color="#70c9dc"/><stop offset=".658" stop-color="#82d5db"/><stop offset=".724" stop-color="#bce6c0"/><stop offset=".739" stop-color="#c7e2b2"/><stop offset=".754" stop-color="#d2d895"/><stop offset=".776" stop-color="#d2cb77"/><stop offset=".805" stop-color="#d0c163"/><stop offset=".996" stop-color="#cebc5d"/></linearGradient><linearGradient id="g198"><stop offset=".004" stop-color="#55b4d8"/><stop offset=".335" stop-color="#57b6d8"/><stop offset=".548" stop-color="#68c4dc"/><stop offset=".643" stop-color="#7fd3dc"/><stop offset=".710" stop-color="#b7e5c3"/><stop offset=".724" stop-color="#c6e3b2"/><stop offset=".739" stop-color="#d4d691"/><stop offset=".761" stop-color="#d0c468"/><stop offset=".790" stop-color="#ccb555"/><stop offset=".996" stop-color="#c8ab4c"/></linearGradient><linearGradient id="g199"><stop offset=".004" stop-color="#55b4d8"/><stop offset=".143" stop-color="#50b0d6"/><stop offset=".504" stop-color="#62c0dc"/><stop offset=".614" stop-color="#6fc9dc"/><stop offset=".658" stop-color="#82d5db"/><stop offset=".724" stop-color="#bfe5bc"/><stop offset=".754" stop-color="#d4d48c"/><stop offset=".790" stop-color="#cfc062"/><stop offset=".996" stop-color="#ccb758"/></linearGradient><linearGradient id="g200"><stop offset=".004" stop-color="#55b4d8"/><stop offset=".143" stop-color="#50afd6"/><stop offset=".518" stop-color="#62c0dc"/><stop offset=".614" stop-color="#6ec8dc"/><stop offset=".658" stop-color="#81d4dc"/><stop offset=".724" stop-color="#bce6c0"/><stop offset=".739" stop-color="#c7e2b1"/><stop offset=".754" stop-color="#d3d793"/><stop offset=".798" stop-color="#d0c264"/><stop offset=".996" stop-color="#cebb5c"/></linearGradient><linearGradient id="g201"><stop offset=".004" stop-color="#53b2d7"/><stop offset=".143" stop-color="#4eadd5"/><stop offset=".511" stop-color="#62c0dc"/><stop offset=".614" stop-color="#70cadc"/><stop offset=".651" stop-color="#82d5db"/><stop offset=".710" stop-color="#b7e5c3"/><stop offset=".724" stop-color="#c7e2b2"/><stop offset=".739" stop-color="#d4d68f"/><stop offset=".761" stop-color="#d0c365"/><stop offset=".790" stop-color="#cbb354"/><stop offset=".996" stop-color="#c7aa4a"/></linearGradient><linearGradient id="g202"><stop offset=".004" stop-color="#51b0d6"/><stop offset=".136" stop-color="#4babd4"/><stop offset=".327" stop-color="#54b3d7"/><stop offset=".548" stop-color="#66c3dc"/><stop offset=".643" stop-color="#82d5db"/><stop offset=".702" stop-color="#b9e5c2"/><stop offset=".717" stop-color="#cae0ab"/><stop offset=".724" stop-color="#d3d793"/><stop offset=".746" stop-color="#cfc062"/><stop offset=".776" stop-color="#c7aa4a"/><stop offset=".835" stop-color="#c19b3d"/><stop offset=".996" stop-color="#c0993b"/></linearGradient><linearGradient id="g203"><stop offset=".004" stop-color="#51b1d6"/><stop offset=".143" stop-color="#4babd4"/><stop offset=".518" stop-color="#62c0dc"/><stop offset=".614" stop-color="#70c9dc"/><stop offset=".651" stop-color="#83d5db"/><stop offset=".710" stop-color="#bce6c0"/><stop offset=".732" stop-color="#d3d793"/><stop offset=".754" stop-color="#d0c264"/><stop offset=".783" stop-color="#caaf4f"/><stop offset=".842" stop-color="#c5a445"/><stop offset=".996" stop-color="#c4a344"/></linearGradient><linearGradient id="g204"><stop offset=".004" stop-color="#52b1d7"/><stop offset=".143" stop-color="#4dadd5"/><stop offset=".540" stop-color="#62c0dc"/><stop offset=".614" stop-color="#6dc7dc"/><stop offset=".658" stop-color="#82d5db"/><stop offset=".717" stop-color="#bbe6c1"/><stop offset=".732" stop-color="#c7e2b1"/><stop offset=".746" stop-color="#d4d58f"/><stop offset=".768" stop-color="#d1c56a"/><stop offset=".783" stop-color="#cfbe5f"/><stop offset=".842" stop-color="#cbb353"/><stop offset=".996" stop-color="#cab151"/></linearGradient><linearGradient id="g205"><stop offset=".004" stop-color="#51b1d6"/><stop offset=".143" stop-color="#4cacd5"/><stop offset=".540" stop-color="#62c0dc"/><stop offset=".614" stop-color="#6dc7dc"/><stop offset=".651" stop-color="#7ed3dc"/><stop offset=".710" stop-color="#b5e4c4"/><stop offset=".724" stop-color="#c4e3b5"/><stop offset=".739" stop-color="#d2d896"/><stop offset=".768" stop-color="#cfc062"/><stop offset=".790" stop-color="#ccb657"/><stop offset=".996" stop-color="#c9ad4d"/></linearGradient><linearGradient id="g206"><stop offset=".004" stop-color="#4fafd6"/><stop offset=".158" stop-color="#4aaad4"/><stop offset=".540" stop-color="#62c0dc"/><stop offset=".614" stop-color="#6fc8dc"/><stop offset=".651" stop-color="#82d5db"/><stop offset=".710" stop-color="#bde6be"/><stop offset=".732" stop-color="#d4d58d"/><stop offset=".746" stop-color="#d1c66c"/><stop offset=".776" stop-color="#caaf4f"/><stop offset=".835" stop-color="#c4a243"/><stop offset=".996" stop-color="#c3a041"/></linearGradient><linearGradient id="g207"><stop offset=".004" stop-color="#4fafd6"/><stop offset=".158" stop-color="#4aaad4"/><stop offset=".540" stop-color="#61bfdc"/><stop offset=".614" stop-color="#6dc7dc"/><stop offset=".651" stop-color="#80d4dc"/><stop offset=".710" stop-color="#bae6c1"/><stop offset=".732" stop-color="#d2d896"/><stop offset=".754" stop-color="#d0c366"/><stop offset=".783" stop-color="#cab050"/><stop offset=".842" stop-color="#c6a546"/><stop offset=".996" stop-color="#c5a445"/></linearGradient><linearGradient id="g208"><stop offset=".004" stop-color="#50afd6"/><stop offset=".143" stop-color="#4aaad4"/><stop offset=".548" stop-color="#61bfdc"/><stop offset=".614" stop-color="#6cc6dc"/><stop offset=".658" stop-color="#82d5db"/><stop offset=".710" stop-color="#b6e5c3"/><stop offset=".724" stop-color="#c6e3b3"/><stop offset=".739" stop-color="#d4d68f"/><stop offset=".761" stop-color="#d0c265"/><stop offset=".783" stop-color="#ccb657"/><stop offset=".835" stop-color="#c8ac4c"/><stop offset=".996" stop-color="#c7aa4a"/></linearGradient><linearGradient id="g209"><stop offset=".004" stop-color="#4eaed5"/><stop offset=".188" stop-color="#4aaad4"/><stop offset=".540" stop-color="#60bfdb"/><stop offset=".614" stop-color="#6cc7dc"/><stop offset=".651" stop-color="#7fd4dc"/><stop offset=".710" stop-color="#bbe6c0"/><stop offset=".732" stop-color="#d3d792"/><stop offset=".754" stop-color="#d0c163"/><stop offset=".783" stop-color="#c9ae4e"/><stop offset=".842" stop-color="#c5a344"/><stop offset=".996" stop-color="#c4a243"/></linearGradient><linearGradient id="g210"><stop offset=".004" stop-color="#4cabd5"/><stop offset=".136" stop-color="#46a4d1"/><stop offset=".327" stop-color="#4eaed5"/><stop offset=".555" stop-color="#62c0dc"/><stop offset=".614" stop-color="#6ec8dc"/><stop offset=".643" stop-color="#7fd3dc"/><stop offset=".702" stop-color="#bce6c0"/><stop offset=".710" stop-color="#c5e3b4"/><stop offset=".724" stop-color="#d3d286"/><stop offset=".739" stop-color="#cfc062"/><stop offset=".776" stop-color="#c4a243"/><stop offset=".842" stop-color="#bc9035"/><stop offset=".996" stop-color="#bb8e34"/></linearGradient><linearGradient id="g211"><stop offset=".004" stop-color="#4aaad4"/><stop offset=".136" stop-color="#44a2d0"/><stop offset=".327" stop-color="#4dadd5"/><stop offset=".555" stop-color="#62c0dc"/><stop offset=".614" stop-color="#6ec8dc"/><stop offset=".643" stop-color="#80d4dc"/><stop offset=".695" stop-color="#b5e5c4"/><stop offset=".710" stop-color="#c8e2b0"/><stop offset=".717" stop-color="#d3d793"/><stop offset=".739" stop-color="#cebc5d"/><stop offset=".776" stop-color="#c29c3e"/><stop offset=".835" stop-color="#b88931"/><stop offset=".996" stop-color="#b7862f"/></linearGradient><linearGradient id="g212"><stop offset=".004" stop-color="#4dadd5"/><stop offset=".217" stop-color="#4aaad4"/><stop offset=".548" stop-color="#60bedb"/><stop offset=".614" stop-color="#6ac5dc"/><stop offset=".658" stop-color="#82d5db"/><stop offset=".710" stop-color="#b9e5c2"/><stop offset=".732" stop-color="#d1d997"/><stop offset=".754" stop-color="#d0c366"/><stop offset=".783" stop-color="#cab050"/><stop offset=".842" stop-color="#c6a647"/><stop offset=".996" stop-color="#c5a445"/></linearGradient><linearGradient id="g213"><stop offset=".004" stop-color="#4dadd5"/><stop offset=".210" stop-color="#4aaad4"/><stop offset=".548" stop-color="#5fbddb"/><stop offset=".614" stop-color="#69c5dc"/><stop offset=".658" stop-color="#80d4dc"/><stop offset=".710" stop-color="#b6e5c3"/><stop offset=".724" stop-color="#c6e3b2"/><stop offset=".739" stop-color="#d4d58e"/><stop offset=".761" stop-color="#d0c163"/><stop offset=".783" stop-color="#ccb556"/><stop offset=".835" stop-color="#c8ab4b"/><stop offset=".996" stop-color="#c7a94a"/></linearGradient><linearGradient id="g214"><stop offset=".004" stop-color="#4eadd5"/><stop offset=".195" stop-color="#4aaad4"/><stop offset=".548" stop-color="#5fbddb"/><stop offset=".614" stop-color="#68c4dc"/><stop offset=".658" stop-color="#7ed3dc"/><stop offset=".717" stop-color="#bce6c0"/><stop offset=".739" stop-color="#d1d998"/><stop offset=".761" stop-color="#d1c66d"/><stop offset=".783" stop-color="#cdba5b"/><stop offset=".835" stop-color="#cab050"/><stop offset=".996" stop-color="#c9ae4e"/></linearGradient><linearGradient id="g215"><stop offset=".004" stop-color="#4fafd6"/><stop offset=".143" stop-color="#4aaad4"/><stop offset=".548" stop-color="#5ebddb"/><stop offset=".614" stop-color="#66c3dc"/><stop offset=".665" stop-color="#7ed3dc"/><stop offset=".724" stop-color="#bbe6c1"/><stop offset=".739" stop-color="#c7e2b2"/><stop offset=".754" stop-color="#d3d794"/><stop offset=".798" stop-color="#d0c264"/><stop offset=".996" stop-color="#cebc5d"/></linearGradient><linearGradient id="g216"><stop offset=".004" stop-color="#4dadd5"/><stop offset=".202" stop-color="#4aaad4"/><stop offset=".548" stop-color="#5ebcdb"/><stop offset=".614" stop-color="#67c3dc"/><stop offset=".665" stop-color="#82d5db"/><stop offset=".717" stop-color="#bbe6c0"/><stop offset=".739" stop-color="#d0da9b"/><stop offset=".768" stop-color="#d0c265"/><stop offset=".783" stop-color="#cebb5c"/><stop offset=".842" stop-color="#cab151"/><stop offset=".996" stop-color="#caaf4f"/></linearGradient><linearGradient id="g217"><stop offset=".004" stop-color="#4babd4"/><stop offset=".143" stop-color="#46a5d1"/><stop offset=".548" stop-color="#5ebcdb"/><stop offset=".614" stop-color="#68c4dc"/><stop offset=".658" stop-color="#81d4dc"/><stop offset=".710" stop-color="#bbe6c1"/><stop offset=".732" stop-color="#d4d691"/><stop offset=".754" stop-color="#cfc062"/><stop offset=".776" stop-color="#cab151"/><stop offset=".835" stop-color="#c5a445"/><stop offset=".996" stop-color="#c4a243"/></linearGradient><linearGradient id="g218"><stop offset=".004" stop-color="#48a8d3"/><stop offset=".143" stop-color="#43a0cf"/><stop offset=".540" stop-color="#5dbcda"/><stop offset=".614" stop-color="#6ac5dc"/><stop offset=".651" stop-color="#81d4dc"/><stop offset=".702" stop-color="#bce6bf"/><stop offset=".717" stop-color="#d0da9b"/><stop offset=".739" stop-color="#cfbe60"/><stop offset=".776" stop-color="#c39f41"/><stop offset=".835" stop-color="#bb8e34"/><stop offset=".996" stop-color="#b98c33"/></linearGradient><linearGradient id="g219"><stop offset=".004" stop-color="#49a9d4"/><stop offset=".143" stop-color="#44a2d0"/><stop offset=".540" stop-color="#5dbbda"/><stop offset=".614" stop-color="#68c4dc"/><stop offset=".651" stop-color="#7ed2dc"/><stop offset=".702" stop-color="#b6e5c3"/><stop offset=".717" stop-color="#c9e1ae"/><stop offset=".724" stop-color="#d2d894"/><stop offset=".746" stop-color="#cfbf61"/><stop offset=".776" stop-color="#c7a949"/><stop offset=".835" stop-color="#c19b3d"/><stop offset=".996" stop-color="#c0993b"/></linearGradient><linearGradient id="g220"><stop offset=".004" stop-color="#4babd4"/><stop offset=".143" stop-color="#46a4d1"/><stop offset=".548" stop-color="#5dbcda"/><stop offset=".614" stop-color="#67c3dc"/><stop offset=".658" stop-color="#7fd3dc"/><stop offset=".710" stop-color="#b8e5c2"/><stop offset=".732" stop-color="#d1d998"/><stop offset=".754" stop-color="#d0c366"/><stop offset=".783" stop-color="#cab151"/><stop offset=".996" stop-color="#c6a546"/></linearGradient><linearGradient id="g221"><stop offset=".004" stop-color="#48a8d3"/><stop offset=".143" stop-color="#43a0cf"/><stop offset=".540" stop-color="#5cbbda"/><stop offset=".614" stop-color="#68c4dc"/><stop offset=".651" stop-color="#7ed3dc"/><stop offset=".702" stop-color="#b9e5c2"/><stop offset=".710" stop-color="#c2e4b7"/><stop offset=".724" stop-color="#d4d48b"/><stop offset=".739" stop-color="#d0c365"/><stop offset=".776" stop-color="#c5a445"/><stop offset=".842" stop-color="#be9538"/><stop offset=".996" stop-color="#bd9337"/></linearGradient><linearGradient id="g222"><stop offset=".004" stop-color="#49a9d3"/><stop offset=".143" stop-color="#44a2d0"/><stop offset=".548" stop-color="#5dbbda"/><stop offset=".614" stop-color="#67c3dc"/><stop offset=".658" stop-color="#82d5db"/><stop offset=".702" stop-color="#b4e4c4"/><stop offset=".717" stop-color="#c7e2b1"/><stop offset=".724" stop-color="#d1d998"/><stop offset=".746" stop-color="#d0c163"/><stop offset=".776" stop-color="#c8ab4b"/><stop offset=".835" stop-color="#c29d3f"/><stop offset=".996" stop-color="#c19b3d"/></linearGradient><linearGradient id="g223"><stop offset=".004" stop-color="#4babd4"/><stop offset=".143" stop-color="#46a5d1"/><stop offset=".548" stop-color="#5cbbda"/><stop offset=".614" stop-color="#65c2dc"/><stop offset=".665" stop-color="#82d5db"/><stop offset=".717" stop-color="#bfe5bd"/><stop offset=".739" stop-color="#d4d58e"/><stop offset=".761" stop-color="#d0c163"/><stop offset=".783" stop-color="#ccb556"/><stop offset=".835" stop-color="#c8ac4c"/><stop offset=".996" stop-color="#c7aa4a"/></linearGradient><linearGradient id="g224"><stop offset=".004" stop-color="#49a9d4"/><stop offset=".143" stop-color="#44a2d0"/><stop offset=".548" stop-color="#5cbbda"/><stop offset=".614" stop-color="#65c2dc"/><stop offset=".658" stop-color="#7fd3dc"/><stop offset=".710" stop-color="#bbe6c0"/><stop offset=".732" stop-color="#d4d58e"/><stop offset=".754" stop-color="#cfbf61"/><stop offset=".776" stop-color="#cab050"/><stop offset=".835" stop-color="#c5a344"/><stop offset=".996" stop-color="#c4a142"/></linearGradient><linearGradient id="g225"><stop offset=".004" stop-color="#48a8d3"/><stop offset=".143" stop-color="#43a1d0"/><stop offset=".548" stop-color="#5cbada"/><stop offset=".614" stop-color="#65c2dc"/><stop offset=".658" stop-color="#80d4dc"/><stop offset=".702" stop-color="#b3e4c5"/><stop offset=".717" stop-color="#c7e2b2"/><stop offset=".724" stop-color="#d0da9b"/><stop offset=".746" stop-color="#d0c264"/><stop offset=".776" stop-color="#c8ac4c"/><stop offset=".835" stop-color="#c39f40"/><stop offset=".996" stop-color="#c29d3f"/></linearGradient><linearGradient id="g226"><stop offset=".004" stop-color="#48a7d3"/><stop offset=".143" stop-color="#43a1cf"/><stop offset=".548" stop-color="#5cbada"/><stop offset=".614" stop-color="#65c2dc"/><stop offset=".658" stop-color="#80d4dc"/><stop offset=".702" stop-color="#b4e4c4"/><stop offset=".717" stop-color="#c8e2b0"/><stop offset=".724" stop-color="#d1d997"/><stop offset=".746" stop-color="#cfc062"/><stop offset=".776" stop-color="#c8ab4b"/><stop offset=".835" stop-color="#c29d3f"/><stop offset=".996" stop-color="#c29c3d"/></linearGradient><linearGradient id="g227"><stop offset=".004" stop-color="#48a7d2"/><stop offset=".143" stop-color="#42a0cf"/><stop offset=".548" stop-color="#5bbada"/><stop offset=".614" stop-color="#65c2dc"/><stop offset=".658" stop-color="#81d4dc"/><stop offset=".702" stop-color="#b6e5c4"/><stop offset=".717" stop-color="#c9e1ad"/><stop offset=".724" stop-color="#d3d793"/><stop offset=".746" stop-color="#cfbe60"/><stop offset=".776" stop-color="#c7a949"/><stop offset=".835" stop-color="#c29c3e"/><stop offset=".996" stop-color="#c19a3c"/></linearGradient><linearGradient id="g228"><stop offset=".004" stop-color="#4aa9d4"/><stop offset=".143" stop-color="#45a3d1"/><stop offset=".548" stop-color="#5bbada"/><stop offset=".614" stop-color="#63c1dc"/><stop offset=".665" stop-color="#82d5db"/><stop offset=".710" stop-color="#b7e5c3"/><stop offset=".724" stop-color="#c8e2af"/><stop offset=".732" stop-color="#d0da9a"/><stop offset=".754" stop-color="#d1c56a"/><stop offset=".783" stop-color="#cbb354"/><stop offset=".996" stop-color="#c7a949"/></linearGradient><linearGradient id="g229"><stop offset=".004" stop-color="#46a5d2"/><stop offset=".143" stop-color="#419ece"/><stop offset=".548" stop-color="#5bb9da"/><stop offset=".614" stop-color="#65c2dc"/><stop offset=".658" stop-color="#82d5db"/><stop offset=".702" stop-color="#bae6c1"/><stop offset=".710" stop-color="#c4e3b5"/><stop offset=".724" stop-color="#d3d186"/><stop offset=".739" stop-color="#cfc062"/><stop offset=".776" stop-color="#c5a344"/><stop offset=".842" stop-color="#be9538"/><stop offset=".996" stop-color="#bd9337"/></linearGradient><linearGradient id="g230"><stop offset=".004" stop-color="#43a0cf"/><stop offset=".143" stop-color="#3c98cb"/><stop offset=".540" stop-color="#5ab8d9"/><stop offset=".614" stop-color="#67c3dc"/><stop offset=".651" stop-color="#82d5db"/><stop offset=".695" stop-color="#bce6bf"/><stop offset=".702" stop-color="#c7e2b2"/><stop offset=".710" stop-color="#d3d794"/><stop offset=".724" stop-color="#cfbf61"/><stop offset=".768" stop-color="#bc9035"/><stop offset=".835" stop-color="#ae7626"/><stop offset=".996" stop-color="#ad7325"/></linearGradient><linearGradient id="g231"><stop offset=".004" stop-color="#429fcf"/><stop offset=".143" stop-color="#3b96ca"/><stop offset=".540" stop-color="#59b8d9"/><stop offset=".614" stop-color="#67c3dc"/><stop offset=".651" stop-color="#83d5db"/><stop offset=".695" stop-color="#bfe5bc"/><stop offset=".702" stop-color="#cae0ab"/><stop offset=".710" stop-color="#d3d38a"/><stop offset=".724" stop-color="#cebb5c"/><stop offset=".768" stop-color="#b88a31"/><stop offset=".835" stop-color="#aa6d22"/><stop offset=".996" stop-color="#a86920"/></linearGradient><linearGradient id="g232"><stop offset=".004" stop-color="#419ece"/><stop offset=".136" stop-color="#3a95c9"/><stop offset=".335" stop-color="#45a3d0"/><stop offset=".592" stop-color="#60bfdb"/><stop offset=".643" stop-color="#7dd2dc"/><stop offset=".688" stop-color="#b6e5c4"/><stop offset=".695" stop-color="#c1e4b9"/><stop offset=".710" stop-color="#d3d184"/><stop offset=".724" stop-color="#cdb859"/><stop offset=".768" stop-color="#b6852f"/><stop offset=".835" stop-color="#a7661f"/><stop offset=".996" stop-color="#a5621d"/></linearGradient><linearGradient id="g233"><stop offset=".004" stop-color="#409dcd"/><stop offset=".136" stop-color="#3993c9"/><stop offset=".335" stop-color="#44a2d0"/><stop offset=".592" stop-color="#60bedb"/><stop offset=".643" stop-color="#7dd2dc"/><stop offset=".688" stop-color="#b8e5c2"/><stop offset=".695" stop-color="#c3e4b7"/><stop offset=".702" stop-color="#cfdb9d"/><stop offset=".717" stop-color="#cfc062"/><stop offset=".724" stop-color="#cbb455"/><stop offset=".768" stop-color="#b3802c"/><stop offset=".827" stop-color="#a4601c"/><stop offset=".996" stop-color="#a25b1a"/></linearGradient><linearGradient id="g234"><stop offset=".004" stop-color="#419ece"/><stop offset=".143" stop-color="#3a95c9"/><stop offset=".540" stop-color="#58b7d9"/><stop offset=".614" stop-color="#66c2dc"/><stop offset=".651" stop-color="#83d5db"/><stop offset=".695" stop-color="#c1e4b9"/><stop offset=".710" stop-color="#d3d083"/><stop offset=".717" stop-color="#d0c366"/><stop offset=".724" stop-color="#ccb758"/><stop offset=".768" stop-color="#b6852f"/><stop offset=".835" stop-color="#a86720"/><stop offset=".996" stop-color="#a6641e"/></linearGradient><linearGradient id="g235"><stop offset=".004" stop-color="#44a2d0"/><stop offset=".143" stop-color="#3e9acc"/><stop offset=".540" stop-color="#58b7d9"/><stop offset=".614" stop-color="#64c1dc"/><stop offset=".651" stop-color="#7ed3dc"/><stop offset=".695" stop-color="#b7e5c3"/><stop offset=".702" stop-color="#c2e4b8"/><stop offset=".717" stop-color="#d3d185"/><stop offset=".732" stop-color="#cebd5e"/><stop offset=".768" stop-color="#c19c3d"/><stop offset=".827" stop-color="#b78830"/><stop offset=".996" stop-color="#b6852f"/></linearGradient><linearGradient id="g236"><stop offset=".004" stop-color="#43a1cf"/><stop offset=".143" stop-color="#3d99cb"/><stop offset=".540" stop-color="#58b7d9"/><stop offset=".614" stop-color="#64c1dc"/><stop offset=".651" stop-color="#7fd3dc"/><stop offset=".695" stop-color="#bae6c1"/><stop offset=".710" stop-color="#d0da9b"/><stop offset=".724" stop-color="#d0c365"/><stop offset=".768" stop-color="#c0983a"/><stop offset=".827" stop-color="#b5832e"/><stop offset=".996" stop-color="#b3812c"/></linearGradient><linearGradient id="g237"><stop offset=".004" stop-color="#46a4d1"/><stop offset=".143" stop-color="#419dce"/><stop offset=".548" stop-color="#59b8d9"/><stop offset=".614" stop-color="#62c0dc"/><stop offset=".658" stop-color="#80d4dc"/><stop offset=".702" stop-color="#bbe6c1"/><stop offset=".717" stop-color="#cfdb9e"/><stop offset=".739" stop-color="#cfc062"/><stop offset=".768" stop-color="#c7a94a"/><stop offset=".827" stop-color="#c19b3d"/><stop offset=".996" stop-color="#c0993b"/></linearGradient><linearGradient id="g238"><stop offset=".004" stop-color="#46a5d1"/><stop offset=".143" stop-color="#419ece"/><stop offset=".548" stop-color="#59b8d9"/><stop offset=".614" stop-color="#62c0dc"/><stop offset=".658" stop-color="#80d4dc"/><stop offset=".702" stop-color="#bce6c0"/><stop offset=".717" stop-color="#cfdb9c"/><stop offset=".739" stop-color="#cfc061"/><stop offset=".768" stop-color="#c7a949"/><stop offset=".827" stop-color="#c19b3d"/><stop offset=".996" stop-color="#c0993b"/></linearGradient><linearGradient id="g239"><stop offset=".004" stop-color="#46a4d1"/><stop offset=".143" stop-color="#419dce"/><stop offset=".548" stop-color="#59b8d9"/><stop offset=".614" stop-color="#62c0dc"/><stop offset=".658" stop-color="#81d4dc"/><stop offset=".702" stop-color="#bde6be"/><stop offset=".710" stop-color="#c7e2b1"/><stop offset=".717" stop-color="#d2d896"/><stop offset=".739" stop-color="#cebd5f"/><stop offset=".768" stop-color="#c6a647"/><stop offset=".827" stop-color="#c0983a"/><stop offset=".996" stop-color="#bf9639"/></linearGradient><linearGradient id="g240"><stop offset=".004" stop-color="#419ece"/><stop offset=".136" stop-color="#3a95c9"/><stop offset=".335" stop-color="#44a2d0"/><stop offset=".592" stop-color="#5fbddb"/><stop offset=".643" stop-color="#7cd1dc"/><stop offset=".688" stop-color="#b9e5c2"/><stop offset=".695" stop-color="#c4e3b5"/><stop offset=".702" stop-color="#d1d999"/><stop offset=".717" stop-color="#cfbf60"/><stop offset=".724" stop-color="#cbb353"/><stop offset=".761" stop-color="#b88831"/><stop offset=".827" stop-color="#a86720"/><stop offset=".996" stop-color="#a6631e"/></linearGradient><linearGradient id="g241"><stop offset=".004" stop-color="#3f9ccd"/><stop offset=".143" stop-color="#3892c8"/><stop offset=".540" stop-color="#57b6d8"/><stop offset=".607" stop-color="#63c0dc"/><stop offset=".643" stop-color="#7ed3dc"/><stop offset=".688" stop-color="#bfe5bd"/><stop offset=".695" stop-color="#cae0ab"/><stop offset=".702" stop-color="#d3d287"/><stop offset=".710" stop-color="#d0c468"/><stop offset=".724" stop-color="#c8ab4b"/><stop offset=".768" stop-color="#ad7225"/><stop offset=".790" stop-color="#a4601c"/><stop offset=".827" stop-color="#9f5317"/><stop offset=".996" stop-color="#9d5015"/></linearGradient><linearGradient id="g242"><stop offset=".004" stop-color="#419ece"/><stop offset=".143" stop-color="#3a95c9"/><stop offset=".540" stop-color="#57b6d8"/><stop offset=".607" stop-color="#62c0dc"/><stop offset=".643" stop-color="#7dd2dc"/><stop offset=".688" stop-color="#bce6c0"/><stop offset=".695" stop-color="#c6e3b2"/><stop offset=".702" stop-color="#d4d691"/><stop offset=".717" stop-color="#cebc5d"/><stop offset=".724" stop-color="#cab050"/><stop offset=".761" stop-color="#b5842e"/><stop offset=".790" stop-color="#aa6e22"/><stop offset=".827" stop-color="#a5621d"/><stop offset=".996" stop-color="#a35e1b"/></linearGradient><linearGradient id="g243"><stop offset=".004" stop-color="#409ccd"/><stop offset=".143" stop-color="#3993c8"/><stop offset=".540" stop-color="#57b6d8"/><stop offset=".607" stop-color="#63c1dc"/><stop offset=".643" stop-color="#7fd3dc"/><stop offset=".688" stop-color="#c0e5bb"/><stop offset=".702" stop-color="#d3d083"/><stop offset=".710" stop-color="#d0c264"/><stop offset=".724" stop-color="#c7a849"/><stop offset=".761" stop-color="#af7827"/><stop offset=".790" stop-color="#a35d1b"/><stop offset=".820" stop-color="#9e5216"/><stop offset=".996" stop-color="#9c4f15"/></linearGradient><linearGradient id="g244"><stop offset=".004" stop-color="#42a0cf"/><stop offset=".143" stop-color="#3c98cb"/><stop offset=".540" stop-color="#58b7d9"/><stop offset=".614" stop-color="#64c2dc"/><stop offset=".651" stop-color="#83d5db"/><stop offset=".688" stop-color="#b8e5c2"/><stop offset=".695" stop-color="#c4e3b6"/><stop offset=".702" stop-color="#d0da9b"/><stop offset=".717" stop-color="#cfc062"/><stop offset=".761" stop-color="#ba8d33"/><stop offset=".827" stop-color="#ac7124"/><stop offset=".996" stop-color="#aa6d22"/></linearGradient><linearGradient id="g245"><stop offset=".004" stop-color="#42a0cf"/><stop offset=".143" stop-color="#3c98cb"/><stop offset=".540" stop-color="#58b7d9"/><stop offset=".614" stop-color="#65c2dc"/><stop offset=".651" stop-color="#83d5db"/><stop offset=".688" stop-color="#bae6c1"/><stop offset=".695" stop-color="#c5e3b4"/><stop offset=".702" stop-color="#d1d997"/><stop offset=".717" stop-color="#cfbe60"/><stop offset=".724" stop-color="#cbb353"/><stop offset=".761" stop-color="#b98b32"/><stop offset=".827" stop-color="#ab6e23"/><stop offset=".996" stop-color="#a96a21"/></linearGradient><linearGradient id="g246"><stop offset=".004" stop-color="#43a0cf"/><stop offset=".143" stop-color="#3d98cb"/><stop offset=".540" stop-color="#58b7d9"/><stop offset=".607" stop-color="#62c0dc"/><stop offset=".643" stop-color="#7cd1dc"/><stop offset=".688" stop-color="#bae6c1"/><stop offset=".695" stop-color="#c5e3b4"/><stop offset=".702" stop-color="#d2d895"/><stop offset=".717" stop-color="#cfbe60"/><stop offset=".724" stop-color="#cbb253"/><stop offset=".761" stop-color="#b98b32"/><stop offset=".827" stop-color="#ab6e23"/><stop offset=".996" stop-color="#a96b21"/></linearGradient><linearGradient id="g247"><stop offset=".004" stop-color="#44a2d0"/><stop offset=".143" stop-color="#3e9acc"/><stop offset=".540" stop-color="#58b7d9"/><stop offset=".614" stop-color="#64c1dc"/><stop offset=".651" stop-color="#81d5db"/><stop offset=".695" stop-color="#c2e4b8"/><stop offset=".710" stop-color="#d3d082"/><stop offset=".717" stop-color="#d0c367"/><stop offset=".724" stop-color="#cdb859"/><stop offset=".761" stop-color="#be9437"/><stop offset=".820" stop-color="#b27d2a"/><stop offset=".996" stop-color="#b07a28"/></linearGradient><linearGradient id="g248"><stop offset=".004" stop-color="#419ece"/><stop offset=".143" stop-color="#3a95ca"/><stop offset=".540" stop-color="#58b6d9"/><stop offset=".607" stop-color="#63c1dc"/><stop offset=".643" stop-color="#7fd4dc"/><stop offset=".688" stop-color="#c2e4b8"/><stop offset=".702" stop-color="#d2ce7e"/><stop offset=".717" stop-color="#cbb252"/><stop offset=".761" stop-color="#af7827"/><stop offset=".783" stop-color="#a6641e"/><stop offset=".820" stop-color="#a05618"/><stop offset=".996" stop-color="#9d5116"/></linearGradient><linearGradient id="g249"><stop offset=".004" stop-color="#3f9bcd"/><stop offset=".143" stop-color="#3892c8"/><stop offset=".540" stop-color="#57b6d8"/><stop offset=".607" stop-color="#64c1dc"/><stop offset=".643" stop-color="#83d5db"/><stop offset=".680" stop-color="#bde6bf"/><stop offset=".688" stop-color="#c9e1ae"/><stop offset=".695" stop-color="#d3d389"/><stop offset=".702" stop-color="#d0c468"/><stop offset=".717" stop-color="#c7a848"/><stop offset=".761" stop-color="#a4601c"/><stop offset=".783" stop-color="#9b4d14"/><stop offset=".820" stop-color="#954410"/><stop offset=".996" stop-color="#93410f"/></linearGradient><linearGradient id="g250"><stop offset=".004" stop-color="#43a0cf"/><stop offset=".143" stop-color="#3c98cb"/><stop offset=".540" stop-color="#58b7d9"/><stop offset=".607" stop-color="#63c0dc"/><stop offset=".643" stop-color="#7ed3dc"/><stop offset=".688" stop-color="#bfe5bb"/><stop offset=".695" stop-color="#cbdfa8"/><stop offset=".702" stop-color="#d3d185"/><stop offset=".710" stop-color="#d0c367"/><stop offset=".724" stop-color="#c8ab4c"/><stop offset=".761" stop-color="#b4812c"/><stop offset=".827" stop-color="#a6631e"/><stop offset=".996" stop-color="#a4601c"/></linearGradient><linearGradient id="g251"><stop offset=".004" stop-color="#419fce"/><stop offset=".143" stop-color="#3b96ca"/><stop offset=".540" stop-color="#58b7d9"/><stop offset=".607" stop-color="#63c1dc"/><stop offset=".643" stop-color="#80d4dc"/><stop offset=".680" stop-color="#b8e5c2"/><stop offset=".688" stop-color="#c4e3b5"/><stop offset=".695" stop-color="#d1d997"/><stop offset=".710" stop-color="#cebc5e"/><stop offset=".717" stop-color="#caaf4f"/><stop offset=".761" stop-color="#ae7526"/><stop offset=".783" stop-color="#a5611d"/><stop offset=".820" stop-color="#9f5417"/><stop offset=".996" stop-color="#9d5015"/></linearGradient><linearGradient id="g252"><stop offset=".004" stop-color="#419ece"/><stop offset=".143" stop-color="#3a95ca"/><stop offset=".540" stop-color="#58b6d9"/><stop offset=".607" stop-color="#64c1dc"/><stop offset=".643" stop-color="#82d5db"/><stop offset=".680" stop-color="#bbe6c0"/><stop offset=".688" stop-color="#c7e2b1"/><stop offset=".695" stop-color="#d4d58e"/><stop offset=".702" stop-color="#d1c66e"/><stop offset=".717" stop-color="#c8ab4c"/><stop offset=".761" stop-color="#aa6d22"/><stop offset=".783" stop-color="#a15919"/><stop offset=".812" stop-color="#9c4f15"/><stop offset=".996" stop-color="#9a4c13"/></linearGradient><linearGradient id="g253"><stop offset=".004" stop-color="#3f9bcc"/><stop offset=".151" stop-color="#3892c8"/><stop offset=".570" stop-color="#5cbada"/><stop offset=".621" stop-color="#6ec8dc"/><stop offset=".643" stop-color="#86d6da"/><stop offset=".673" stop-color="#b6e5c4"/><stop offset=".680" stop-color="#c3e4b7"/><stop offset=".688" stop-color="#d0da9a"/><stop offset=".702" stop-color="#cebb5c"/><stop offset=".710" stop-color="#c8ac4d"/><stop offset=".732" stop-color="#b5842e"/><stop offset=".761" stop-color="#9e5116"/><stop offset=".820" stop-color="#903d0d"/><stop offset=".996" stop-color="#8e3a0c"/></linearGradient><linearGradient id="g254"><stop offset=".004" stop-color="#409ccd"/><stop offset=".136" stop-color="#3993c9"/><stop offset=".335" stop-color="#43a1d0"/><stop offset=".577" stop-color="#5dbcda"/><stop offset=".614" stop-color="#68c4dc"/><stop offset=".636" stop-color="#7cd1dc"/><stop offset=".658" stop-color="#9aded2"/><stop offset=".680" stop-color="#c1e4b9"/><stop offset=".695" stop-color="#d2cd7d"/><stop offset=".702" stop-color="#cfbe5f"/><stop offset=".717" stop-color="#c4a244"/><stop offset=".761" stop-color="#a25b1a"/><stop offset=".820" stop-color="#944410"/><stop offset=".996" stop-color="#93410f"/></linearGradient><linearGradient id="g255"><stop offset=".004" stop-color="#409dce"/><stop offset=".136" stop-color="#3994c9"/><stop offset=".335" stop-color="#44a2d0"/><stop offset=".577" stop-color="#5dbcda"/><stop offset=".614" stop-color="#68c4dc"/><stop offset=".636" stop-color="#7cd1dc"/><stop offset=".658" stop-color="#9aded2"/><stop offset=".680" stop-color="#c1e4b9"/><stop offset=".695" stop-color="#d2cd7d"/><stop offset=".702" stop-color="#cfbe60"/><stop offset=".717" stop-color="#c5a344"/><stop offset=".761" stop-color="#a35e1b"/><stop offset=".783" stop-color="#9b4d14"/><stop offset=".820" stop-color="#964611"/><stop offset=".996" stop-color="#944310"/></linearGradient><linearGradient id="g256"><stop offset=".004" stop-color="#419dce"/><stop offset=".143" stop-color="#3a95c9"/><stop offset=".393" stop-color="#4aa9d4"/><stop offset=".592" stop-color="#60bedb"/><stop offset=".636" stop-color="#7cd2dc"/><stop offset=".665" stop-color="#a7e2cc"/><stop offset=".680" stop-color="#c2e4b8"/><stop offset=".695" stop-color="#d2cc7a"/><stop offset=".702" stop-color="#cebd5e"/><stop offset=".717" stop-color="#c4a243"/><stop offset=".761" stop-color="#a35d1b"/><stop offset=".783" stop-color="#9b4d14"/><stop offset=".820" stop-color="#964611"/><stop offset=".996" stop-color="#944410"/></linearGradient><linearGradient id="g257"><stop offset=".004" stop-color="#42a0cf"/><stop offset=".143" stop-color="#3c98cb"/><stop offset=".540" stop-color="#58b7d9"/><stop offset=".607" stop-color="#64c1dc"/><stop offset=".643" stop-color="#83d5db"/><stop offset=".680" stop-color="#bee5be"/><stop offset=".688" stop-color="#cae0ab"/><stop offset=".695" stop-color="#d3d287"/><stop offset=".702" stop-color="#d0c367"/><stop offset=".717" stop-color="#c7a94a"/><stop offset=".754" stop-color="#b07928"/><stop offset=".783" stop-color="#a45f1c"/><stop offset=".820" stop-color="#9f5417"/><stop offset=".996" stop-color="#9d5115"/></linearGradient><linearGradient id="g258"><stop offset=".004" stop-color="#44a2d0"/><stop offset=".143" stop-color="#3e9acc"/><stop offset=".540" stop-color="#58b7d9"/><stop offset=".607" stop-color="#64c1dc"/><stop offset=".643" stop-color="#81d4dc"/><stop offset=".680" stop-color="#bae6c1"/><stop offset=".688" stop-color="#c5e3b3"/><stop offset=".695" stop-color="#d3d794"/><stop offset=".710" stop-color="#cebc5e"/><stop offset=".717" stop-color="#cab050"/><stop offset=".754" stop-color="#b6852f"/><stop offset=".820" stop-color="#a86720"/><stop offset=".996" stop-color="#a6641e"/></linearGradient><linearGradient id="g259"><stop offset=".004" stop-color="#419fce"/><stop offset=".143" stop-color="#3b96ca"/><stop offset=".533" stop-color="#57b6d8"/><stop offset=".599" stop-color="#62c0dc"/><stop offset=".636" stop-color="#7dd2dc"/><stop offset=".673" stop-color="#b6e5c3"/><stop offset=".680" stop-color="#c3e4b6"/><stop offset=".688" stop-color="#d1d998"/><stop offset=".702" stop-color="#cebb5d"/><stop offset=".710" stop-color="#c9ad4e"/><stop offset=".754" stop-color="#a86920"/><stop offset=".776" stop-color="#9f5317"/><stop offset=".805" stop-color="#994b13"/><stop offset=".996" stop-color="#974711"/></linearGradient><linearGradient id="g260"><stop offset=".004" stop-color="#44a2d0"/><stop offset=".143" stop-color="#3e9acc"/><stop offset=".540" stop-color="#58b7d9"/><stop offset=".607" stop-color="#64c1dc"/><stop offset=".643" stop-color="#82d5db"/><stop offset=".680" stop-color="#bde6bf"/><stop offset=".688" stop-color="#c9e1af"/><stop offset=".695" stop-color="#d4d48b"/><stop offset=".702" stop-color="#d1c66c"/><stop offset=".717" stop-color="#c8ac4d"/><stop offset=".754" stop-color="#b4812c"/><stop offset=".783" stop-color="#aa6d22"/><stop offset=".820" stop-color="#a6631e"/><stop offset=".996" stop-color="#a4601c"/></linearGradient><linearGradient id="g261"><stop offset=".004" stop-color="#42a0cf"/><stop offset=".143" stop-color="#3c98cb"/><stop offset=".540" stop-color="#58b7d9"/><stop offset=".599" stop-color="#62c0dc"/><stop offset=".636" stop-color="#7dd2dc"/><stop offset=".673" stop-color="#b6e5c3"/><stop offset=".680" stop-color="#c3e4b6"/><stop offset=".688" stop-color="#d1d999"/><stop offset=".702" stop-color="#cebc5d"/><stop offset=".710" stop-color="#c9ae4e"/><stop offset=".754" stop-color="#ab6f23"/><stop offset=".776" stop-color="#a25a1a"/><stop offset=".805" stop-color="#9d5015"/><stop offset=".996" stop-color="#9a4c14"/></linearGradient><linearGradient id="g262"><stop offset=".004" stop-color="#429fce"/><stop offset=".143" stop-color="#3b97ca"/><stop offset=".540" stop-color="#58b7d9"/><stop offset=".599" stop-color="#63c0dc"/><stop offset=".636" stop-color="#7fd3dc"/><stop offset=".673" stop-color="#bae6c1"/><stop offset=".680" stop-color="#c7e2b2"/><stop offset=".688" stop-color="#d4d58e"/><stop offset=".695" stop-color="#d1c66d"/><stop offset=".710" stop-color="#c7a94a"/><stop offset=".754" stop-color="#a6631e"/><stop offset=".776" stop-color="#9d5015"/><stop offset=".805" stop-color="#984912"/><stop offset=".996" stop-color="#954510"/></linearGradient><linearGradient id="g263"><stop offset=".004" stop-color="#44a2d0"/><stop offset=".143" stop-color="#3e9acc"/><stop offset=".540" stop-color="#59b7d9"/><stop offset=".599" stop-color="#62c0dc"/><stop offset=".636" stop-color="#7cd1dc"/><stop offset=".658" stop-color="#9aded2"/><stop offset=".680" stop-color="#c1e4ba"/><stop offset=".695" stop-color="#d3cf80"/><stop offset=".702" stop-color="#cfc062"/><stop offset=".717" stop-color="#c6a748"/><stop offset=".754" stop-color="#b07a28"/><stop offset=".776" stop-color="#a7671f"/><stop offset=".812" stop-color="#a25a1a"/><stop offset=".996" stop-color="#9f5517"/></linearGradient><linearGradient id="g264"><stop offset=".004" stop-color="#43a0cf"/><stop offset=".143" stop-color="#3c98cb"/><stop offset=".540" stop-color="#58b7d9"/><stop offset=".599" stop-color="#63c1dc"/><stop offset=".636" stop-color="#7fd3dc"/><stop offset=".673" stop-color="#b9e5c1"/><stop offset=".680" stop-color="#c6e3b3"/><stop offset=".688" stop-color="#d4d68f"/><stop offset=".695" stop-color="#d1c76f"/><stop offset=".710" stop-color="#c8aa4b"/><stop offset=".754" stop-color="#a7661f"/><stop offset=".776" stop-color="#9e5116"/><stop offset=".805" stop-color="#994a13"/><stop offset=".996" stop-color="#964611"/></linearGradient><linearGradient id="g265"><stop offset=".004" stop-color="#419ece"/><stop offset=".143" stop-color="#3a95ca"/><stop offset=".577" stop-color="#5ebddb"/><stop offset=".621" stop-color="#71cadc"/><stop offset=".651" stop-color="#98ddd3"/><stop offset=".673" stop-color="#bfe5bc"/><stop offset=".688" stop-color="#d2ce7f"/><stop offset=".702" stop-color="#c9af4f"/><stop offset=".724" stop-color="#b5842e"/><stop offset=".754" stop-color="#9d5015"/><stop offset=".812" stop-color="#8e3a0c"/><stop offset=".996" stop-color="#8d380b"/></linearGradient><linearGradient id="g266"><stop offset=".004" stop-color="#44a1d0"/><stop offset=".143" stop-color="#3d99cc"/><stop offset=".540" stop-color="#59b8d9"/><stop offset=".599" stop-color="#64c1dc"/><stop offset=".636" stop-color="#7fd3dc"/><stop offset=".673" stop-color="#b9e5c2"/><stop offset=".680" stop-color="#c5e3b4"/><stop offset=".688" stop-color="#d3d792"/><stop offset=".695" stop-color="#d1c871"/><stop offset=".710" stop-color="#c8ab4c"/><stop offset=".754" stop-color="#a86820"/><stop offset=".776" stop-color="#9f5417"/><stop offset=".805" stop-color="#9a4c13"/><stop offset=".996" stop-color="#974812"/></linearGradient><linearGradient id="g267"><stop offset=".004" stop-color="#47a6d2"/><stop offset=".143" stop-color="#42a0cf"/><stop offset=".540" stop-color="#5ab8d9"/><stop offset=".607" stop-color="#65c2dc"/><stop offset=".643" stop-color="#81d4dc"/><stop offset=".680" stop-color="#b8e5c2"/><stop offset=".688" stop-color="#c4e3b5"/><stop offset=".695" stop-color="#d1d999"/><stop offset=".710" stop-color="#cfbf61"/><stop offset=".717" stop-color="#cbb454"/><stop offset=".754" stop-color="#bb8e34"/><stop offset=".820" stop-color="#af7827"/><stop offset=".996" stop-color="#ae7526"/></linearGradient><linearGradient id="g268"><stop offset=".004" stop-color="#4babd4"/><stop offset=".143" stop-color="#46a5d2"/><stop offset=".548" stop-color="#5bb9da"/><stop offset=".614" stop-color="#66c2dc"/><stop offset=".651" stop-color="#82d5db"/><stop offset=".688" stop-color="#b7e5c3"/><stop offset=".695" stop-color="#c2e4b8"/><stop offset=".710" stop-color="#d3d288"/><stop offset=".724" stop-color="#cfbf60"/><stop offset=".754" stop-color="#c6a748"/><stop offset=".812" stop-color="#c0993b"/><stop offset=".996" stop-color="#bf9739"/></linearGradient><linearGradient id="g269"><stop offset=".004" stop-color="#48a8d3"/><stop offset=".143" stop-color="#43a1d0"/><stop offset=".540" stop-color="#5ab9d9"/><stop offset=".607" stop-color="#65c2dc"/><stop offset=".643" stop-color="#80d4dc"/><stop offset=".688" stop-color="#c2e4b8"/><stop offset=".702" stop-color="#d3d082"/><stop offset=".710" stop-color="#d0c366"/><stop offset=".717" stop-color="#ccb758"/><stop offset=".754" stop-color="#bd9337"/><stop offset=".812" stop-color="#b27e2b"/><stop offset=".996" stop-color="#b17b29"/></linearGradient><linearGradient id="g270"><stop offset=".004" stop-color="#47a6d2"/><stop offset=".143" stop-color="#419ece"/><stop offset=".540" stop-color="#5ab9d9"/><stop offset=".607" stop-color="#66c3dc"/><stop offset=".643" stop-color="#83d5db"/><stop offset=".680" stop-color="#bce6c0"/><stop offset=".688" stop-color="#c7e2b1"/><stop offset=".695" stop-color="#d4d68f"/><stop offset=".702" stop-color="#d1c871"/><stop offset=".717" stop-color="#c9af4f"/><stop offset=".754" stop-color="#b6842e"/><stop offset=".820" stop-color="#a7671f"/><stop offset=".996" stop-color="#a6631e"/></linearGradient><linearGradient id="g271"><stop offset=".004" stop-color="#47a6d2"/><stop offset=".143" stop-color="#419fce"/><stop offset=".540" stop-color="#5ab9d9"/><stop offset=".607" stop-color="#66c3dc"/><stop offset=".643" stop-color="#82d5db"/><stop offset=".680" stop-color="#b9e5c2"/><stop offset=".688" stop-color="#c5e3b4"/><stop offset=".695" stop-color="#d2d896"/><stop offset=".710" stop-color="#cebd5f"/><stop offset=".717" stop-color="#cab151"/><stop offset=".754" stop-color="#b78730"/><stop offset=".820" stop-color="#a86920"/><stop offset=".996" stop-color="#a7661f"/></linearGradient><linearGradient id="g272"><stop offset=".004" stop-color="#47a6d2"/><stop offset=".143" stop-color="#429fce"/><stop offset=".540" stop-color="#5ab9d9"/><stop offset=".607" stop-color="#66c3dc"/><stop offset=".643" stop-color="#81d4dc"/><stop offset=".680" stop-color="#b7e5c3"/><stop offset=".695" stop-color="#cfdb9e"/><stop offset=".710" stop-color="#cfc062"/><stop offset=".717" stop-color="#cbb455"/><stop offset=".754" stop-color="#b88a32"/><stop offset=".820" stop-color="#aa6c22"/><stop offset=".996" stop-color="#a86920"/></linearGradient><linearGradient id="g273"><stop offset=".004" stop-color="#46a4d1"/><stop offset=".143" stop-color="#409dcd"/><stop offset=".540" stop-color="#5bb9da"/><stop offset=".607" stop-color="#67c3dc"/><stop offset=".643" stop-color="#83d5db"/><stop offset=".680" stop-color="#bae6c1"/><stop offset=".688" stop-color="#c6e3b3"/><stop offset=".695" stop-color="#d3d792"/><stop offset=".710" stop-color="#cebb5c"/><stop offset=".717" stop-color="#c9ae4e"/><stop offset=".754" stop-color="#b37f2b"/><stop offset=".783" stop-color="#a7661f"/><stop offset=".820" stop-color="#a25a1a"/><stop offset=".996" stop-color="#a05618"/></linearGradient><linearGradient id="g274"><stop offset=".004" stop-color="#47a6d2"/><stop offset=".143" stop-color="#419ece"/><stop offset=".540" stop-color="#5bb9da"/><stop offset=".607" stop-color="#66c3dc"/><stop offset=".643" stop-color="#81d4dc"/><stop offset=".688" stop-color="#c1e4b9"/><stop offset=".702" stop-color="#d3cf81"/><stop offset=".710" stop-color="#d0c264"/><stop offset=".717" stop-color="#ccb556"/><stop offset=".754" stop-color="#b88931"/><stop offset=".820" stop-color="#a86720"/><stop offset=".996" stop-color="#a6631e"/></linearGradient><linearGradient id="g275"><stop offset=".004" stop-color="#46a5d2"/><stop offset=".143" stop-color="#419dce"/><stop offset=".540" stop-color="#5bbada"/><stop offset=".607" stop-color="#67c3dc"/><stop offset=".643" stop-color="#81d5db"/><stop offset=".688" stop-color="#c1e4b9"/><stop offset=".702" stop-color="#d3cf80"/><stop offset=".710" stop-color="#d0c163"/><stop offset=".724" stop-color="#c7a94a"/><stop offset=".761" stop-color="#b37f2b"/><stop offset=".790" stop-color="#a96a21"/><stop offset=".827" stop-color="#a4601c"/><stop offset=".996" stop-color="#a35d1b"/></linearGradient><linearGradient id="g276"><stop offset=".004" stop-color="#46a5d1"/><stop offset=".143" stop-color="#409dcd"/><stop offset=".540" stop-color="#5bbada"/><stop offset=".614" stop-color="#6ac5dc"/><stop offset=".643" stop-color="#82d5db"/><stop offset=".688" stop-color="#c2e4b8"/><stop offset=".702" stop-color="#d2ce7f"/><stop offset=".710" stop-color="#cfc062"/><stop offset=".724" stop-color="#c7a849"/><stop offset=".761" stop-color="#b17c29"/><stop offset=".790" stop-color="#a6641e"/><stop offset=".820" stop-color="#a25b1a"/><stop offset=".996" stop-color="#a05618"/></linearGradient><linearGradient id="g277"><stop offset=".004" stop-color="#48a7d3"/><stop offset=".143" stop-color="#43a0cf"/><stop offset=".540" stop-color="#5bbada"/><stop offset=".614" stop-color="#67c4dc"/><stop offset=".651" stop-color="#81d4dc"/><stop offset=".695" stop-color="#bce6c0"/><stop offset=".702" stop-color="#c6e3b2"/><stop offset=".710" stop-color="#d2d895"/><stop offset=".724" stop-color="#cfc062"/><stop offset=".768" stop-color="#be9437"/><stop offset=".827" stop-color="#b37f2b"/><stop offset=".996" stop-color="#b17c29"/></linearGradient><linearGradient id="g278"><stop offset=".004" stop-color="#47a6d2"/><stop offset=".143" stop-color="#419ece"/><stop offset=".540" stop-color="#5bbada"/><stop offset=".614" stop-color="#67c4dc"/><stop offset=".651" stop-color="#80d4dc"/><stop offset=".695" stop-color="#b7e5c3"/><stop offset=".702" stop-color="#c2e4b9"/><stop offset=".717" stop-color="#d3d186"/><stop offset=".732" stop-color="#cebc5d"/><stop offset=".768" stop-color="#be9438"/><stop offset=".835" stop-color="#af7927"/><stop offset=".996" stop-color="#ae7526"/></linearGradient><linearGradient id="g279"><stop offset=".004" stop-color="#44a2d0"/><stop offset=".136" stop-color="#3d99cc"/><stop offset=".335" stop-color="#48a7d2"/><stop offset=".585" stop-color="#62c0dc"/><stop offset=".643" stop-color="#7ed2dc"/><stop offset=".695" stop-color="#bae6c1"/><stop offset=".710" stop-color="#d0da9b"/><stop offset=".724" stop-color="#d0c163"/><stop offset=".754" stop-color="#c19a3c"/><stop offset=".783" stop-color="#ae7626"/><stop offset=".805" stop-color="#a6631e"/><stop offset=".842" stop-color="#a05618"/><stop offset=".996" stop-color="#9e5216"/></linearGradient><linearGradient id="g280"><stop offset=".004" stop-color="#47a6d2"/><stop offset=".136" stop-color="#419ece"/><stop offset=".335" stop-color="#4aaad4"/><stop offset=".585" stop-color="#62c0dc"/><stop offset=".651" stop-color="#7fd3dc"/><stop offset=".702" stop-color="#b5e5c4"/><stop offset=".717" stop-color="#c9e1af"/><stop offset=".724" stop-color="#d3d793"/><stop offset=".746" stop-color="#cebb5c"/><stop offset=".783" stop-color="#bf9639"/><stop offset=".842" stop-color="#b27d2a"/><stop offset=".996" stop-color="#b07928"/></linearGradient><linearGradient id="g281"><stop offset=".004" stop-color="#4babd4"/><stop offset=".143" stop-color="#46a5d1"/><stop offset=".548" stop-color="#5ebcdb"/><stop offset=".614" stop-color="#67c3dc"/><stop offset=".665" stop-color="#80d4dc"/><stop offset=".732" stop-color="#c1e4b9"/><stop offset=".739" stop-color="#c7e2b1"/><stop offset=".754" stop-color="#d3d389"/><stop offset=".768" stop-color="#d0c467"/><stop offset=".798" stop-color="#c9af4f"/><stop offset=".857" stop-color="#c4a344"/><stop offset=".996" stop-color="#c4a142"/></linearGradient><linearGradient id="g282"><stop offset=".004" stop-color="#4babd4"/><stop offset=".143" stop-color="#46a5d1"/><stop offset=".548" stop-color="#5fbddb"/><stop offset=".614" stop-color="#68c4dc"/><stop offset=".665" stop-color="#81d4dc"/><stop offset=".739" stop-color="#c1e4b9"/><stop offset=".761" stop-color="#d4d58d"/><stop offset=".783" stop-color="#cfc062"/><stop offset=".812" stop-color="#cab050"/><stop offset=".996" stop-color="#c6a647"/></linearGradient><linearGradient id="g283"><stop offset=".004" stop-color="#4babd4"/><stop offset=".136" stop-color="#45a3d1"/><stop offset=".327" stop-color="#4eaed5"/><stop offset=".562" stop-color="#62c0dc"/><stop offset=".658" stop-color="#7fd3dc"/><stop offset=".746" stop-color="#bee5bd"/><stop offset=".761" stop-color="#c9e1ad"/><stop offset=".776" stop-color="#d3d38a"/><stop offset=".798" stop-color="#d0c162"/><stop offset=".820" stop-color="#cbb455"/><stop offset=".996" stop-color="#c7a849"/></linearGradient><linearGradient id="g284"><stop offset=".004" stop-color="#4cabd5"/><stop offset=".136" stop-color="#46a4d1"/><stop offset=".327" stop-color="#4faed6"/><stop offset=".555" stop-color="#62c0dc"/><stop offset=".658" stop-color="#80d4dc"/><stop offset=".761" stop-color="#bce6c0"/><stop offset=".783" stop-color="#cae0aa"/><stop offset=".798" stop-color="#d4d48c"/><stop offset=".827" stop-color="#d0c264"/><stop offset=".849" stop-color="#cdba5b"/><stop offset=".996" stop-color="#cbb353"/></linearGradient><linearGradient id="g285"><stop offset=".004" stop-color="#4eaed5"/><stop offset=".136" stop-color="#48a8d3"/><stop offset=".335" stop-color="#51b1d6"/><stop offset=".555" stop-color="#63c0dc"/><stop offset=".665" stop-color="#80d4dc"/><stop offset=".790" stop-color="#b8e5c2"/><stop offset=".820" stop-color="#c8e2b0"/><stop offset=".842" stop-color="#d2d895"/><stop offset=".893" stop-color="#d2ce7e"/><stop offset=".996" stop-color="#d2cc7a"/></linearGradient><linearGradient id="g286"><stop offset=".004" stop-color="#51b0d6"/><stop offset=".143" stop-color="#4babd4"/><stop offset=".548" stop-color="#62c0dc"/><stop offset=".614" stop-color="#6bc6dc"/><stop offset=".673" stop-color="#80d4dc"/><stop offset=".724" stop-color="#99ddd3"/><stop offset=".783" stop-color="#a3e1ce"/><stop offset=".857" stop-color="#c1e4ba"/><stop offset=".996" stop-color="#c9e1ae"/></linearGradient><linearGradient id="g287"><stop offset=".004" stop-color="#52b1d7"/><stop offset=".143" stop-color="#4dacd5"/><stop offset=".548" stop-color="#63c1dc"/><stop offset=".673" stop-color="#81d4dc"/><stop offset=".724" stop-color="#98ddd3"/><stop offset=".790" stop-color="#9edfd1"/><stop offset=".879" stop-color="#b9e5c2"/><stop offset=".996" stop-color="#bee5bd"/></linearGradient><linearGradient id="g288"><stop offset=".004" stop-color="#52b1d7"/><stop offset=".143" stop-color="#4cacd5"/><stop offset=".540" stop-color="#65c2dc"/><stop offset=".621" stop-color="#71cadc"/><stop offset=".724" stop-color="#9edfd1"/><stop offset=".996" stop-color="#b9e5c2"/></linearGradient><linearGradient id="g289"><stop offset=".004" stop-color="#53b2d7"/><stop offset=".143" stop-color="#4eadd5"/><stop offset=".540" stop-color="#66c3dc"/><stop offset=".621" stop-color="#72cbdc"/><stop offset=".724" stop-color="#9ddfd1"/><stop offset=".996" stop-color="#b0e3c7"/></linearGradient><linearGradient id="g290"><stop offset=".004" stop-color="#55b4d8"/><stop offset=".143" stop-color="#50afd6"/><stop offset=".496" stop-color="#62c0dc"/><stop offset=".614" stop-color="#6fc9dc"/><stop offset=".724" stop-color="#99ddd3"/><stop offset=".996" stop-color="#a5e1cd"/></linearGradient><linearGradient id="g291"><stop offset=".004" stop-color="#56b5d8"/><stop offset=".143" stop-color="#51b0d6"/><stop offset=".482" stop-color="#62c0dc"/><stop offset=".614" stop-color="#70c9dc"/><stop offset=".724" stop-color="#99ddd3"/><stop offset=".996" stop-color="#9fe0d0"/></linearGradient><linearGradient id="g292"><stop offset=".004" stop-color="#57b6d8"/><stop offset=".143" stop-color="#52b1d7"/><stop offset=".460" stop-color="#62c0dc"/><stop offset=".614" stop-color="#72cadc"/><stop offset=".724" stop-color="#9aded2"/><stop offset=".996" stop-color="#9aded2"/></linearGradient><linearGradient id="g293"><stop offset=".004" stop-color="#58b7d9"/><stop offset=".335" stop-color="#5ab9d9"/><stop offset=".614" stop-color="#74ccdc"/><stop offset=".724" stop-color="#9ddfd1"/><stop offset=".996" stop-color="#9ddfd1"/></linearGradient><linearGradient id="g294"><stop offset=".004" stop-color="#59b8d9"/><stop offset=".335" stop-color="#5cbada"/><stop offset=".614" stop-color="#73ccdc"/><stop offset=".724" stop-color="#9aded2"/><stop offset=".996" stop-color="#9aded2"/></linearGradient><linearGradient id="g295"><stop offset=".004" stop-color="#5ab9d9"/><stop offset=".335" stop-color="#5dbbda"/><stop offset=".614" stop-color="#76cddc"/><stop offset=".724" stop-color="#9edfd1"/><stop offset=".996" stop-color="#9edfd1"/></linearGradient><linearGradient id="g296"><stop offset=".004" stop-color="#5bbada"/><stop offset=".335" stop-color="#5ebcdb"/><stop offset=".614" stop-color="#79cfdc"/><stop offset=".724" stop-color="#a2e0cf"/><stop offset=".996" stop-color="#a2e0cf"/></linearGradient><linearGradient id="g297"><stop offset=".004" stop-color="#5cbbda"/><stop offset=".379" stop-color="#62c0dc"/><stop offset=".614" stop-color="#79cfdc"/><stop offset=".724" stop-color="#a0e0d0"/><stop offset=".996" stop-color="#a0e0d0"/></linearGradient><linearGradient id="cb298" x1="0" y1="0" x2="0" y2="1"><stop offset="0.000" stop-color="#7a1a02"/><stop offset="0.047" stop-color="#842a06"/><stop offset="0.111" stop-color="#8e3a0c"/><stop offset="0.178" stop-color="#9e5216"/><stop offset="0.244" stop-color="#b07a28"/><stop offset="0.311" stop-color="#c0983a"/><stop offset="0.378" stop-color="#cab050"/><stop offset="0.422" stop-color="#d0c264"/><stop offset="0.467" stop-color="#d4d690"/><stop offset="0.493" stop-color="#c8e2b0"/><stop offset="0.522" stop-color="#bce6c0"/><stop offset="0.573" stop-color="#a0e0d0"/><stop offset="0.622" stop-color="#80d4dc"/><stop offset="0.667" stop-color="#62c0dc"/><stop offset="0.722" stop-color="#4aaad4"/><stop offset="0.771" stop-color="#3892c8"/><stop offset="0.822" stop-color="#2c7cbc"/><stop offset="0.867" stop-color="#2268b0"/><stop offset="0.922" stop-color="#1854a4"/><stop offset="0.971" stop-color="#104498"/><stop offset="1.000" stop-color="#0a3888"/></linearGradient><linearGradient id="g299"><stop offset=".004" stop-color="#c6e3b2"/><stop offset=".120" stop-color="#ade3c9"/><stop offset=".383" stop-color="#82d5db"/><stop offset=".507" stop-color="#90dad6"/><stop offset=".522" stop-color="#a3e1ce"/><stop offset=".529" stop-color="#90dad6"/><stop offset=".536" stop-color="#8cd9d7"/><stop offset=".609" stop-color="#8ad8d8"/><stop offset=".631" stop-color="#a6e1cd"/><stop offset=".653" stop-color="#78cfdc"/><stop offset=".668" stop-color="#8dd9d7"/><stop offset=".704" stop-color="#8fdad6"/><stop offset=".996" stop-color="#75cddc"/></linearGradient><linearGradient id="g300"><stop offset=".004" stop-color="#c6e3b3"/><stop offset=".120" stop-color="#abe2ca"/><stop offset=".383" stop-color="#81d4dc"/><stop offset=".507" stop-color="#8ed9d7"/><stop offset=".522" stop-color="#a2e0cf"/><stop offset=".529" stop-color="#8ed9d7"/><stop offset=".536" stop-color="#8bd8d8"/><stop offset=".609" stop-color="#89d7d9"/><stop offset=".631" stop-color="#a4e1ce"/><stop offset=".653" stop-color="#77cedc"/><stop offset=".668" stop-color="#8cd8d8"/><stop offset=".704" stop-color="#8ed9d7"/><stop offset=".996" stop-color="#74ccdc"/></linearGradient><linearGradient id="g301"><stop offset=".004" stop-color="#c1e4b9"/><stop offset=".135" stop-color="#a3e1ce"/><stop offset=".383" stop-color="#7dd2dc"/><stop offset=".507" stop-color="#8ad8d8"/><stop offset=".522" stop-color="#9cded2"/><stop offset=".529" stop-color="#8ad8d8"/><stop offset=".536" stop-color="#87d7d9"/><stop offset=".609" stop-color="#84d6da"/><stop offset=".631" stop-color="#9fdfd0"/><stop offset=".653" stop-color="#74ccdc"/><stop offset=".668" stop-color="#87d7d9"/><stop offset=".704" stop-color="#89d7d9"/><stop offset=".996" stop-color="#72cbdc"/></linearGradient><linearGradient id="g302"><stop offset=".004" stop-color="#c9e0ab"/><stop offset=".113" stop-color="#aee3c8"/><stop offset=".383" stop-color="#81d4db"/><stop offset=".507" stop-color="#8ed9d7"/><stop offset=".522" stop-color="#a1e0cf"/><stop offset=".529" stop-color="#8ed9d7"/><stop offset=".536" stop-color="#8bd8d8"/><stop offset=".609" stop-color="#88d7d9"/><stop offset=".631" stop-color="#a5e1cd"/><stop offset=".653" stop-color="#77cedc"/><stop offset=".668" stop-color="#8bd8d8"/><stop offset=".704" stop-color="#8dd9d7"/><stop offset=".996" stop-color="#75cddc"/></linearGradient><linearGradient id="g303"><stop offset=".004" stop-color="#cae0ab"/><stop offset=".120" stop-color="#ade3c8"/><stop offset=".266" stop-color="#8dd9d7"/><stop offset=".383" stop-color="#80d4dc"/><stop offset=".507" stop-color="#8ed9d7"/><stop offset=".522" stop-color="#a1e0cf"/><stop offset=".529" stop-color="#8ed9d7"/><stop offset=".536" stop-color="#8ad8d8"/><stop offset=".609" stop-color="#88d7d9"/><stop offset=".631" stop-color="#a4e1ce"/><stop offset=".653" stop-color="#77cedc"/><stop offset=".668" stop-color="#8bd8d8"/><stop offset=".704" stop-color="#8dd9d7"/><stop offset=".996" stop-color="#76cddc"/></linearGradient><linearGradient id="g304"><stop offset=".004" stop-color="#cfdb9d"/><stop offset=".033" stop-color="#c8e2b0"/><stop offset=".113" stop-color="#b4e4c5"/><stop offset=".266" stop-color="#90dad6"/><stop offset=".383" stop-color="#82d5db"/><stop offset=".507" stop-color="#90dad6"/><stop offset=".522" stop-color="#a3e1ce"/><stop offset=".529" stop-color="#90dad6"/><stop offset=".536" stop-color="#8dd9d7"/><stop offset=".609" stop-color="#8ad8d8"/><stop offset=".631" stop-color="#a7e2cc"/><stop offset=".653" stop-color="#79cfdc"/><stop offset=".668" stop-color="#8dd9d7"/><stop offset=".704" stop-color="#8fdad6"/><stop offset=".996" stop-color="#78cfdc"/></linearGradient><linearGradient id="g305"><stop offset=".004" stop-color="#d1d997"/><stop offset=".040" stop-color="#c8e2af"/><stop offset=".099" stop-color="#bae6c1"/><stop offset=".266" stop-color="#90dad6"/><stop offset=".383" stop-color="#82d5db"/><stop offset=".507" stop-color="#90dad6"/><stop offset=".522" stop-color="#a4e1ce"/><stop offset=".529" stop-color="#90dad6"/><stop offset=".536" stop-color="#8dd9d7"/><stop offset=".609" stop-color="#8ad8d8"/><stop offset=".631" stop-color="#a8e2cc"/><stop offset=".653" stop-color="#79cfdc"/><stop offset=".668" stop-color="#8dd9d7"/><stop offset=".704" stop-color="#8fdad6"/><stop offset=".996" stop-color="#79d0dc"/></linearGradient><linearGradient id="g306"><stop offset=".004" stop-color="#cedca1"/><stop offset=".040" stop-color="#c5e3b4"/><stop offset=".113" stop-color="#b2e4c6"/><stop offset=".266" stop-color="#8cd9d7"/><stop offset=".383" stop-color="#80d4dc"/><stop offset=".507" stop-color="#8dd9d7"/><stop offset=".522" stop-color="#a0e0d0"/><stop offset=".529" stop-color="#8dd9d7"/><stop offset=".536" stop-color="#8ad8d8"/><stop offset=".609" stop-color="#87d7d9"/><stop offset=".631" stop-color="#a4e1ce"/><stop offset=".653" stop-color="#76cedc"/><stop offset=".668" stop-color="#8ad8d8"/><stop offset=".704" stop-color="#8cd8d8"/><stop offset=".996" stop-color="#78cfdc"/></linearGradient><linearGradient id="g307"><stop offset=".004" stop-color="#d3d287"/><stop offset=".099" stop-color="#bfe5bc"/><stop offset=".266" stop-color="#92dbd5"/><stop offset=".442" stop-color="#84d5db"/><stop offset=".507" stop-color="#92dbd5"/><stop offset=".522" stop-color="#a6e1cd"/><stop offset=".529" stop-color="#92dbd5"/><stop offset=".536" stop-color="#8fdad6"/><stop offset=".602" stop-color="#8cd8d8"/><stop offset=".617" stop-color="#90dad6"/><stop offset=".631" stop-color="#abe2ca"/><stop offset=".653" stop-color="#7ad0dc"/><stop offset=".668" stop-color="#8fdad6"/><stop offset=".704" stop-color="#91dbd5"/><stop offset=".996" stop-color="#7dd2dc"/></linearGradient><linearGradient id="g308"><stop offset=".004" stop-color="#d3d185"/><stop offset=".106" stop-color="#bee5bd"/><stop offset=".266" stop-color="#91dad6"/><stop offset=".442" stop-color="#83d5db"/><stop offset=".507" stop-color="#91dbd5"/><stop offset=".522" stop-color="#a5e1cd"/><stop offset=".529" stop-color="#91dad6"/><stop offset=".536" stop-color="#8ed9d7"/><stop offset=".602" stop-color="#8bd8d8"/><stop offset=".617" stop-color="#8fdad6"/><stop offset=".631" stop-color="#aae2ca"/><stop offset=".653" stop-color="#7ad0dc"/><stop offset=".668" stop-color="#8fd9d7"/><stop offset=".704" stop-color="#91dad6"/><stop offset=".996" stop-color="#7dd2dc"/></linearGradient><linearGradient id="g309"><stop offset=".004" stop-color="#d2d692"/><stop offset=".091" stop-color="#bfe5bc"/><stop offset=".266" stop-color="#8dd9d7"/><stop offset=".442" stop-color="#7fd3dc"/><stop offset=".507" stop-color="#8cd8d8"/><stop offset=".522" stop-color="#9fe0d0"/><stop offset=".529" stop-color="#8cd9d7"/><stop offset=".536" stop-color="#89d7d9"/><stop offset=".602" stop-color="#87d7d9"/><stop offset=".617" stop-color="#8bd8d8"/><stop offset=".631" stop-color="#a5e1cd"/><stop offset=".653" stop-color="#76cedc"/><stop offset=".668" stop-color="#8ad8d8"/><stop offset=".704" stop-color="#8cd8d8"/><stop offset=".996" stop-color="#7ad0dc"/></linearGradient><linearGradient id="g310"><stop offset=".004" stop-color="#d3d288"/><stop offset=".077" stop-color="#c6e3b2"/><stop offset=".266" stop-color="#8fdad6"/><stop offset=".442" stop-color="#7fd3dc"/><stop offset=".507" stop-color="#8cd9d7"/><stop offset=".522" stop-color="#a0e0d0"/><stop offset=".529" stop-color="#8cd9d7"/><stop offset=".536" stop-color="#8ad8d8"/><stop offset=".602" stop-color="#88d7d9"/><stop offset=".617" stop-color="#8cd8d8"/><stop offset=".631" stop-color="#a7e1cc"/><stop offset=".653" stop-color="#77cedc"/><stop offset=".668" stop-color="#8bd8d8"/><stop offset=".704" stop-color="#8dd9d7"/><stop offset=".996" stop-color="#7ad0dc"/></linearGradient><linearGradient id="g311"><stop offset=".004" stop-color="#d0c163"/><stop offset=".084" stop-color="#d4d690"/><stop offset=".128" stop-color="#c8e2b0"/><stop offset=".266" stop-color="#99ddd3"/><stop offset=".442" stop-color="#84d6da"/><stop offset=".507" stop-color="#94dbd5"/><stop offset=".522" stop-color="#a8e2cb"/><stop offset=".529" stop-color="#94dcd4"/><stop offset=".536" stop-color="#91dad6"/><stop offset=".609" stop-color="#90dad6"/><stop offset=".617" stop-color="#94dbd5"/><stop offset=".631" stop-color="#b1e4c6"/><stop offset=".653" stop-color="#7dd2dc"/><stop offset=".668" stop-color="#93dbd5"/><stop offset=".704" stop-color="#95dcd4"/><stop offset=".996" stop-color="#81d4dc"/></linearGradient><linearGradient id="g312"><stop offset=".004" stop-color="#d1c66e"/><stop offset=".084" stop-color="#d1d998"/><stop offset=".135" stop-color="#c4e3b5"/><stop offset=".266" stop-color="#95dcd4"/><stop offset=".442" stop-color="#80d4dc"/><stop offset=".507" stop-color="#8fd9d7"/><stop offset=".522" stop-color="#a3e1ce"/><stop offset=".529" stop-color="#8fdad6"/><stop offset=".536" stop-color="#8cd9d7"/><stop offset=".609" stop-color="#8cd8d8"/><stop offset=".617" stop-color="#90dad6"/><stop offset=".631" stop-color="#ace3c9"/><stop offset=".653" stop-color="#7ad0dc"/><stop offset=".668" stop-color="#8fdad6"/><stop offset=".704" stop-color="#91dad6"/><stop offset=".996" stop-color="#7dd2dc"/></linearGradient><linearGradient id="g313"><stop offset=".004" stop-color="#d2ca75"/><stop offset=".113" stop-color="#c9e0ab"/><stop offset=".172" stop-color="#b8e5c2"/><stop offset=".266" stop-color="#93dbd5"/><stop offset=".442" stop-color="#7dd2dc"/><stop offset=".507" stop-color="#8bd8d8"/><stop offset=".522" stop-color="#9fdfd0"/><stop offset=".529" stop-color="#8cd8d8"/><stop offset=".536" stop-color="#89d7d9"/><stop offset=".609" stop-color="#89d7d9"/><stop offset=".631" stop-color="#a8e2cb"/><stop offset=".653" stop-color="#78cedc"/><stop offset=".668" stop-color="#8cd8d8"/><stop offset=".704" stop-color="#8ed9d7"/><stop offset=".996" stop-color="#7bd1dc"/></linearGradient><linearGradient id="g314"><stop offset=".004" stop-color="#d1c872"/><stop offset=".113" stop-color="#ccdea5"/><stop offset=".157" stop-color="#bfe5bc"/><stop offset=".266" stop-color="#93dbd5"/><stop offset=".442" stop-color="#7bd1dc"/><stop offset=".507" stop-color="#89d7d9"/><stop offset=".522" stop-color="#9ddfd1"/><stop offset=".529" stop-color="#8ad8d8"/><stop offset=".536" stop-color="#88d7d9"/><stop offset=".609" stop-color="#88d7d9"/><stop offset=".617" stop-color="#8cd8d8"/><stop offset=".631" stop-color="#a8e2cb"/><stop offset=".653" stop-color="#77cedc"/><stop offset=".668" stop-color="#8bd8d8"/><stop offset=".704" stop-color="#8dd9d7"/><stop offset=".996" stop-color="#7bd0dc"/></linearGradient><linearGradient id="g315"><stop offset=".004" stop-color="#d2d083"/><stop offset=".120" stop-color="#c5e2b2"/><stop offset=".274" stop-color="#8cd9d7"/><stop offset=".442" stop-color="#77cedc"/><stop offset=".507" stop-color="#83d5db"/><stop offset=".522" stop-color="#96dcd4"/><stop offset=".529" stop-color="#85d6da"/><stop offset=".536" stop-color="#82d5db"/><stop offset=".609" stop-color="#83d5db"/><stop offset=".631" stop-color="#a2e0cf"/><stop offset=".653" stop-color="#74ccdc"/><stop offset=".668" stop-color="#86d6da"/><stop offset=".704" stop-color="#88d7d9"/><stop offset=".996" stop-color="#77cedc"/></linearGradient><linearGradient id="g316"><stop offset=".004" stop-color="#d0c36c"/><stop offset=".142" stop-color="#cadea5"/><stop offset=".172" stop-color="#c0e3b9"/><stop offset=".266" stop-color="#96dcd4"/><stop offset=".442" stop-color="#7ad0dc"/><stop offset=".507" stop-color="#88d7d9"/><stop offset=".522" stop-color="#9dded1"/><stop offset=".529" stop-color="#8ad8d8"/><stop offset=".536" stop-color="#87d7d9"/><stop offset=".609" stop-color="#89d7d9"/><stop offset=".617" stop-color="#8cd9d7"/><stop offset=".631" stop-color="#aae2cb"/><stop offset=".653" stop-color="#78cedc"/><stop offset=".668" stop-color="#8cd8d8"/><stop offset=".704" stop-color="#8dd9d7"/><stop offset=".821" stop-color="#8dd9d7"/><stop offset=".996" stop-color="#7bd0dc"/></linearGradient><linearGradient id="g317"><stop offset=".004" stop-color="#caaf4f"/><stop offset=".113" stop-color="#d0c368"/><stop offset=".164" stop-color="#d3d792"/><stop offset=".201" stop-color="#c5e3b4"/><stop offset=".274" stop-color="#a2e0cf"/><stop offset=".442" stop-color="#81d4dc"/><stop offset=".507" stop-color="#91dad6"/><stop offset=".522" stop-color="#a7e1cc"/><stop offset=".529" stop-color="#93dbd5"/><stop offset=".536" stop-color="#90dad6"/><stop offset=".609" stop-color="#92dbd5"/><stop offset=".617" stop-color="#96dcd4"/><stop offset=".631" stop-color="#b7e5c3"/><stop offset=".653" stop-color="#7ed3dc"/><stop offset=".668" stop-color="#95dcd4"/><stop offset=".704" stop-color="#97dcd4"/><stop offset=".821" stop-color="#96dcd4"/><stop offset=".996" stop-color="#81d4db"/></linearGradient><linearGradient id="g318"><stop offset=".004" stop-color="#cdb859"/><stop offset=".113" stop-color="#d2cb77"/><stop offset=".150" stop-color="#d3d793"/><stop offset=".186" stop-color="#c6e3b3"/><stop offset=".274" stop-color="#9ddfd1"/><stop offset=".442" stop-color="#7cd1dc"/><stop offset=".507" stop-color="#8ad8d8"/><stop offset=".522" stop-color="#a0e0d0"/><stop offset=".529" stop-color="#8cd9d7"/><stop offset=".536" stop-color="#8ad8d8"/><stop offset=".609" stop-color="#8cd9d7"/><stop offset=".617" stop-color="#90dad6"/><stop offset=".631" stop-color="#b0e3c7"/><stop offset=".653" stop-color="#7ad0dc"/><stop offset=".668" stop-color="#8ed9d7"/><stop offset=".704" stop-color="#90dad6"/><stop offset=".821" stop-color="#8fdad6"/><stop offset=".996" stop-color="#7cd1dc"/></linearGradient><linearGradient id="g319"><stop offset=".004" stop-color="#cebb5c"/><stop offset=".113" stop-color="#d2cc7a"/><stop offset=".150" stop-color="#d2d896"/><stop offset=".186" stop-color="#c5e3b4"/><stop offset=".274" stop-color="#9ddfd1"/><stop offset=".442" stop-color="#79d0dc"/><stop offset=".507" stop-color="#87d7d9"/><stop offset=".522" stop-color="#9cded2"/><stop offset=".529" stop-color="#8ad8d8"/><stop offset=".536" stop-color="#87d7d9"/><stop offset=".609" stop-color="#8ad8d8"/><stop offset=".617" stop-color="#8ed9d7"/><stop offset=".631" stop-color="#ade3c9"/><stop offset=".653" stop-color="#78cfdc"/><stop offset=".668" stop-color="#8bd8d8"/><stop offset=".704" stop-color="#8cd9d7"/><stop offset=".821" stop-color="#8cd9d7"/><stop offset=".996" stop-color="#7ad0dc"/></linearGradient><linearGradient id="g320"><stop offset=".004" stop-color="#cdba5b"/><stop offset=".113" stop-color="#d2ca77"/><stop offset=".157" stop-color="#d1d998"/><stop offset=".193" stop-color="#c4e3b5"/><stop offset=".281" stop-color="#9cded2"/><stop offset=".442" stop-color="#79cfdc"/><stop offset=".507" stop-color="#86d6da"/><stop offset=".522" stop-color="#9bded2"/><stop offset=".529" stop-color="#89d7d9"/><stop offset=".536" stop-color="#86d6da"/><stop offset=".609" stop-color="#89d7d9"/><stop offset=".617" stop-color="#8dd9d7"/><stop offset=".631" stop-color="#ade3c9"/><stop offset=".653" stop-color="#77cedc"/><stop offset=".668" stop-color="#8ad8d8"/><stop offset=".704" stop-color="#8bd8d8"/><stop offset=".821" stop-color="#8bd8d8"/><stop offset=".996" stop-color="#79cfdc"/></linearGradient><linearGradient id="g321"><stop offset=".004" stop-color="#c9ae4e"/><stop offset=".120" stop-color="#cfc062"/><stop offset=".186" stop-color="#d2d896"/><stop offset=".237" stop-color="#bbe5c0"/><stop offset=".325" stop-color="#94dbd5"/><stop offset=".442" stop-color="#7cd1dc"/><stop offset=".507" stop-color="#8bd8d8"/><stop offset=".522" stop-color="#a1e0d0"/><stop offset=".529" stop-color="#8dd9d7"/><stop offset=".536" stop-color="#8bd8d8"/><stop offset=".609" stop-color="#8fd9d7"/><stop offset=".617" stop-color="#93dbd5"/><stop offset=".631" stop-color="#b5e5c4"/><stop offset=".653" stop-color="#7bd1dc"/><stop offset=".668" stop-color="#8fdad6"/><stop offset=".704" stop-color="#90dad6"/><stop offset=".821" stop-color="#90dad6"/><stop offset=".996" stop-color="#7cd2dc"/></linearGradient><linearGradient id="g322"><stop offset=".004" stop-color="#c7a849"/><stop offset=".120" stop-color="#cdba5b"/><stop offset=".193" stop-color="#d2d58f"/><stop offset=".245" stop-color="#bce5bf"/><stop offset=".325" stop-color="#97ddd3"/><stop offset=".442" stop-color="#7dd2dc"/><stop offset=".507" stop-color="#8cd8d8"/><stop offset=".522" stop-color="#a2e0cf"/><stop offset=".529" stop-color="#8fdad6"/><stop offset=".536" stop-color="#8dd9d7"/><stop offset=".609" stop-color="#91dad6"/><stop offset=".617" stop-color="#95dcd4"/><stop offset=".631" stop-color="#b9e5c2"/><stop offset=".653" stop-color="#7cd2dc"/><stop offset=".668" stop-color="#91dad6"/><stop offset=".704" stop-color="#91dad6"/><stop offset=".821" stop-color="#91dad6"/><stop offset=".996" stop-color="#7dd2dc"/></linearGradient><linearGradient id="g323"><stop offset=".004" stop-color="#c5a546"/><stop offset=".120" stop-color="#ccb556"/><stop offset=".164" stop-color="#d1c56b"/><stop offset=".201" stop-color="#d3d48b"/><stop offset=".230" stop-color="#c7e2b0"/><stop offset=".252" stop-color="#bbe5c0"/><stop offset=".325" stop-color="#99ddd3"/><stop offset=".442" stop-color="#7dd2dc"/><stop offset=".507" stop-color="#8cd9d7"/><stop offset=".522" stop-color="#a3e1ce"/><stop offset=".529" stop-color="#90dad6"/><stop offset=".536" stop-color="#8dd9d7"/><stop offset=".609" stop-color="#92dbd5"/><stop offset=".617" stop-color="#96dcd4"/><stop offset=".631" stop-color="#bbe6c0"/><stop offset=".653" stop-color="#7dd2dc"/><stop offset=".668" stop-color="#91dbd5"/><stop offset=".697" stop-color="#92dbd5"/><stop offset=".821" stop-color="#91dbd5"/><stop offset=".996" stop-color="#7ed2dc"/></linearGradient><linearGradient id="g324"><stop offset=".004" stop-color="#c8ac4d"/><stop offset=".120" stop-color="#cebb5c"/><stop offset=".208" stop-color="#cfda9c"/><stop offset=".252" stop-color="#b8e5c2"/><stop offset=".325" stop-color="#97dcd4"/><stop offset=".442" stop-color="#7ad0dc"/><stop offset=".507" stop-color="#88d7d9"/><stop offset=".522" stop-color="#9ddfd1"/><stop offset=".529" stop-color="#8bd8d8"/><stop offset=".536" stop-color="#89d7d9"/><stop offset=".609" stop-color="#8dd9d7"/><stop offset=".617" stop-color="#92dbd5"/><stop offset=".631" stop-color="#b6e5c3"/><stop offset=".639" stop-color="#9bded2"/><stop offset=".653" stop-color="#7ad0dc"/><stop offset=".668" stop-color="#8dd9d7"/><stop offset=".704" stop-color="#8ed9d7"/><stop offset=".821" stop-color="#8ed9d7"/><stop offset=".996" stop-color="#7bd0dc"/></linearGradient><linearGradient id="g325"><stop offset=".004" stop-color="#c7a848"/><stop offset=".120" stop-color="#ccb556"/><stop offset=".164" stop-color="#d0c469"/><stop offset=".208" stop-color="#d3d48d"/><stop offset=".230" stop-color="#c9e1ad"/><stop offset=".252" stop-color="#bde5bf"/><stop offset=".325" stop-color="#9bded2"/><stop offset=".449" stop-color="#7cd2dc"/><stop offset=".507" stop-color="#8ad8d8"/><stop offset=".522" stop-color="#9fe0d0"/><stop offset=".529" stop-color="#8dd9d7"/><stop offset=".536" stop-color="#8bd8d8"/><stop offset=".609" stop-color="#8fdad6"/><stop offset=".617" stop-color="#94dbd5"/><stop offset=".631" stop-color="#b9e5c2"/><stop offset=".639" stop-color="#9edfd1"/><stop offset=".653" stop-color="#7cd2dc"/><stop offset=".668" stop-color="#90dad6"/><stop offset=".814" stop-color="#90dad6"/><stop offset=".996" stop-color="#7cd1dc"/></linearGradient><linearGradient id="g326"><stop offset=".004" stop-color="#c6a748"/><stop offset=".113" stop-color="#cab151"/><stop offset=".157" stop-color="#cfbf61"/><stop offset=".215" stop-color="#d3d68f"/><stop offset=".252" stop-color="#bfe5bc"/><stop offset=".325" stop-color="#9ddfd1"/><stop offset=".449" stop-color="#7dd2dc"/><stop offset=".507" stop-color="#89d8d8"/><stop offset=".522" stop-color="#9fe0d0"/><stop offset=".529" stop-color="#8dd9d7"/><stop offset=".536" stop-color="#8bd8d8"/><stop offset=".609" stop-color="#8fdad6"/><stop offset=".617" stop-color="#94dbd5"/><stop offset=".631" stop-color="#bae6c1"/><stop offset=".639" stop-color="#9edfd1"/><stop offset=".653" stop-color="#7dd2dc"/><stop offset=".668" stop-color="#90dad6"/><stop offset=".814" stop-color="#91dad6"/><stop offset=".996" stop-color="#7cd2dc"/></linearGradient><linearGradient id="g327"><stop offset=".004" stop-color="#c4a344"/><stop offset=".113" stop-color="#c8ac4d"/><stop offset=".157" stop-color="#cdba5b"/><stop offset=".208" stop-color="#d2cc7a"/><stop offset=".259" stop-color="#bee5bc"/><stop offset=".339" stop-color="#9bded2"/><stop offset=".449" stop-color="#7ed3dc"/><stop offset=".507" stop-color="#8bd8d8"/><stop offset=".522" stop-color="#a0e0d0"/><stop offset=".529" stop-color="#8ed9d7"/><stop offset=".536" stop-color="#8cd9d7"/><stop offset=".609" stop-color="#91dad6"/><stop offset=".617" stop-color="#96dcd4"/><stop offset=".631" stop-color="#bce5be"/><stop offset=".639" stop-color="#a0e0d0"/><stop offset=".653" stop-color="#7fd3dc"/><stop offset=".668" stop-color="#92dbd5"/><stop offset=".814" stop-color="#93dbd5"/><stop offset=".996" stop-color="#7ed2dc"/></linearGradient><linearGradient id="g328"><stop offset=".004" stop-color="#bd9237"/><stop offset=".113" stop-color="#c29d3e"/><stop offset=".208" stop-color="#cebd5e"/><stop offset=".245" stop-color="#d2d691"/><stop offset=".266" stop-color="#c4e3b6"/><stop offset=".361" stop-color="#9ddfd1"/><stop offset=".442" stop-color="#83d5db"/><stop offset=".507" stop-color="#92dbd5"/><stop offset=".522" stop-color="#a8e2cc"/><stop offset=".529" stop-color="#95dcd4"/><stop offset=".536" stop-color="#93dbd5"/><stop offset=".609" stop-color="#98ddd3"/><stop offset=".617" stop-color="#9edfd1"/><stop offset=".624" stop-color="#bbe5c0"/><stop offset=".631" stop-color="#c7e2b1"/><stop offset=".639" stop-color="#a9e2cb"/><stop offset=".653" stop-color="#85d6da"/><stop offset=".668" stop-color="#9aded2"/><stop offset=".814" stop-color="#9cded2"/><stop offset=".996" stop-color="#83d5db"/></linearGradient><linearGradient id="g329"><stop offset=".004" stop-color="#b6852f"/><stop offset=".113" stop-color="#bc9035"/><stop offset=".208" stop-color="#cbb252"/><stop offset=".230" stop-color="#d0c265"/><stop offset=".252" stop-color="#d3d389"/><stop offset=".266" stop-color="#cbdfa7"/><stop offset=".281" stop-color="#c5e3b4"/><stop offset=".383" stop-color="#9aded2"/><stop offset=".442" stop-color="#87d6da"/><stop offset=".507" stop-color="#96dcd4"/><stop offset=".522" stop-color="#ace3c9"/><stop offset=".529" stop-color="#9aded2"/><stop offset=".536" stop-color="#98ddd3"/><stop offset=".609" stop-color="#9ddfd1"/><stop offset=".617" stop-color="#a4e1ce"/><stop offset=".624" stop-color="#c3e4b6"/><stop offset=".631" stop-color="#d2d895"/><stop offset=".639" stop-color="#b0e4c7"/><stop offset=".653" stop-color="#89d7d9"/><stop offset=".668" stop-color="#a0e0d0"/><stop offset=".814" stop-color="#a1e0cf"/><stop offset=".996" stop-color="#87d7d9"/></linearGradient><linearGradient id="g330"><stop offset=".004" stop-color="#c0993b"/><stop offset=".113" stop-color="#c3a041"/><stop offset=".208" stop-color="#cebd5f"/><stop offset=".245" stop-color="#d3d793"/><stop offset=".266" stop-color="#c3e4b7"/><stop offset=".354" stop-color="#9fe0d0"/><stop offset=".442" stop-color="#81d4dc"/><stop offset=".507" stop-color="#8ed9d7"/><stop offset=".522" stop-color="#a3e1ce"/><stop offset=".529" stop-color="#91dad6"/><stop offset=".536" stop-color="#8fdad6"/><stop offset=".609" stop-color="#94dcd4"/><stop offset=".617" stop-color="#9cded2"/><stop offset=".624" stop-color="#bee5bd"/><stop offset=".631" stop-color="#ccdea5"/><stop offset=".639" stop-color="#a9e2cb"/><stop offset=".653" stop-color="#83d5db"/><stop offset=".668" stop-color="#97ddd3"/><stop offset=".814" stop-color="#99ddd3"/><stop offset=".996" stop-color="#81d4dc"/></linearGradient><linearGradient id="g331"><stop offset=".004" stop-color="#bf9639"/><stop offset=".113" stop-color="#c29d3e"/><stop offset=".208" stop-color="#cdb95a"/><stop offset=".223" stop-color="#d0c366"/><stop offset=".245" stop-color="#d3d38a"/><stop offset=".266" stop-color="#c6e3b2"/><stop offset=".383" stop-color="#95dcd4"/><stop offset=".442" stop-color="#81d5db"/><stop offset=".507" stop-color="#8fdad6"/><stop offset=".522" stop-color="#a4e1ce"/><stop offset=".529" stop-color="#92dbd5"/><stop offset=".536" stop-color="#90dad6"/><stop offset=".609" stop-color="#96dcd4"/><stop offset=".617" stop-color="#9edfd1"/><stop offset=".624" stop-color="#c3e4b7"/><stop offset=".631" stop-color="#d3d792"/><stop offset=".639" stop-color="#ade3c9"/><stop offset=".653" stop-color="#86d6da"/><stop offset=".668" stop-color="#9aded2"/><stop offset=".814" stop-color="#9cdfd1"/><stop offset=".996" stop-color="#84d5db"/></linearGradient><linearGradient id="g332"><stop offset=".004" stop-color="#ba8d33"/><stop offset=".113" stop-color="#be9437"/><stop offset=".208" stop-color="#cab050"/><stop offset=".237" stop-color="#d1c56a"/><stop offset=".259" stop-color="#d3d58f"/><stop offset=".281" stop-color="#c8e2b0"/><stop offset=".383" stop-color="#9aded2"/><stop offset=".442" stop-color="#84d6da"/><stop offset=".507" stop-color="#92dbd5"/><stop offset=".522" stop-color="#a8e2cc"/><stop offset=".529" stop-color="#96dcd4"/><stop offset=".536" stop-color="#94dcd4"/><stop offset=".609" stop-color="#9bded2"/><stop offset=".617" stop-color="#a4e1ce"/><stop offset=".624" stop-color="#ccdea5"/><stop offset=".631" stop-color="#d2cb77"/><stop offset=".639" stop-color="#b5e5c4"/><stop offset=".653" stop-color="#8cd8d8"/><stop offset=".668" stop-color="#a1e0d0"/><stop offset=".814" stop-color="#a4e1ce"/><stop offset=".996" stop-color="#8bd8d8"/></linearGradient><linearGradient id="g333"><stop offset=".004" stop-color="#b17b2a"/><stop offset=".113" stop-color="#b5822d"/><stop offset=".208" stop-color="#c5a344"/><stop offset=".237" stop-color="#ccb758"/><stop offset=".266" stop-color="#d3cf80"/><stop offset=".318" stop-color="#c2e4b8"/><stop offset=".391" stop-color="#9edfd1"/><stop offset=".442" stop-color="#89d8d8"/><stop offset=".507" stop-color="#98ddd3"/><stop offset=".522" stop-color="#aee3c8"/><stop offset=".529" stop-color="#9ddfd1"/><stop offset=".536" stop-color="#9bded2"/><stop offset=".609" stop-color="#a3e1ce"/><stop offset=".617" stop-color="#ade3c9"/><stop offset=".624" stop-color="#d2d083"/><stop offset=".631" stop-color="#cdba5b"/><stop offset=".639" stop-color="#c0e4ba"/><stop offset=".646" stop-color="#a3e1ce"/><stop offset=".653" stop-color="#94dcd4"/><stop offset=".668" stop-color="#aae2ca"/><stop offset=".704" stop-color="#aee3c8"/><stop offset=".821" stop-color="#aee3c8"/><stop offset=".996" stop-color="#96dcd4"/></linearGradient><linearGradient id="g334"><stop offset=".004" stop-color="#b07a28"/><stop offset=".113" stop-color="#b37f2b"/><stop offset=".208" stop-color="#c39f41"/><stop offset=".252" stop-color="#cfbe5f"/><stop offset=".288" stop-color="#d3d68f"/><stop offset=".325" stop-color="#c1e4b9"/><stop offset=".391" stop-color="#a0e0d0"/><stop offset=".442" stop-color="#8ad8d8"/><stop offset=".507" stop-color="#99ddd3"/><stop offset=".522" stop-color="#afe3c7"/><stop offset=".529" stop-color="#9edfd1"/><stop offset=".536" stop-color="#9cded2"/><stop offset=".609" stop-color="#a6e1cd"/><stop offset=".617" stop-color="#b0e4c7"/><stop offset=".624" stop-color="#d1c870"/><stop offset=".631" stop-color="#cab050"/><stop offset=".639" stop-color="#c5e3b4"/><stop offset=".646" stop-color="#a7e1cc"/><stop offset=".653" stop-color="#98ddd3"/><stop offset=".668" stop-color="#aee3c8"/><stop offset=".704" stop-color="#b3e4c5"/><stop offset=".821" stop-color="#b3e4c5"/><stop offset=".996" stop-color="#9bded2"/></linearGradient><linearGradient id="g335"><stop offset=".004" stop-color="#b17c2a"/><stop offset=".113" stop-color="#b3802c"/><stop offset=".208" stop-color="#c39f40"/><stop offset=".259" stop-color="#d0c264"/><stop offset=".296" stop-color="#d2d895"/><stop offset=".325" stop-color="#c2e4b8"/><stop offset=".391" stop-color="#9fe0d0"/><stop offset=".449" stop-color="#8ad8d8"/><stop offset=".507" stop-color="#98ddd3"/><stop offset=".522" stop-color="#aee3c8"/><stop offset=".529" stop-color="#9ddfd1"/><stop offset=".536" stop-color="#9bded2"/><stop offset=".609" stop-color="#a6e1cd"/><stop offset=".617" stop-color="#b3e4c5"/><stop offset=".624" stop-color="#cebd5e"/><stop offset=".631" stop-color="#c4a244"/><stop offset=".639" stop-color="#cae0a9"/><stop offset=".646" stop-color="#a8e2cb"/><stop offset=".653" stop-color="#9bded2"/><stop offset=".668" stop-color="#afe3c7"/><stop offset=".704" stop-color="#b5e5c4"/><stop offset=".821" stop-color="#b5e5c4"/><stop offset=".996" stop-color="#9fe0d0"/></linearGradient><linearGradient id="g336"><stop offset=".004" stop-color="#b4822d"/><stop offset=".113" stop-color="#b5842e"/><stop offset=".208" stop-color="#c3a041"/><stop offset=".259" stop-color="#d0c164"/><stop offset=".296" stop-color="#d2d894"/><stop offset=".325" stop-color="#c2e4b8"/><stop offset=".391" stop-color="#9edfd1"/><stop offset=".449" stop-color="#89d7d9"/><stop offset=".507" stop-color="#97dcd4"/><stop offset=".522" stop-color="#ace3c9"/><stop offset=".529" stop-color="#9bded2"/><stop offset=".536" stop-color="#9aded2"/><stop offset=".609" stop-color="#a5e1cd"/><stop offset=".617" stop-color="#b4e4c4"/><stop offset=".624" stop-color="#cbb353"/><stop offset=".631" stop-color="#bf9538"/><stop offset=".639" stop-color="#cfdb9c"/><stop offset=".646" stop-color="#a9e2cb"/><stop offset=".653" stop-color="#9cded2"/><stop offset=".668" stop-color="#b0e3c7"/><stop offset=".704" stop-color="#b6e5c3"/><stop offset=".821" stop-color="#b6e5c3"/><stop offset=".996" stop-color="#a1e0cf"/></linearGradient><linearGradient id="g337"><stop offset=".004" stop-color="#b6852f"/><stop offset=".113" stop-color="#b78730"/><stop offset=".208" stop-color="#c3a041"/><stop offset=".252" stop-color="#cebc5d"/><stop offset=".288" stop-color="#d2d389"/><stop offset=".325" stop-color="#c3e4b7"/><stop offset=".383" stop-color="#a1e0cf"/><stop offset=".442" stop-color="#87d7d9"/><stop offset=".507" stop-color="#95dcd4"/><stop offset=".522" stop-color="#aae2ca"/><stop offset=".529" stop-color="#9aded2"/><stop offset=".536" stop-color="#98ddd3"/><stop offset=".609" stop-color="#a5e1cd"/><stop offset=".617" stop-color="#b6e5c3"/><stop offset=".624" stop-color="#c7a949"/><stop offset=".631" stop-color="#b5832e"/><stop offset=".639" stop-color="#d1d58f"/><stop offset=".646" stop-color="#aae2ca"/><stop offset=".653" stop-color="#9ddfd1"/><stop offset=".668" stop-color="#b1e4c7"/><stop offset=".704" stop-color="#b8e5c2"/><stop offset=".821" stop-color="#b8e5c2"/><stop offset=".996" stop-color="#a3e1ce"/></linearGradient><linearGradient id="g338"><stop offset=".004" stop-color="#b27d2a"/><stop offset=".113" stop-color="#b27d2a"/><stop offset=".208" stop-color="#c0983b"/><stop offset=".274" stop-color="#d0c266"/><stop offset=".303" stop-color="#d3d48c"/><stop offset=".332" stop-color="#c4e3b5"/><stop offset=".383" stop-color="#a4e1ce"/><stop offset=".449" stop-color="#8ad8d8"/><stop offset=".507" stop-color="#98ddd3"/><stop offset=".522" stop-color="#ade3c8"/><stop offset=".529" stop-color="#9ddfd1"/><stop offset=".536" stop-color="#9cded2"/><stop offset=".609" stop-color="#aae2cb"/><stop offset=".617" stop-color="#bce5bf"/><stop offset=".624" stop-color="#c29e3f"/><stop offset=".631" stop-color="#ab6f23"/><stop offset=".639" stop-color="#d2cc7b"/><stop offset=".646" stop-color="#b0e3c7"/><stop offset=".653" stop-color="#a3e1ce"/><stop offset=".668" stop-color="#b7e5c3"/><stop offset=".704" stop-color="#bfe5bc"/><stop offset=".821" stop-color="#bfe5bc"/><stop offset=".996" stop-color="#aae2ca"/></linearGradient><linearGradient id="g339"><stop offset=".004" stop-color="#ba8d34"/><stop offset=".113" stop-color="#ba8d34"/><stop offset=".208" stop-color="#c3a042"/><stop offset=".266" stop-color="#d0c264"/><stop offset=".296" stop-color="#d4d48b"/><stop offset=".325" stop-color="#c4e3b5"/><stop offset=".383" stop-color="#9fe0d0"/><stop offset=".442" stop-color="#85d6da"/><stop offset=".507" stop-color="#92dbd5"/><stop offset=".522" stop-color="#c3e4b6"/><stop offset=".529" stop-color="#c6e3b2"/><stop offset=".544" stop-color="#9cdfd1"/><stop offset=".551" stop-color="#98ddd3"/><stop offset=".609" stop-color="#a5e1cd"/><stop offset=".617" stop-color="#b7e5c3"/><stop offset=".624" stop-color="#c8ab4b"/><stop offset=".631" stop-color="#b88831"/><stop offset=".639" stop-color="#d4d58d"/><stop offset=".646" stop-color="#aee3c8"/><stop offset=".653" stop-color="#a3e1ce"/><stop offset=".668" stop-color="#b6e5c3"/><stop offset=".704" stop-color="#bfe5bc"/><stop offset=".821" stop-color="#bee5bd"/><stop offset=".996" stop-color="#abe2ca"/></linearGradient><linearGradient id="g340"><stop offset=".004" stop-color="#bc9035"/><stop offset=".113" stop-color="#bc9035"/><stop offset=".208" stop-color="#c3a041"/><stop offset=".266" stop-color="#cfbe61"/><stop offset=".296" stop-color="#d3d185"/><stop offset=".332" stop-color="#c2e4b9"/><stop offset=".383" stop-color="#9edfd1"/><stop offset=".442" stop-color="#84d5db"/><stop offset=".507" stop-color="#90dad6"/><stop offset=".522" stop-color="#c1e4ba"/><stop offset=".529" stop-color="#c3e4b6"/><stop offset=".544" stop-color="#9aded2"/><stop offset=".551" stop-color="#97dcd4"/><stop offset=".609" stop-color="#a6e1cd"/><stop offset=".617" stop-color="#b7e5c3"/><stop offset=".624" stop-color="#cab050"/><stop offset=".631" stop-color="#bc9136"/><stop offset=".639" stop-color="#d1d691"/><stop offset=".646" stop-color="#b1e4c6"/><stop offset=".653" stop-color="#a7e2cc"/><stop offset=".668" stop-color="#bae5c0"/><stop offset=".704" stop-color="#c5e3b3"/><stop offset=".996" stop-color="#b1e4c6"/></linearGradient><linearGradient id="g341"><stop offset=".004" stop-color="#a5621d"/><stop offset=".113" stop-color="#a5621d"/><stop offset=".215" stop-color="#b17b2a"/><stop offset=".281" stop-color="#c7aa4b"/><stop offset=".325" stop-color="#d2cc7b"/><stop offset=".361" stop-color="#c1e4b9"/><stop offset=".383" stop-color="#aee3c8"/><stop offset=".442" stop-color="#90dad6"/><stop offset=".507" stop-color="#9edfd0"/><stop offset=".515" stop-color="#b5e4c4"/><stop offset=".522" stop-color="#cfd998"/><stop offset=".529" stop-color="#d0d58f"/><stop offset=".536" stop-color="#bfe4bb"/><stop offset=".544" stop-color="#aae2cb"/><stop offset=".580" stop-color="#abe2ca"/><stop offset=".609" stop-color="#b9e4c0"/><stop offset=".617" stop-color="#cadfa8"/><stop offset=".624" stop-color="#bf973b"/><stop offset=".631" stop-color="#a96a21"/><stop offset=".639" stop-color="#cebe62"/><stop offset=".646" stop-color="#c7e1ae"/><stop offset=".653" stop-color="#bee4bc"/><stop offset=".668" stop-color="#ced898"/><stop offset=".704" stop-color="#d1c976"/><stop offset=".821" stop-color="#d2cd7c"/><stop offset=".996" stop-color="#c9dfaa"/></linearGradient><linearGradient id="g342"><stop offset=".004" stop-color="#ac7024"/><stop offset=".120" stop-color="#ac7124"/><stop offset=".208" stop-color="#b3802b"/><stop offset=".237" stop-color="#bd9237"/><stop offset=".303" stop-color="#cebd5f"/><stop offset=".332" stop-color="#d3d58f"/><stop offset=".347" stop-color="#c9e1ad"/><stop offset=".369" stop-color="#b8e5c2"/><stop offset=".442" stop-color="#8cd8d8"/><stop offset=".507" stop-color="#9aded2"/><stop offset=".515" stop-color="#afe3c7"/><stop offset=".522" stop-color="#cadfa9"/><stop offset=".529" stop-color="#cedca0"/><stop offset=".536" stop-color="#bae5c1"/><stop offset=".544" stop-color="#a5e1cd"/><stop offset=".580" stop-color="#a7e2cc"/><stop offset=".609" stop-color="#b7e5c3"/><stop offset=".617" stop-color="#c6e3b3"/><stop offset=".624" stop-color="#c4a243"/><stop offset=".631" stop-color="#b37f2b"/><stop offset=".639" stop-color="#d0c468"/><stop offset=".646" stop-color="#c6e3b3"/><stop offset=".653" stop-color="#bfe5bc"/><stop offset=".668" stop-color="#d2d896"/><stop offset=".704" stop-color="#d1c872"/><stop offset=".821" stop-color="#d2cc7b"/><stop offset=".996" stop-color="#c9e1ad"/></linearGradient><linearGradient id="g343"><stop offset=".004" stop-color="#9e5116"/><stop offset=".113" stop-color="#9d5015"/><stop offset=".208" stop-color="#a6631e"/><stop offset=".266" stop-color="#bd9237"/><stop offset=".318" stop-color="#cebc5e"/><stop offset=".347" stop-color="#d3d792"/><stop offset=".361" stop-color="#c6e3b2"/><stop offset=".376" stop-color="#bae5c1"/><stop offset=".442" stop-color="#92dbd5"/><stop offset=".507" stop-color="#a0e0d0"/><stop offset=".515" stop-color="#b6e5c4"/><stop offset=".522" stop-color="#d2d895"/><stop offset=".529" stop-color="#d4d48b"/><stop offset=".536" stop-color="#c1e4b9"/><stop offset=".544" stop-color="#ace3c9"/><stop offset=".580" stop-color="#b0e3c7"/><stop offset=".609" stop-color="#c1e4b9"/><stop offset=".617" stop-color="#d2d897"/><stop offset=".624" stop-color="#bf9639"/><stop offset=".631" stop-color="#aa6c22"/><stop offset=".639" stop-color="#ccb757"/><stop offset=".646" stop-color="#d3d690"/><stop offset=".653" stop-color="#cddda3"/><stop offset=".661" stop-color="#d3cf80"/><stop offset=".668" stop-color="#d1c76f"/><stop offset=".704" stop-color="#cbb454"/><stop offset=".887" stop-color="#cfc062"/><stop offset=".996" stop-color="#d3cf81"/></linearGradient><linearGradient id="g344"><stop offset=".004" stop-color="#9a4b13"/><stop offset=".120" stop-color="#994a13"/><stop offset=".215" stop-color="#a4601c"/><stop offset=".310" stop-color="#cbb252"/><stop offset=".325" stop-color="#cfc061"/><stop offset=".347" stop-color="#d4d48b"/><stop offset=".361" stop-color="#c8e1af"/><stop offset=".376" stop-color="#bbe6c0"/><stop offset=".442" stop-color="#94dcd4"/><stop offset=".507" stop-color="#a0e0d0"/><stop offset=".515" stop-color="#b6e5c3"/><stop offset=".522" stop-color="#d3d794"/><stop offset=".529" stop-color="#d3d38a"/><stop offset=".536" stop-color="#c2e4b8"/><stop offset=".544" stop-color="#aee3c8"/><stop offset=".588" stop-color="#b6e5c3"/><stop offset=".609" stop-color="#c6e3b3"/><stop offset=".617" stop-color="#d4d48b"/><stop offset=".624" stop-color="#be9438"/><stop offset=".631" stop-color="#aa6c22"/><stop offset=".639" stop-color="#cbb252"/><stop offset=".646" stop-color="#d2ce7f"/><stop offset=".653" stop-color="#d3d48d"/><stop offset=".661" stop-color="#d1c66c"/><stop offset=".668" stop-color="#cfbe5f"/><stop offset=".704" stop-color="#c7a94a"/><stop offset=".821" stop-color="#c9ad4d"/><stop offset=".996" stop-color="#d1c56b"/></linearGradient><linearGradient id="g345"><stop offset=".004" stop-color="#964611"/><stop offset=".113" stop-color="#944310"/><stop offset=".215" stop-color="#a05718"/><stop offset=".310" stop-color="#c9af4f"/><stop offset=".332" stop-color="#d0c367"/><stop offset=".347" stop-color="#d3d186"/><stop offset=".361" stop-color="#cae0aa"/><stop offset=".376" stop-color="#bde6bf"/><stop offset=".442" stop-color="#96dcd4"/><stop offset=".507" stop-color="#9fe0d0"/><stop offset=".515" stop-color="#b6e5c3"/><stop offset=".522" stop-color="#d3d794"/><stop offset=".529" stop-color="#d3d389"/><stop offset=".536" stop-color="#c2e4b8"/><stop offset=".544" stop-color="#afe3c8"/><stop offset=".595" stop-color="#bfe5bc"/><stop offset=".609" stop-color="#cae0ab"/><stop offset=".617" stop-color="#d3cf81"/><stop offset=".624" stop-color="#bd9337"/><stop offset=".631" stop-color="#aa6d22"/><stop offset=".639" stop-color="#c9ae4e"/><stop offset=".646" stop-color="#d1c76f"/><stop offset=".653" stop-color="#d2cc7a"/><stop offset=".661" stop-color="#cebd5f"/><stop offset=".668" stop-color="#ccb556"/><stop offset=".704" stop-color="#c39f41"/><stop offset=".821" stop-color="#c5a344"/><stop offset=".996" stop-color="#cebb5d"/></linearGradient><linearGradient id="g346"><stop offset=".004" stop-color="#903e0e"/><stop offset=".120" stop-color="#8f3c0d"/><stop offset=".208" stop-color="#984912"/><stop offset=".230" stop-color="#a15919"/><stop offset=".318" stop-color="#cab050"/><stop offset=".339" stop-color="#d1c56b"/><stop offset=".354" stop-color="#d4d48c"/><stop offset=".369" stop-color="#c7e2b1"/><stop offset=".383" stop-color="#b8e5c2"/><stop offset=".442" stop-color="#99ddd3"/><stop offset=".507" stop-color="#a1e0cf"/><stop offset=".515" stop-color="#b9e5c2"/><stop offset=".522" stop-color="#d4d48b"/><stop offset=".529" stop-color="#d3cf80"/><stop offset=".536" stop-color="#c5e3b4"/><stop offset=".544" stop-color="#b2e4c6"/><stop offset=".588" stop-color="#bee5be"/><stop offset=".609" stop-color="#cfdb9d"/><stop offset=".617" stop-color="#d1c974"/><stop offset=".624" stop-color="#b98a32"/><stop offset=".631" stop-color="#a4601c"/><stop offset=".639" stop-color="#c7a849"/><stop offset=".646" stop-color="#cfc062"/><stop offset=".653" stop-color="#d1c56c"/><stop offset=".668" stop-color="#c9ae4e"/><stop offset=".704" stop-color="#bf973a"/><stop offset=".821" stop-color="#c19b3c"/><stop offset=".996" stop-color="#cbb454"/></linearGradient><linearGradient id="g347"><stop offset=".004" stop-color="#9f5517"/><stop offset=".113" stop-color="#9e5316"/><stop offset=".208" stop-color="#a7661f"/><stop offset=".266" stop-color="#be9438"/><stop offset=".318" stop-color="#cfbe60"/><stop offset=".347" stop-color="#d2d896"/><stop offset=".361" stop-color="#c5e3b5"/><stop offset=".383" stop-color="#afe3c7"/><stop offset=".442" stop-color="#91dad6"/><stop offset=".507" stop-color="#97ddd3"/><stop offset=".515" stop-color="#afe3c8"/><stop offset=".522" stop-color="#ccdea6"/><stop offset=".529" stop-color="#d0da9a"/><stop offset=".536" stop-color="#bde6bf"/><stop offset=".544" stop-color="#a9e2cb"/><stop offset=".602" stop-color="#c0e5bb"/><stop offset=".609" stop-color="#c5e3b4"/><stop offset=".617" stop-color="#d4d58d"/><stop offset=".624" stop-color="#c1993b"/><stop offset=".631" stop-color="#af7727"/><stop offset=".639" stop-color="#cbb454"/><stop offset=".646" stop-color="#d2cd7d"/><stop offset=".653" stop-color="#d3d389"/><stop offset=".661" stop-color="#d0c469"/><stop offset=".668" stop-color="#cebc5e"/><stop offset=".704" stop-color="#c6a748"/><stop offset=".821" stop-color="#c7a94a"/><stop offset=".996" stop-color="#d0c163"/></linearGradient><linearGradient id="g348"><stop offset=".004" stop-color="#a25c1a"/><stop offset=".113" stop-color="#a25a1a"/><stop offset=".208" stop-color="#aa6d22"/><stop offset=".259" stop-color="#be9437"/><stop offset=".310" stop-color="#cdba5b"/><stop offset=".339" stop-color="#d3d48b"/><stop offset=".354" stop-color="#c9e0ac"/><stop offset=".376" stop-color="#b6e5c3"/><stop offset=".442" stop-color="#90dad6"/><stop offset=".507" stop-color="#94dcd4"/><stop offset=".515" stop-color="#ade3c9"/><stop offset=".522" stop-color="#cadfa9"/><stop offset=".529" stop-color="#cfdb9d"/><stop offset=".536" stop-color="#bce5bf"/><stop offset=".544" stop-color="#a7e2cc"/><stop offset=".588" stop-color="#b4e4c5"/><stop offset=".609" stop-color="#c4e3b5"/><stop offset=".617" stop-color="#d2d691"/><stop offset=".624" stop-color="#c0983b"/><stop offset=".631" stop-color="#ae7426"/><stop offset=".639" stop-color="#ccb555"/><stop offset=".646" stop-color="#d3d083"/><stop offset=".653" stop-color="#d2d690"/><stop offset=".661" stop-color="#d1c870"/><stop offset=".668" stop-color="#cfbf61"/><stop offset=".704" stop-color="#c8ab4b"/><stop offset=".828" stop-color="#c9ad4d"/><stop offset=".996" stop-color="#d0c368"/></linearGradient><linearGradient id="g349"><stop offset=".004" stop-color="#9c4f15"/><stop offset=".120" stop-color="#9c4f15"/><stop offset=".215" stop-color="#a7661f"/><stop offset=".303" stop-color="#c9ae4e"/><stop offset=".325" stop-color="#d0c163"/><stop offset=".347" stop-color="#d4d58d"/><stop offset=".361" stop-color="#c8e2b0"/><stop offset=".376" stop-color="#bce6c0"/><stop offset=".442" stop-color="#94dbd5"/><stop offset=".507" stop-color="#96dcd4"/><stop offset=".515" stop-color="#b0e3c7"/><stop offset=".522" stop-color="#d0da9a"/><stop offset=".529" stop-color="#d4d58d"/><stop offset=".536" stop-color="#c0e5bb"/><stop offset=".544" stop-color="#abe2ca"/><stop offset=".602" stop-color="#c3e4b7"/><stop offset=".609" stop-color="#c8e1af"/><stop offset=".617" stop-color="#d3d083"/><stop offset=".624" stop-color="#b98b32"/><stop offset=".631" stop-color="#a35d1b"/><stop offset=".639" stop-color="#c9ad4e"/><stop offset=".646" stop-color="#d2cc79"/><stop offset=".653" stop-color="#d3d288"/><stop offset=".661" stop-color="#d0c367"/><stop offset=".668" stop-color="#cebb5c"/><stop offset=".704" stop-color="#c6a748"/><stop offset=".821" stop-color="#c6a748"/><stop offset=".996" stop-color="#cfbe60"/></linearGradient><linearGradient id="g350"><stop offset=".004" stop-color="#a45f1c"/><stop offset=".113" stop-color="#a45f1c"/><stop offset=".215" stop-color="#af7827"/><stop offset=".296" stop-color="#cab152"/><stop offset=".318" stop-color="#d0c367"/><stop offset=".339" stop-color="#d3d690"/><stop offset=".354" stop-color="#c8e2af"/><stop offset=".369" stop-color="#bde6bf"/><stop offset=".442" stop-color="#8ed9d7"/><stop offset=".507" stop-color="#8ed9d7"/><stop offset=".515" stop-color="#a9e2cb"/><stop offset=".522" stop-color="#c9e1ad"/><stop offset=".529" stop-color="#cddda2"/><stop offset=".536" stop-color="#b9e5c2"/><stop offset=".544" stop-color="#a3e1ce"/><stop offset=".551" stop-color="#a1e0cf"/><stop offset=".609" stop-color="#bfe5bc"/><stop offset=".617" stop-color="#cfdb9d"/><stop offset=".624" stop-color="#bf9639"/><stop offset=".631" stop-color="#aa6c22"/><stop offset=".639" stop-color="#cdb859"/><stop offset=".646" stop-color="#d1d998"/><stop offset=".653" stop-color="#cae0aa"/><stop offset=".661" stop-color="#d3d286"/><stop offset=".668" stop-color="#d2ca75"/><stop offset=".704" stop-color="#ccb757"/><stop offset=".909" stop-color="#cfbe60"/><stop offset=".996" stop-color="#d2cc79"/></linearGradient><linearGradient id="g351"><stop offset=".004" stop-color="#a86820"/><stop offset=".113" stop-color="#a86820"/><stop offset=".215" stop-color="#b37f2b"/><stop offset=".296" stop-color="#ccb758"/><stop offset=".332" stop-color="#d2d58e"/><stop offset=".354" stop-color="#c4e3b5"/><stop offset=".369" stop-color="#b9e5c1"/><stop offset=".442" stop-color="#8ad8d8"/><stop offset=".507" stop-color="#88d7d9"/><stop offset=".522" stop-color="#c3e4b7"/><stop offset=".529" stop-color="#c6e2b2"/><stop offset=".544" stop-color="#9cdfd1"/><stop offset=".551" stop-color="#9aded2"/><stop offset=".609" stop-color="#b7e5c3"/><stop offset=".617" stop-color="#c6e1b0"/><stop offset=".624" stop-color="#c4a243"/><stop offset=".631" stop-color="#b37f2b"/><stop offset=".639" stop-color="#d0c36a"/><stop offset=".646" stop-color="#c7e1af"/><stop offset=".653" stop-color="#bfe4bb"/><stop offset=".668" stop-color="#d0d692"/><stop offset=".704" stop-color="#d0c56e"/><stop offset=".821" stop-color="#d0c269"/><stop offset=".938" stop-color="#d2cd7c"/><stop offset=".996" stop-color="#d0d794"/></linearGradient><linearGradient id="g352"><stop offset=".004" stop-color="#b6862f"/><stop offset=".113" stop-color="#b6862f"/><stop offset=".215" stop-color="#bf963a"/><stop offset=".281" stop-color="#cebd5e"/><stop offset=".318" stop-color="#d2d794"/><stop offset=".332" stop-color="#c8e1ae"/><stop offset=".354" stop-color="#bae5c1"/><stop offset=".442" stop-color="#82d5db"/><stop offset=".507" stop-color="#7ed2dc"/><stop offset=".522" stop-color="#b5e4c4"/><stop offset=".529" stop-color="#b7e5c3"/><stop offset=".544" stop-color="#8fdad6"/><stop offset=".551" stop-color="#8dd9d7"/><stop offset=".609" stop-color="#a7e1cc"/><stop offset=".617" stop-color="#b6e5c3"/><stop offset=".624" stop-color="#cdb859"/><stop offset=".631" stop-color="#c29e3f"/><stop offset=".639" stop-color="#d1d896"/><stop offset=".646" stop-color="#b4e4c4"/><stop offset=".653" stop-color="#abe2ca"/><stop offset=".668" stop-color="#c0e5ba"/><stop offset=".704" stop-color="#cddda3"/><stop offset=".814" stop-color="#d0d998"/><stop offset=".996" stop-color="#c1e4ba"/></linearGradient><linearGradient id="g353"><stop offset=".004" stop-color="#c19a3c"/><stop offset=".208" stop-color="#c4a344"/><stop offset=".259" stop-color="#cfbf61"/><stop offset=".296" stop-color="#d3d58f"/><stop offset=".318" stop-color="#c7e2b1"/><stop offset=".339" stop-color="#bae6c1"/><stop offset=".434" stop-color="#80d4dc"/><stop offset=".507" stop-color="#78cedc"/><stop offset=".522" stop-color="#aae2ca"/><stop offset=".529" stop-color="#a7e2cc"/><stop offset=".544" stop-color="#86d6da"/><stop offset=".551" stop-color="#84d6da"/><stop offset=".609" stop-color="#9aded2"/><stop offset=".617" stop-color="#a8e2cc"/><stop offset=".624" stop-color="#d3d083"/><stop offset=".631" stop-color="#cdb859"/><stop offset=".639" stop-color="#c1e4ba"/><stop offset=".646" stop-color="#a5e1cd"/><stop offset=".653" stop-color="#9aded2"/><stop offset=".668" stop-color="#b1e4c6"/><stop offset=".704" stop-color="#bee5bd"/><stop offset=".821" stop-color="#c4e3b6"/><stop offset=".996" stop-color="#b4e4c4"/></linearGradient><linearGradient id="g354"><stop offset=".004" stop-color="#c7a94a"/><stop offset=".208" stop-color="#cab152"/><stop offset=".252" stop-color="#d1ca77"/><stop offset=".310" stop-color="#c1e3b8"/><stop offset=".420" stop-color="#83d5db"/><stop offset=".500" stop-color="#70cadc"/><stop offset=".507" stop-color="#73cbdc"/><stop offset=".522" stop-color="#a0dfd0"/><stop offset=".544" stop-color="#7ed2db"/><stop offset=".609" stop-color="#8fdad6"/><stop offset=".617" stop-color="#9aded2"/><stop offset=".624" stop-color="#c4e1b1"/><stop offset=".631" stop-color="#cdd48e"/><stop offset=".639" stop-color="#afe3c7"/><stop offset=".653" stop-color="#8ad8d8"/><stop offset=".668" stop-color="#a3e0ce"/><stop offset=".755" stop-color="#b4e4c5"/><stop offset=".821" stop-color="#b9e4c0"/><stop offset=".996" stop-color="#aae2ca"/></linearGradient><linearGradient id="g355"><stop offset=".004" stop-color="#ccdda4"/><stop offset=".113" stop-color="#cddca1"/><stop offset=".208" stop-color="#c7e0ad"/><stop offset=".259" stop-color="#b5e5c4"/><stop offset=".376" stop-color="#84d5db"/><stop offset=".442" stop-color="#6bc6dc"/><stop offset=".500" stop-color="#65c2dc"/><stop offset=".507" stop-color="#66c3dc"/><stop offset=".522" stop-color="#86d6da"/><stop offset=".544" stop-color="#6dc8dc"/><stop offset=".609" stop-color="#7ad0dc"/><stop offset=".617" stop-color="#81d4db"/><stop offset=".624" stop-color="#9fe0d0"/><stop offset=".631" stop-color="#ade3c8"/><stop offset=".639" stop-color="#91dad6"/><stop offset=".653" stop-color="#75ccdc"/><stop offset=".661" stop-color="#84d5db"/><stop offset=".675" stop-color="#8dd9d7"/><stop offset=".799" stop-color="#9edfd1"/><stop offset=".996" stop-color="#95dcd4"/></linearGradient><linearGradient id="g356"><stop offset=".004" stop-color="#b1e4c6"/><stop offset=".208" stop-color="#b0e3c7"/><stop offset=".369" stop-color="#81d4dc"/><stop offset=".442" stop-color="#68c4dc"/><stop offset=".500" stop-color="#61bfdc"/><stop offset=".507" stop-color="#63c0dc"/><stop offset=".522" stop-color="#82d5db"/><stop offset=".544" stop-color="#68c4dc"/><stop offset=".609" stop-color="#75cddc"/><stop offset=".617" stop-color="#7bd1dc"/><stop offset=".631" stop-color="#a5e1cd"/><stop offset=".639" stop-color="#8ad8d8"/><stop offset=".653" stop-color="#6ec8dc"/><stop offset=".668" stop-color="#85d6da"/><stop offset=".704" stop-color="#8fdad6"/><stop offset=".821" stop-color="#9cded2"/><stop offset=".996" stop-color="#95dcd4"/></linearGradient><linearGradient id="g357"><stop offset=".004" stop-color="#a5e1cd"/><stop offset=".266" stop-color="#9edfd1"/><stop offset=".442" stop-color="#69c5dc"/><stop offset=".500" stop-color="#62c0dc"/><stop offset=".507" stop-color="#63c1dc"/><stop offset=".522" stop-color="#80d3db"/><stop offset=".529" stop-color="#6fc8dc"/><stop offset=".544" stop-color="#67c3dc"/><stop offset=".609" stop-color="#73cbdc"/><stop offset=".617" stop-color="#79cfdc"/><stop offset=".631" stop-color="#9cded1"/><stop offset=".653" stop-color="#6ac5dc"/><stop offset=".668" stop-color="#83d5db"/><stop offset=".704" stop-color="#8cd9d7"/><stop offset=".821" stop-color="#9aded2"/><stop offset=".996" stop-color="#96dcd4"/></linearGradient><linearGradient id="g358"><stop offset=".004" stop-color="#98ddd3"/><stop offset=".266" stop-color="#95dcd4"/><stop offset=".500" stop-color="#61bfdc"/><stop offset=".507" stop-color="#62c0dc"/><stop offset=".522" stop-color="#7bd1dc"/><stop offset=".529" stop-color="#69c5dc"/><stop offset=".536" stop-color="#66c2dc"/><stop offset=".609" stop-color="#6fc9dc"/><stop offset=".631" stop-color="#90dad6"/><stop offset=".653" stop-color="#65c2dc"/><stop offset=".668" stop-color="#7dd2dc"/><stop offset=".704" stop-color="#86d6da"/><stop offset=".821" stop-color="#93dbd5"/><stop offset=".996" stop-color="#92dbd5"/></linearGradient><linearGradient id="cb359" x1="0" y1="0" x2="0" y2="1"><stop offset="0.000" stop-color="#7a1a02"/><stop offset="0.047" stop-color="#842a06"/><stop offset="0.111" stop-color="#8e3a0c"/><stop offset="0.178" stop-color="#9e5216"/><stop offset="0.244" stop-color="#b07a28"/><stop offset="0.311" stop-color="#c0983a"/><stop offset="0.378" stop-color="#cab050"/><stop offset="0.422" stop-color="#d0c264"/><stop offset="0.467" stop-color="#d4d690"/><stop offset="0.493" stop-color="#c8e2b0"/><stop offset="0.522" stop-color="#bce6c0"/><stop offset="0.573" stop-color="#a0e0d0"/><stop offset="0.622" stop-color="#80d4dc"/><stop offset="0.667" stop-color="#62c0dc"/><stop offset="0.722" stop-color="#4aaad4"/><stop offset="0.771" stop-color="#3892c8"/><stop offset="0.822" stop-color="#2c7cbc"/><stop offset="0.867" stop-color="#2268b0"/><stop offset="0.922" stop-color="#1854a4"/><stop offset="0.971" stop-color="#104498"/><stop offset="1.000" stop-color="#0a3888"/></linearGradient><filter id="fb" x="-10%" y="-10%" width="120%" height="120%"><feGaussianBlur stdDeviation="1.4"/></filter><clipPath id="cpa"><rect x="41" y="10" width="136" height="118.5"/></clipPath><clipPath id="cpd"><rect x="41" y="171" width="136" height="118"/></clipPath></defs><rect width="685" height="324" fill="#fff"/><rect x="41" y="10" width="136" height="1" fill="url(#g1)"/><rect x="41" y="11" width="136" height="1" fill="url(#g2)"/><rect x="41" y="12" width="136" height="1" fill="url(#g3)"/><rect x="41" y="13" width="136" height="1" fill="url(#g4)"/><rect x="41" y="14" width="136" height="1" fill="url(#g5)"/><rect x="41" y="15" width="136" height="1" fill="url(#g6)"/><rect x="41" y="16" width="136" height="1" fill="url(#g7)"/><rect x="41" y="17" width="136" height="1" fill="url(#g8)"/><rect x="41" y="18" width="136" height="1" fill="url(#g9)"/><rect x="41" y="19" width="136" height="1" fill="url(#g10)"/><rect x="41" y="20" width="136" height="1" fill="url(#g11)"/><rect x="41" y="21" width="136" height="1" fill="url(#g12)"/><rect x="41" y="22" width="136" height="1" fill="url(#g13)"/><rect x="41" y="23" width="136" height="1" fill="url(#g14)"/><rect x="41" y="24" width="136" height="1" fill="url(#g15)"/><rect x="41" y="25" width="136" height="1" fill="url(#g16)"/><rect x="41" y="26" width="136" height="1" fill="url(#g17)"/><rect x="41" y="27" width="136" height="1" fill="url(#g18)"/><rect x="41" y="28" width="136" height="1" fill="url(#g19)"/><rect x="41" y="29" width="136" height="1" fill="url(#g20)"/><rect x="41" y="30" width="136" height="1" fill="url(#g21)"/><rect x="41" y="31" width="136" height="1" fill="url(#g22)"/><rect x="41" y="32" width="136" height="1" fill="url(#g23)"/><rect x="41" y="33" width="136" height="1" fill="url(#g24)"/><rect x="41" y="34" width="136" height="1" fill="url(#g25)"/><rect x="41" y="35" width="136" height="1" fill="url(#g26)"/><rect x="41" y="36" width="136" height="1" fill="url(#g27)"/><rect x="41" y="37" width="136" height="1" fill="url(#g28)"/><rect x="41" y="38" width="136" height="1" fill="url(#g29)"/><rect x="41" y="39" width="136" height="1" fill="url(#g30)"/><rect x="41" y="40" width="136" height="1" fill="url(#g31)"/><rect x="41" y="41" width="136" height="1" fill="url(#g32)"/><rect x="41" y="42" width="136" height="1" fill="url(#g33)"/><rect x="41" y="43" width="136" height="1" fill="url(#g34)"/><rect x="41" y="44" width="136" height="1" fill="url(#g35)"/><rect x="41" y="45" width="136" height="1" fill="url(#g36)"/><rect x="41" y="46" width="136" height="1" fill="url(#g37)"/><rect x="41" y="47" width="136" height="1" fill="url(#g38)"/><rect x="41" y="48" width="136" height="1" fill="url(#g39)"/><rect x="41" y="49" width="136" height="1" fill="url(#g40)"/><rect x="41" y="50" width="136" height="1" fill="url(#g41)"/><rect x="41" y="51" width="136" height="1" fill="url(#g42)"/><rect x="41" y="52" width="136" height="1" fill="url(#g43)"/><rect x="41" y="53" width="136" height="1" fill="url(#g44)"/><rect x="41" y="54" width="136" height="1" fill="url(#g45)"/><rect x="41" y="55" width="136" height="1" fill="url(#g46)"/><rect x="41" y="56" width="136" height="1" fill="url(#g47)"/><rect x="41" y="57" width="136" height="1" fill="url(#g48)"/><rect x="41" y="58" width="136" height="1" fill="url(#g49)"/><rect x="41" y="59" width="136" height="1" fill="url(#g50)"/><rect x="41" y="60" width="136" height="1" fill="url(#g51)"/><rect x="41" y="61" width="136" height="1" fill="url(#g52)"/><rect x="41" y="62" width="136" height="1" fill="url(#g53)"/><rect x="41" y="63" width="136" height="1" fill="url(#g54)"/><rect x="41" y="64" width="136" height="1" fill="url(#g55)"/><rect x="41" y="65" width="136" height="1" fill="url(#g56)"/><rect x="41" y="66" width="136" height="1" fill="url(#g57)"/><rect x="41" y="67" width="136" height="1" fill="url(#g58)"/><rect x="41" y="68" width="136" height="1" fill="url(#g59)"/><rect x="41" y="69" width="136" height="1" fill="url(#g60)"/><rect x="41" y="70" width="136" height="1" fill="url(#g61)"/><rect x="41" y="71" width="136" height="1" fill="url(#g62)"/><rect x="41" y="72" width="136" height="1" fill="url(#g63)"/><rect x="41" y="73" width="136" height="1" fill="url(#g64)"/><rect x="41" y="74" width="136" height="1" fill="url(#g65)"/><rect x="41" y="75" width="136" height="1" fill="url(#g66)"/><rect x="41" y="76" width="136" height="1" fill="url(#g67)"/><rect x="41" y="77" width="136" height="1" fill="url(#g68)"/><rect x="41" y="78" width="136" height="1" fill="url(#g69)"/><rect x="41" y="79" width="136" height="1" fill="url(#g70)"/><rect x="41" y="80" width="136" height="1" fill="url(#g71)"/><rect x="41" y="81" width="136" height="1" fill="url(#g72)"/><rect x="41" y="82" width="136" height="1" fill="url(#g73)"/><rect x="41" y="83" width="136" height="1" fill="url(#g74)"/><rect x="41" y="84" width="136" height="1" fill="url(#g75)"/><rect x="41" y="85" width="136" height="1" fill="url(#g76)"/><rect x="41" y="86" width="136" height="1" fill="url(#g77)"/><rect x="41" y="87" width="136" height="1" fill="url(#g78)"/><rect x="41" y="88" width="136" height="1" fill="url(#g79)"/><rect x="41" y="89" width="136" height="1" fill="url(#g80)"/><rect x="41" y="90" width="136" height="1" fill="url(#g81)"/><rect x="41" y="91" width="136" height="1" fill="url(#g82)"/><rect x="41" y="92" width="136" height="1" fill="url(#g83)"/><rect x="41" y="93" width="136" height="1" fill="url(#g84)"/><rect x="41" y="94" width="136" height="1" fill="url(#g85)"/><rect x="41" y="95" width="136" height="1" fill="url(#g86)"/><rect x="41" y="96" width="136" height="1" fill="url(#g87)"/><rect x="41" y="97" width="136" height="1" fill="url(#g88)"/><rect x="41" y="98" width="136" height="1" fill="url(#g89)"/><rect x="41" y="99" width="136" height="1" fill="url(#g90)"/><rect x="41" y="100" width="136" height="1" fill="url(#g91)"/><rect x="41" y="101" width="136" height="1" fill="url(#g92)"/><rect x="41" y="102" width="136" height="1" fill="url(#g93)"/><rect x="41" y="103" width="136" height="1" fill="url(#g94)"/><rect x="41" y="104" width="136" height="1" fill="url(#g95)"/><rect x="41" y="105" width="136" height="1" fill="url(#g96)"/><rect x="41" y="106" width="136" height="1" fill="url(#g97)"/><rect x="41" y="107" width="136" height="1" fill="url(#g98)"/><rect x="41" y="108" width="136" height="1" fill="url(#g99)"/><rect x="41" y="109" width="136" height="1" fill="url(#g100)"/><rect x="41" y="110" width="136" height="1" fill="url(#g101)"/><rect x="41" y="111" width="136" height="1" fill="url(#g102)"/><rect x="41" y="112" width="136" height="1" fill="url(#g103)"/><rect x="41" y="113" width="136" height="1" fill="url(#g104)"/><rect x="41" y="114" width="136" height="1" fill="url(#g105)"/><rect x="41" y="115" width="136" height="1" fill="url(#g106)"/><rect x="41" y="116" width="136" height="1" fill="url(#g107)"/><rect x="41" y="117" width="136" height="1" fill="url(#g108)"/><rect x="41" y="118" width="136" height="1" fill="url(#g109)"/><rect x="41" y="119" width="136" height="1" fill="url(#g110)"/><rect x="41" y="120" width="136" height="1" fill="url(#g111)"/><rect x="41" y="121" width="136" height="1" fill="url(#g112)"/><rect x="41" y="122" width="136" height="1" fill="url(#g113)"/><rect x="41" y="123" width="136" height="1" fill="url(#g114)"/><rect x="41" y="124" width="136" height="1" fill="url(#g115)"/><rect x="41" y="125" width="136" height="1" fill="url(#g116)"/><rect x="41" y="126" width="136" height="1" fill="url(#g117)"/><rect x="41" y="127" width="136" height="1" fill="url(#g118)"/><rect x="40.50" y="9.50" width="136.70" height="119.20" fill="none" stroke="#1c1c1c" stroke-width="1.15"/><line x1="35.00" y1="128.70" x2="40.50" y2="128.70" stroke="#1c1c1c" stroke-width="1.00"/><line x1="37.50" y1="121.35" x2="40.50" y2="121.35" stroke="#1c1c1c" stroke-width="1.00"/><line x1="37.50" y1="117.06" x2="40.50" y2="117.06" stroke="#1c1c1c" stroke-width="1.00"/><line x1="37.50" y1="114.01" x2="40.50" y2="114.01" stroke="#1c1c1c" stroke-width="1.00"/><line x1="37.50" y1="111.65" x2="40.50" y2="111.65" stroke="#1c1c1c" stroke-width="1.00"/><line x1="37.50" y1="109.71" x2="40.50" y2="109.71" stroke="#1c1c1c" stroke-width="1.00"/><line x1="37.50" y1="108.08" x2="40.50" y2="108.08" stroke="#1c1c1c" stroke-width="1.00"/><line x1="37.50" y1="106.66" x2="40.50" y2="106.66" stroke="#1c1c1c" stroke-width="1.00"/><line x1="37.50" y1="105.42" x2="40.50" y2="105.42" stroke="#1c1c1c" stroke-width="1.00"/><use href="#one" transform="translate(11.61,133.70) scale(0.00605,-0.00605)" fill="#1a1a1a"/><text x="18.50" y="133.70" font-size="12.40" text-anchor="start" font-weight="normal" fill="#1a1a1a" >0</text><text x="25.40" y="128.70" font-size="9.00" text-anchor="start" font-weight="normal" fill="#1a1a1a" >-</text><use href="#one" transform="translate(28.40,128.70) scale(0.00439,-0.00439)" fill="#1a1a1a"/><line x1="35.00" y1="104.30" x2="40.50" y2="104.30" stroke="#1c1c1c" stroke-width="1.00"/><line x1="37.50" y1="96.95" x2="40.50" y2="96.95" stroke="#1c1c1c" stroke-width="1.00"/><line x1="37.50" y1="92.66" x2="40.50" y2="92.66" stroke="#1c1c1c" stroke-width="1.00"/><line x1="37.50" y1="89.61" x2="40.50" y2="89.61" stroke="#1c1c1c" stroke-width="1.00"/><line x1="37.50" y1="87.25" x2="40.50" y2="87.25" stroke="#1c1c1c" stroke-width="1.00"/><line x1="37.50" y1="85.31" x2="40.50" y2="85.31" stroke="#1c1c1c" stroke-width="1.00"/><line x1="37.50" y1="83.68" x2="40.50" y2="83.68" stroke="#1c1c1c" stroke-width="1.00"/><line x1="37.50" y1="82.26" x2="40.50" y2="82.26" stroke="#1c1c1c" stroke-width="1.00"/><line x1="37.50" y1="81.02" x2="40.50" y2="81.02" stroke="#1c1c1c" stroke-width="1.00"/><use href="#one" transform="translate(14.61,109.30) scale(0.00605,-0.00605)" fill="#1a1a1a"/><text x="21.50" y="109.30" font-size="12.40" text-anchor="start" font-weight="normal" fill="#1a1a1a" >0</text><text x="28.40" y="104.30" font-size="9.00" text-anchor="start" font-weight="normal" fill="#1a1a1a" >0</text><line x1="35.00" y1="79.90" x2="40.50" y2="79.90" stroke="#1c1c1c" stroke-width="1.00"/><line x1="37.50" y1="72.55" x2="40.50" y2="72.55" stroke="#1c1c1c" stroke-width="1.00"/><line x1="37.50" y1="68.26" x2="40.50" y2="68.26" stroke="#1c1c1c" stroke-width="1.00"/><line x1="37.50" y1="65.21" x2="40.50" y2="65.21" stroke="#1c1c1c" stroke-width="1.00"/><line x1="37.50" y1="62.85" x2="40.50" y2="62.85" stroke="#1c1c1c" stroke-width="1.00"/><line x1="37.50" y1="60.91" x2="40.50" y2="60.91" stroke="#1c1c1c" stroke-width="1.00"/><line x1="37.50" y1="59.28" x2="40.50" y2="59.28" stroke="#1c1c1c" stroke-width="1.00"/><line x1="37.50" y1="57.86" x2="40.50" y2="57.86" stroke="#1c1c1c" stroke-width="1.00"/><line x1="37.50" y1="56.62" x2="40.50" y2="56.62" stroke="#1c1c1c" stroke-width="1.00"/><use href="#one" transform="translate(14.61,84.90) scale(0.00605,-0.00605)" fill="#1a1a1a"/><text x="21.50" y="84.90" font-size="12.40" text-anchor="start" font-weight="normal" fill="#1a1a1a" >0</text><use href="#one" transform="translate(28.40,79.90) scale(0.00439,-0.00439)" fill="#1a1a1a"/><line x1="35.00" y1="55.50" x2="40.50" y2="55.50" stroke="#1c1c1c" stroke-width="1.00"/><line x1="37.50" y1="48.15" x2="40.50" y2="48.15" stroke="#1c1c1c" stroke-width="1.00"/><line x1="37.50" y1="43.86" x2="40.50" y2="43.86" stroke="#1c1c1c" stroke-width="1.00"/><line x1="37.50" y1="40.81" x2="40.50" y2="40.81" stroke="#1c1c1c" stroke-width="1.00"/><line x1="37.50" y1="38.45" x2="40.50" y2="38.45" stroke="#1c1c1c" stroke-width="1.00"/><line x1="37.50" y1="36.51" x2="40.50" y2="36.51" stroke="#1c1c1c" stroke-width="1.00"/><line x1="37.50" y1="34.88" x2="40.50" y2="34.88" stroke="#1c1c1c" stroke-width="1.00"/><line x1="37.50" y1="33.46" x2="40.50" y2="33.46" stroke="#1c1c1c" stroke-width="1.00"/><line x1="37.50" y1="32.22" x2="40.50" y2="32.22" stroke="#1c1c1c" stroke-width="1.00"/><use href="#one" transform="translate(14.61,60.50) scale(0.00605,-0.00605)" fill="#1a1a1a"/><text x="21.50" y="60.50" font-size="12.40" text-anchor="start" font-weight="normal" fill="#1a1a1a" >0</text><text x="28.40" y="55.50" font-size="9.00" text-anchor="start" font-weight="normal" fill="#1a1a1a" >2</text><line x1="35.00" y1="31.10" x2="40.50" y2="31.10" stroke="#1c1c1c" stroke-width="1.00"/><line x1="37.50" y1="23.75" x2="40.50" y2="23.75" stroke="#1c1c1c" stroke-width="1.00"/><line x1="37.50" y1="19.46" x2="40.50" y2="19.46" stroke="#1c1c1c" stroke-width="1.00"/><line x1="37.50" y1="16.41" x2="40.50" y2="16.41" stroke="#1c1c1c" stroke-width="1.00"/><line x1="37.50" y1="14.05" x2="40.50" y2="14.05" stroke="#1c1c1c" stroke-width="1.00"/><line x1="37.50" y1="12.11" x2="40.50" y2="12.11" stroke="#1c1c1c" stroke-width="1.00"/><line x1="37.50" y1="10.48" x2="40.50" y2="10.48" stroke="#1c1c1c" stroke-width="1.00"/><use href="#one" transform="translate(14.61,36.10) scale(0.00605,-0.00605)" fill="#1a1a1a"/><text x="21.50" y="36.10" font-size="12.40" text-anchor="start" font-weight="normal" fill="#1a1a1a" >0</text><text x="28.40" y="31.10" font-size="9.00" text-anchor="start" font-weight="normal" fill="#1a1a1a" >3</text><line x1="47.20" y1="128.70" x2="47.20" y2="134.70" stroke="#1c1c1c" stroke-width="1.00"/><line x1="79.60" y1="128.70" x2="79.60" y2="134.70" stroke="#1c1c1c" stroke-width="1.00"/><line x1="112.20" y1="128.70" x2="112.20" y2="134.70" stroke="#1c1c1c" stroke-width="1.00"/><line x1="144.70" y1="128.70" x2="144.70" y2="134.70" stroke="#1c1c1c" stroke-width="1.00"/><line x1="63.90" y1="128.70" x2="63.90" y2="131.70" stroke="#1c1c1c" stroke-width="1.00"/><line x1="96.00" y1="128.70" x2="96.00" y2="131.70" stroke="#1c1c1c" stroke-width="1.00"/><line x1="128.50" y1="128.70" x2="128.50" y2="131.70" stroke="#1c1c1c" stroke-width="1.00"/><line x1="161.00" y1="128.70" x2="161.00" y2="131.70" stroke="#1c1c1c" stroke-width="1.00"/><text x="46.70" y="145.60" font-size="13.30" text-anchor="middle" font-weight="normal" fill="#1a1a1a" >350</text><text x="79.60" y="145.60" font-size="13.30" text-anchor="middle" font-weight="normal" fill="#1a1a1a" >400</text><text x="112.20" y="145.60" font-size="13.30" text-anchor="middle" font-weight="normal" fill="#1a1a1a" >450</text><text x="144.70" y="145.60" font-size="13.30" text-anchor="middle" font-weight="normal" fill="#1a1a1a" >500</text><text x="109.20" y="158.30" font-size="13.30" text-anchor="middle" font-weight="normal" fill="#1a1a1a" >Wavelength (nm)</text><rect x="179.30" y="23.40" width="25.30" height="2.00" fill="#9ca4a4"/><rect x="179.30" y="25.30" width="25.30" height="102.40" fill="url(#cb119)"/><rect x="179.30" y="23.20" width="25.30" height="105.40" fill="none" stroke="#2a2a2a" stroke-width="1.0"/><line x1="204.60" y1="25.30" x2="210.80" y2="25.30" stroke="#1c1c1c" stroke-width="1.00"/><text x="212.20" y="28.60" font-size="10.00" text-anchor="start" font-weight="normal" fill="#1a1a1a" >3.00</text><line x1="204.60" y1="42.37" x2="210.80" y2="42.37" stroke="#1c1c1c" stroke-width="1.00"/><text x="212.20" y="45.67" font-size="10.00" text-anchor="start" font-weight="normal" fill="#1a1a1a" >2.25</text><line x1="204.60" y1="59.43" x2="210.80" y2="59.43" stroke="#1c1c1c" stroke-width="1.00"/><use href="#one" transform="translate(212.20,62.73) scale(0.00488,-0.00488)" fill="#1a1a1a"/><text x="217.76" y="62.73" font-size="10.00" text-anchor="start" font-weight="normal" fill="#1a1a1a" >.50</text><line x1="204.60" y1="76.50" x2="210.80" y2="76.50" stroke="#1c1c1c" stroke-width="1.00"/><text x="212.20" y="79.80" font-size="10.00" text-anchor="start" font-weight="normal" fill="#1a1a1a" >0.75</text><line x1="204.60" y1="93.57" x2="210.80" y2="93.57" stroke="#1c1c1c" stroke-width="1.00"/><text x="212.20" y="96.87" font-size="10.00" text-anchor="start" font-weight="normal" fill="#1a1a1a" >0.00</text><line x1="204.60" y1="110.63" x2="210.80" y2="110.63" stroke="#1c1c1c" stroke-width="1.00"/><text x="212.20" y="113.93" font-size="10.00" text-anchor="start" font-weight="normal" fill="#1a1a1a" >-0.75</text><line x1="204.60" y1="127.70" x2="210.80" y2="127.70" stroke="#1c1c1c" stroke-width="1.00"/><text x="212.20" y="131.00" font-size="10.00" text-anchor="start" font-weight="normal" fill="#1a1a1a" >-</text><use href="#one" transform="translate(215.53,131.00) scale(0.00488,-0.00488)" fill="#1a1a1a"/><text x="221.09" y="131.00" font-size="10.00" text-anchor="start" font-weight="normal" fill="#1a1a1a" >.50</text><path d="M182.10 19.00 L186.40 12.80 L190.70 19.00 Z" fill="none" stroke="#333" stroke-width="0.75"/><text x="190.40" y="19.10" font-size="9.60" text-anchor="start" font-weight="normal" fill="#1a1a1a" textLength="37.2" lengthAdjust="spacingAndGlyphs">A (mOD)</text><text x="53.30" y="72.10" font-size="15.00" text-anchor="start" font-weight="normal" fill="#1a1a1a" >PB</text><text x="111.20" y="72.10" font-size="15.20" text-anchor="start" font-weight="normal" fill="#1a1a1a" >PIA-CFE</text><rect x="283" y="10" width="136" height="2" fill="url(#g120)"/><rect x="283" y="12" width="136" height="2" fill="url(#g121)"/><rect x="283" y="14" width="136" height="2" fill="url(#g122)"/><rect x="283" y="16" width="136" height="2" fill="url(#g123)"/><rect x="283" y="18" width="136" height="2" fill="url(#g124)"/><rect x="283" y="20" width="136" height="2" fill="url(#g125)"/><rect x="283" y="22" width="136" height="2" fill="url(#g126)"/><rect x="283" y="24" width="136" height="2" fill="url(#g127)"/><rect x="283" y="26" width="136" height="2" fill="url(#g128)"/><rect x="283" y="28" width="136" height="2" fill="url(#g129)"/><rect x="283" y="30" width="136" height="2" fill="url(#g130)"/><rect x="283" y="32" width="136" height="2" fill="url(#g131)"/><rect x="283" y="34" width="136" height="2" fill="url(#g132)"/><rect x="283" y="36" width="136" height="2" fill="url(#g133)"/><rect x="283" y="38" width="136" height="2" fill="url(#g134)"/><rect x="283" y="40" width="136" height="2" fill="url(#g135)"/><rect x="283" y="42" width="136" height="2" fill="url(#g136)"/><rect x="283" y="44" width="136" height="2" fill="url(#g137)"/><rect x="283" y="46" width="136" height="2" fill="url(#g138)"/><rect x="283" y="48" width="136" height="2" fill="url(#g139)"/><rect x="283" y="50" width="136" height="2" fill="url(#g140)"/><rect x="283" y="52" width="136" height="2" fill="url(#g141)"/><rect x="283" y="54" width="136" height="2" fill="url(#g142)"/><rect x="283" y="56" width="136" height="2" fill="url(#g143)"/><rect x="283" y="58" width="136" height="2" fill="url(#g144)"/><rect x="283" y="60" width="136" height="2" fill="url(#g145)"/><rect x="283" y="62" width="136" height="2" fill="url(#g146)"/><rect x="283" y="64" width="136" height="2" fill="url(#g147)"/><rect x="283" y="66" width="136" height="2" fill="url(#g148)"/><rect x="283" y="68" width="136" height="2" fill="url(#g149)"/><rect x="283" y="70" width="136" height="2" fill="url(#g150)"/><rect x="283" y="72" width="136" height="2" fill="url(#g151)"/><rect x="283" y="74" width="136" height="2" fill="url(#g152)"/><rect x="283" y="76" width="136" height="2" fill="url(#g153)"/><rect x="283" y="78" width="136" height="2" fill="url(#g154)"/><rect x="283" y="80" width="136" height="2" fill="url(#g155)"/><rect x="283" y="82" width="136" height="2" fill="url(#g156)"/><rect x="283" y="84" width="136" height="2" fill="url(#g157)"/><rect x="283" y="86" width="136" height="2" fill="url(#g158)"/><rect x="283" y="88" width="136" height="2" fill="url(#g159)"/><rect x="283" y="90" width="136" height="2" fill="url(#g160)"/><rect x="283" y="92" width="136" height="2" fill="url(#g161)"/><rect x="283" y="94" width="136" height="2" fill="url(#g162)"/><rect x="283" y="96" width="136" height="2" fill="url(#g163)"/><rect x="283" y="98" width="136" height="2" fill="url(#g164)"/><rect x="283" y="100" width="136" height="2" fill="url(#g165)"/><rect x="283" y="102" width="136" height="2" fill="url(#g166)"/><rect x="283" y="104" width="136" height="2" fill="url(#g167)"/><rect x="283" y="106" width="136" height="2" fill="url(#g168)"/><rect x="283" y="108" width="136" height="2" fill="url(#g169)"/><rect x="283" y="110" width="136" height="2" fill="url(#g170)"/><rect x="283" y="112" width="136" height="2" fill="url(#g171)"/><rect x="283" y="114" width="136" height="2" fill="url(#g172)"/><rect x="283" y="116" width="136" height="2" fill="url(#g173)"/><rect x="283" y="118" width="136" height="2" fill="url(#g174)"/><rect x="283" y="120" width="136" height="2" fill="url(#g175)"/><rect x="283" y="122" width="136" height="2" fill="url(#g176)"/><rect x="283" y="124" width="136" height="2" fill="url(#g177)"/><rect x="283" y="126" width="136" height="2" fill="url(#g178)"/><rect x="282.50" y="9.50" width="137.00" height="119.20" fill="none" stroke="#1c1c1c" stroke-width="1.15"/><line x1="277.00" y1="128.70" x2="282.50" y2="128.70" stroke="#1c1c1c" stroke-width="1.00"/><line x1="279.50" y1="121.35" x2="282.50" y2="121.35" stroke="#1c1c1c" stroke-width="1.00"/><line x1="279.50" y1="117.06" x2="282.50" y2="117.06" stroke="#1c1c1c" stroke-width="1.00"/><line x1="279.50" y1="114.01" x2="282.50" y2="114.01" stroke="#1c1c1c" stroke-width="1.00"/><line x1="279.50" y1="111.65" x2="282.50" y2="111.65" stroke="#1c1c1c" stroke-width="1.00"/><line x1="279.50" y1="109.71" x2="282.50" y2="109.71" stroke="#1c1c1c" stroke-width="1.00"/><line x1="279.50" y1="108.08" x2="282.50" y2="108.08" stroke="#1c1c1c" stroke-width="1.00"/><line x1="279.50" y1="106.66" x2="282.50" y2="106.66" stroke="#1c1c1c" stroke-width="1.00"/><line x1="279.50" y1="105.42" x2="282.50" y2="105.42" stroke="#1c1c1c" stroke-width="1.00"/><use href="#one" transform="translate(253.51,133.70) scale(0.00605,-0.00605)" fill="#1a1a1a"/><text x="260.40" y="133.70" font-size="12.40" text-anchor="start" font-weight="normal" fill="#1a1a1a" >0</text><text x="267.30" y="128.70" font-size="9.00" text-anchor="start" font-weight="normal" fill="#1a1a1a" >-</text><use href="#one" transform="translate(270.30,128.70) scale(0.00439,-0.00439)" fill="#1a1a1a"/><line x1="277.00" y1="104.30" x2="282.50" y2="104.30" stroke="#1c1c1c" stroke-width="1.00"/><line x1="279.50" y1="96.95" x2="282.50" y2="96.95" stroke="#1c1c1c" stroke-width="1.00"/><line x1="279.50" y1="92.66" x2="282.50" y2="92.66" stroke="#1c1c1c" stroke-width="1.00"/><line x1="279.50" y1="89.61" x2="282.50" y2="89.61" stroke="#1c1c1c" stroke-width="1.00"/><line x1="279.50" y1="87.25" x2="282.50" y2="87.25" stroke="#1c1c1c" stroke-width="1.00"/><line x1="279.50" y1="85.31" x2="282.50" y2="85.31" stroke="#1c1c1c" stroke-width="1.00"/><line x1="279.50" y1="83.68" x2="282.50" y2="83.68" stroke="#1c1c1c" stroke-width="1.00"/><line x1="279.50" y1="82.26" x2="282.50" y2="82.26" stroke="#1c1c1c" stroke-width="1.00"/><line x1="279.50" y1="81.02" x2="282.50" y2="81.02" stroke="#1c1c1c" stroke-width="1.00"/><use href="#one" transform="translate(256.51,109.30) scale(0.00605,-0.00605)" fill="#1a1a1a"/><text x="263.40" y="109.30" font-size="12.40" text-anchor="start" font-weight="normal" fill="#1a1a1a" >0</text><text x="270.30" y="104.30" font-size="9.00" text-anchor="start" font-weight="normal" fill="#1a1a1a" >0</text><line x1="277.00" y1="79.90" x2="282.50" y2="79.90" stroke="#1c1c1c" stroke-width="1.00"/><line x1="279.50" y1="72.55" x2="282.50" y2="72.55" stroke="#1c1c1c" stroke-width="1.00"/><line x1="279.50" y1="68.26" x2="282.50" y2="68.26" stroke="#1c1c1c" stroke-width="1.00"/><line x1="279.50" y1="65.21" x2="282.50" y2="65.21" stroke="#1c1c1c" stroke-width="1.00"/><line x1="279.50" y1="62.85" x2="282.50" y2="62.85" stroke="#1c1c1c" stroke-width="1.00"/><line x1="279.50" y1="60.91" x2="282.50" y2="60.91" stroke="#1c1c1c" stroke-width="1.00"/><line x1="279.50" y1="59.28" x2="282.50" y2="59.28" stroke="#1c1c1c" stroke-width="1.00"/><line x1="279.50" y1="57.86" x2="282.50" y2="57.86" stroke="#1c1c1c" stroke-width="1.00"/><line x1="279.50" y1="56.62" x2="282.50" y2="56.62" stroke="#1c1c1c" stroke-width="1.00"/><use href="#one" transform="translate(256.51,84.90) scale(0.00605,-0.00605)" fill="#1a1a1a"/><text x="263.40" y="84.90" font-size="12.40" text-anchor="start" font-weight="normal" fill="#1a1a1a" >0</text><use href="#one" transform="translate(270.30,79.90) scale(0.00439,-0.00439)" fill="#1a1a1a"/><line x1="277.00" y1="55.50" x2="282.50" y2="55.50" stroke="#1c1c1c" stroke-width="1.00"/><line x1="279.50" y1="48.15" x2="282.50" y2="48.15" stroke="#1c1c1c" stroke-width="1.00"/><line x1="279.50" y1="43.86" x2="282.50" y2="43.86" stroke="#1c1c1c" stroke-width="1.00"/><line x1="279.50" y1="40.81" x2="282.50" y2="40.81" stroke="#1c1c1c" stroke-width="1.00"/><line x1="279.50" y1="38.45" x2="282.50" y2="38.45" stroke="#1c1c1c" stroke-width="1.00"/><line x1="279.50" y1="36.51" x2="282.50" y2="36.51" stroke="#1c1c1c" stroke-width="1.00"/><line x1="279.50" y1="34.88" x2="282.50" y2="34.88" stroke="#1c1c1c" stroke-width="1.00"/><line x1="279.50" y1="33.46" x2="282.50" y2="33.46" stroke="#1c1c1c" stroke-width="1.00"/><line x1="279.50" y1="32.22" x2="282.50" y2="32.22" stroke="#1c1c1c" stroke-width="1.00"/><use href="#one" transform="translate(256.51,60.50) scale(0.00605,-0.00605)" fill="#1a1a1a"/><text x="263.40" y="60.50" font-size="12.40" text-anchor="start" font-weight="normal" fill="#1a1a1a" >0</text><text x="270.30" y="55.50" font-size="9.00" text-anchor="start" font-weight="normal" fill="#1a1a1a" >2</text><line x1="277.00" y1="31.10" x2="282.50" y2="31.10" stroke="#1c1c1c" stroke-width="1.00"/><line x1="279.50" y1="23.75" x2="282.50" y2="23.75" stroke="#1c1c1c" stroke-width="1.00"/><line x1="279.50" y1="19.46" x2="282.50" y2="19.46" stroke="#1c1c1c" stroke-width="1.00"/><line x1="279.50" y1="16.41" x2="282.50" y2="16.41" stroke="#1c1c1c" stroke-width="1.00"/><line x1="279.50" y1="14.05" x2="282.50" y2="14.05" stroke="#1c1c1c" stroke-width="1.00"/><line x1="279.50" y1="12.11" x2="282.50" y2="12.11" stroke="#1c1c1c" stroke-width="1.00"/><line x1="279.50" y1="10.48" x2="282.50" y2="10.48" stroke="#1c1c1c" stroke-width="1.00"/><use href="#one" transform="translate(256.51,36.10) scale(0.00605,-0.00605)" fill="#1a1a1a"/><text x="263.40" y="36.10" font-size="12.40" text-anchor="start" font-weight="normal" fill="#1a1a1a" >0</text><text x="270.30" y="31.10" font-size="9.00" text-anchor="start" font-weight="normal" fill="#1a1a1a" >3</text><line x1="298.50" y1="128.70" x2="298.50" y2="134.70" stroke="#1c1c1c" stroke-width="1.00"/><line x1="329.95" y1="128.70" x2="329.95" y2="134.70" stroke="#1c1c1c" stroke-width="1.00"/><line x1="361.40" y1="128.70" x2="361.40" y2="134.70" stroke="#1c1c1c" stroke-width="1.00"/><line x1="392.85" y1="128.70" x2="392.85" y2="134.70" stroke="#1c1c1c" stroke-width="1.00"/><line x1="282.77" y1="128.70" x2="282.77" y2="131.70" stroke="#1c1c1c" stroke-width="1.00"/><line x1="314.23" y1="128.70" x2="314.23" y2="131.70" stroke="#1c1c1c" stroke-width="1.00"/><line x1="345.68" y1="128.70" x2="345.68" y2="131.70" stroke="#1c1c1c" stroke-width="1.00"/><line x1="377.12" y1="128.70" x2="377.12" y2="131.70" stroke="#1c1c1c" stroke-width="1.00"/><line x1="408.57" y1="128.70" x2="408.57" y2="131.70" stroke="#1c1c1c" stroke-width="1.00"/><text x="298.50" y="145.60" font-size="13.30" text-anchor="middle" font-weight="normal" fill="#1a1a1a" >600</text><text x="329.95" y="145.60" font-size="13.30" text-anchor="middle" font-weight="normal" fill="#1a1a1a" >700</text><text x="361.40" y="145.60" font-size="13.30" text-anchor="middle" font-weight="normal" fill="#1a1a1a" >800</text><text x="392.85" y="145.60" font-size="13.30" text-anchor="middle" font-weight="normal" fill="#1a1a1a" >900</text><text x="350.70" y="158.30" font-size="13.30" text-anchor="middle" font-weight="normal" fill="#1a1a1a" >Wavelength (nm)</text><rect x="421.30" y="22.90" width="25.70" height="2.00" fill="#9ca4a4"/><rect x="421.30" y="24.80" width="25.70" height="103.80" fill="url(#cb179)"/><rect x="421.30" y="22.70" width="25.70" height="106.80" fill="none" stroke="#2a2a2a" stroke-width="1.0"/><line x1="447.00" y1="24.80" x2="452.80" y2="24.80" stroke="#1c1c1c" stroke-width="1.00"/><text x="453.20" y="28.10" font-size="10.00" text-anchor="start" font-weight="normal" fill="#1a1a1a" >4.00</text><line x1="447.00" y1="42.10" x2="452.80" y2="42.10" stroke="#1c1c1c" stroke-width="1.00"/><text x="453.20" y="45.40" font-size="10.00" text-anchor="start" font-weight="normal" fill="#1a1a1a" >3.00</text><line x1="447.00" y1="59.40" x2="452.80" y2="59.40" stroke="#1c1c1c" stroke-width="1.00"/><text x="453.20" y="62.70" font-size="10.00" text-anchor="start" font-weight="normal" fill="#1a1a1a" >2.00</text><line x1="447.00" y1="76.70" x2="452.80" y2="76.70" stroke="#1c1c1c" stroke-width="1.00"/><use href="#one" transform="translate(453.20,80.00) scale(0.00488,-0.00488)" fill="#1a1a1a"/><text x="458.76" y="80.00" font-size="10.00" text-anchor="start" font-weight="normal" fill="#1a1a1a" >.00</text><line x1="447.00" y1="94.00" x2="452.80" y2="94.00" stroke="#1c1c1c" stroke-width="1.00"/><text x="453.20" y="97.30" font-size="10.00" text-anchor="start" font-weight="normal" fill="#1a1a1a" >0.00</text><line x1="447.00" y1="111.30" x2="452.80" y2="111.30" stroke="#1c1c1c" stroke-width="1.00"/><text x="453.20" y="114.60" font-size="10.00" text-anchor="start" font-weight="normal" fill="#1a1a1a" >-</text><use href="#one" transform="translate(456.53,114.60) scale(0.00488,-0.00488)" fill="#1a1a1a"/><text x="462.09" y="114.60" font-size="10.00" text-anchor="start" font-weight="normal" fill="#1a1a1a" >.00</text><line x1="447.00" y1="128.60" x2="452.80" y2="128.60" stroke="#1c1c1c" stroke-width="1.00"/><text x="453.20" y="131.90" font-size="10.00" text-anchor="start" font-weight="normal" fill="#1a1a1a" >-2.00</text><path d="M424.00 19.20 L428.30 13.00 L432.60 19.20 Z" fill="none" stroke="#333" stroke-width="0.75"/><text x="432.30" y="19.30" font-size="9.60" text-anchor="start" font-weight="normal" fill="#1a1a1a" textLength="37.2" lengthAdjust="spacingAndGlyphs">A (mOD)</text><text x="348.70" y="71.90" font-size="15.30" text-anchor="start" font-weight="normal" fill="#1a1a1a" >PIA-STE</text><rect x="41" y="171" width="136" height="1" fill="url(#g180)"/><rect x="41" y="172" width="136" height="1" fill="url(#g181)"/><rect x="41" y="173" width="136" height="1" fill="url(#g182)"/><rect x="41" y="174" width="136" height="1" fill="url(#g183)"/><rect x="41" y="175" width="136" height="1" fill="url(#g184)"/><rect x="41" y="176" width="136" height="1" fill="url(#g185)"/><rect x="41" y="177" width="136" height="1" fill="url(#g186)"/><rect x="41" y="178" width="136" height="1" fill="url(#g187)"/><rect x="41" y="179" width="136" height="1" fill="url(#g188)"/><rect x="41" y="180" width="136" height="1" fill="url(#g189)"/><rect x="41" y="181" width="136" height="1" fill="url(#g190)"/><rect x="41" y="182" width="136" height="1" fill="url(#g191)"/><rect x="41" y="183" width="136" height="1" fill="url(#g192)"/><rect x="41" y="184" width="136" height="1" fill="url(#g193)"/><rect x="41" y="185" width="136" height="1" fill="url(#g194)"/><rect x="41" y="186" width="136" height="1" fill="url(#g195)"/><rect x="41" y="187" width="136" height="1" fill="url(#g196)"/><rect x="41" y="188" width="136" height="1" fill="url(#g197)"/><rect x="41" y="189" width="136" height="1" fill="url(#g198)"/><rect x="41" y="190" width="136" height="1" fill="url(#g199)"/><rect x="41" y="191" width="136" height="1" fill="url(#g200)"/><rect x="41" y="192" width="136" height="1" fill="url(#g201)"/><rect x="41" y="193" width="136" height="1" fill="url(#g202)"/><rect x="41" y="194" width="136" height="1" fill="url(#g203)"/><rect x="41" y="195" width="136" height="1" fill="url(#g204)"/><rect x="41" y="196" width="136" height="1" fill="url(#g205)"/><rect x="41" y="197" width="136" height="1" fill="url(#g206)"/><rect x="41" y="198" width="136" height="1" fill="url(#g207)"/><rect x="41" y="199" width="136" height="1" fill="url(#g208)"/><rect x="41" y="200" width="136" height="1" fill="url(#g209)"/><rect x="41" y="201" width="136" height="1" fill="url(#g210)"/><rect x="41" y="202" width="136" height="1" fill="url(#g211)"/><rect x="41" y="203" width="136" height="1" fill="url(#g212)"/><rect x="41" y="204" width="136" height="1" fill="url(#g213)"/><rect x="41" y="205" width="136" height="1" fill="url(#g214)"/><rect x="41" y="206" width="136" height="1" fill="url(#g215)"/><rect x="41" y="207" width="136" height="1" fill="url(#g216)"/><rect x="41" y="208" width="136" height="1" fill="url(#g217)"/><rect x="41" y="209" width="136" height="1" fill="url(#g218)"/><rect x="41" y="210" width="136" height="1" fill="url(#g219)"/><rect x="41" y="211" width="136" height="1" fill="url(#g220)"/><rect x="41" y="212" width="136" height="1" fill="url(#g221)"/><rect x="41" y="213" width="136" height="1" fill="url(#g222)"/><rect x="41" y="214" width="136" height="1" fill="url(#g223)"/><rect x="41" y="215" width="136" height="1" fill="url(#g224)"/><rect x="41" y="216" width="136" height="1" fill="url(#g225)"/><rect x="41" y="217" width="136" height="1" fill="url(#g226)"/><rect x="41" y="218" width="136" height="1" fill="url(#g227)"/><rect x="41" y="219" width="136" height="1" fill="url(#g228)"/><rect x="41" y="220" width="136" height="1" fill="url(#g229)"/><rect x="41" y="221" width="136" height="1" fill="url(#g230)"/><rect x="41" y="222" width="136" height="1" fill="url(#g231)"/><rect x="41" y="223" width="136" height="1" fill="url(#g232)"/><rect x="41" y="224" width="136" height="1" fill="url(#g233)"/><rect x="41" y="225" width="136" height="1" fill="url(#g234)"/><rect x="41" y="226" width="136" height="1" fill="url(#g235)"/><rect x="41" y="227" width="136" height="1" fill="url(#g236)"/><rect x="41" y="228" width="136" height="1" fill="url(#g237)"/><rect x="41" y="229" width="136" height="1" fill="url(#g238)"/><rect x="41" y="230" width="136" height="1" fill="url(#g239)"/><rect x="41" y="231" width="136" height="1" fill="url(#g240)"/><rect x="41" y="232" width="136" height="1" fill="url(#g241)"/><rect x="41" y="233" width="136" height="1" fill="url(#g242)"/><rect x="41" y="234" width="136" height="1" fill="url(#g243)"/><rect x="41" y="235" width="136" height="1" fill="url(#g244)"/><rect x="41" y="236" width="136" height="1" fill="url(#g245)"/><rect x="41" y="237" width="136" height="1" fill="url(#g246)"/><rect x="41" y="238" width="136" height="1" fill="url(#g247)"/><rect x="41" y="239" width="136" height="1" fill="url(#g248)"/><rect x="41" y="240" width="136" height="1" fill="url(#g249)"/><rect x="41" y="241" width="136" height="1" fill="url(#g250)"/><rect x="41" y="242" width="136" height="1" fill="url(#g251)"/><rect x="41" y="243" width="136" height="1" fill="url(#g252)"/><rect x="41" y="244" width="136" height="1" fill="url(#g253)"/><rect x="41" y="245" width="136" height="1" fill="url(#g254)"/><rect x="41" y="246" width="136" height="1" fill="url(#g255)"/><rect x="41" y="247" width="136" height="1" fill="url(#g256)"/><rect x="41" y="248" width="136" height="1" fill="url(#g257)"/><rect x="41" y="249" width="136" height="1" fill="url(#g258)"/><rect x="41" y="250" width="136" height="1" fill="url(#g259)"/><rect x="41" y="251" width="136" height="1" fill="url(#g260)"/><rect x="41" y="252" width="136" height="1" fill="url(#g261)"/><rect x="41" y="253" width="136" height="1" fill="url(#g262)"/><rect x="41" y="254" width="136" height="1" fill="url(#g263)"/><rect x="41" y="255" width="136" height="1" fill="url(#g264)"/><rect x="41" y="256" width="136" height="1" fill="url(#g265)"/><rect x="41" y="257" width="136" height="1" fill="url(#g266)"/><rect x="41" y="258" width="136" height="1" fill="url(#g267)"/><rect x="41" y="259" width="136" height="1" fill="url(#g268)"/><rect x="41" y="260" width="136" height="1" fill="url(#g269)"/><rect x="41" y="261" width="136" height="1" fill="url(#g270)"/><rect x="41" y="262" width="136" height="1" fill="url(#g271)"/><rect x="41" y="263" width="136" height="1" fill="url(#g272)"/><rect x="41" y="264" width="136" height="1" fill="url(#g273)"/><rect x="41" y="265" width="136" height="1" fill="url(#g274)"/><rect x="41" y="266" width="136" height="1" fill="url(#g275)"/><rect x="41" y="267" width="136" height="1" fill="url(#g276)"/><rect x="41" y="268" width="136" height="1" fill="url(#g277)"/><rect x="41" y="269" width="136" height="1" fill="url(#g278)"/><rect x="41" y="270" width="136" height="1" fill="url(#g279)"/><rect x="41" y="271" width="136" height="1" fill="url(#g280)"/><rect x="41" y="272" width="136" height="1" fill="url(#g281)"/><rect x="41" y="273" width="136" height="1" fill="url(#g282)"/><rect x="41" y="274" width="136" height="1" fill="url(#g283)"/><rect x="41" y="275" width="136" height="1" fill="url(#g284)"/><rect x="41" y="276" width="136" height="1" fill="url(#g285)"/><rect x="41" y="277" width="136" height="1" fill="url(#g286)"/><rect x="41" y="278" width="136" height="1" fill="url(#g287)"/><rect x="41" y="279" width="136" height="1" fill="url(#g288)"/><rect x="41" y="280" width="136" height="1" fill="url(#g289)"/><rect x="41" y="281" width="136" height="1" fill="url(#g290)"/><rect x="41" y="282" width="136" height="1" fill="url(#g291)"/><rect x="41" y="283" width="136" height="1" fill="url(#g292)"/><rect x="41" y="284" width="136" height="1" fill="url(#g293)"/><rect x="41" y="285" width="136" height="1" fill="url(#g294)"/><rect x="41" y="286" width="136" height="1" fill="url(#g295)"/><rect x="41" y="287" width="136" height="1" fill="url(#g296)"/><rect x="41" y="288" width="136" height="1" fill="url(#g297)"/><rect x="40.50" y="170.50" width="136.70" height="119.00" fill="none" stroke="#1c1c1c" stroke-width="1.15"/><line x1="35.00" y1="289.50" x2="40.50" y2="289.50" stroke="#1c1c1c" stroke-width="1.00"/><line x1="37.50" y1="282.15" x2="40.50" y2="282.15" stroke="#1c1c1c" stroke-width="1.00"/><line x1="37.50" y1="277.86" x2="40.50" y2="277.86" stroke="#1c1c1c" stroke-width="1.00"/><line x1="37.50" y1="274.81" x2="40.50" y2="274.81" stroke="#1c1c1c" stroke-width="1.00"/><line x1="37.50" y1="272.45" x2="40.50" y2="272.45" stroke="#1c1c1c" stroke-width="1.00"/><line x1="37.50" y1="270.51" x2="40.50" y2="270.51" stroke="#1c1c1c" stroke-width="1.00"/><line x1="37.50" y1="268.88" x2="40.50" y2="268.88" stroke="#1c1c1c" stroke-width="1.00"/><line x1="37.50" y1="267.46" x2="40.50" y2="267.46" stroke="#1c1c1c" stroke-width="1.00"/><line x1="37.50" y1="266.22" x2="40.50" y2="266.22" stroke="#1c1c1c" stroke-width="1.00"/><use href="#one" transform="translate(11.61,294.50) scale(0.00605,-0.00605)" fill="#1a1a1a"/><text x="18.50" y="294.50" font-size="12.40" text-anchor="start" font-weight="normal" fill="#1a1a1a" >0</text><text x="25.40" y="289.50" font-size="9.00" text-anchor="start" font-weight="normal" fill="#1a1a1a" >-</text><use href="#one" transform="translate(28.40,289.50) scale(0.00439,-0.00439)" fill="#1a1a1a"/><line x1="35.00" y1="265.10" x2="40.50" y2="265.10" stroke="#1c1c1c" stroke-width="1.00"/><line x1="37.50" y1="257.75" x2="40.50" y2="257.75" stroke="#1c1c1c" stroke-width="1.00"/><line x1="37.50" y1="253.46" x2="40.50" y2="253.46" stroke="#1c1c1c" stroke-width="1.00"/><line x1="37.50" y1="250.41" x2="40.50" y2="250.41" stroke="#1c1c1c" stroke-width="1.00"/><line x1="37.50" y1="248.05" x2="40.50" y2="248.05" stroke="#1c1c1c" stroke-width="1.00"/><line x1="37.50" y1="246.11" x2="40.50" y2="246.11" stroke="#1c1c1c" stroke-width="1.00"/><line x1="37.50" y1="244.48" x2="40.50" y2="244.48" stroke="#1c1c1c" stroke-width="1.00"/><line x1="37.50" y1="243.06" x2="40.50" y2="243.06" stroke="#1c1c1c" stroke-width="1.00"/><line x1="37.50" y1="241.82" x2="40.50" y2="241.82" stroke="#1c1c1c" stroke-width="1.00"/><use href="#one" transform="translate(14.61,270.10) scale(0.00605,-0.00605)" fill="#1a1a1a"/><text x="21.50" y="270.10" font-size="12.40" text-anchor="start" font-weight="normal" fill="#1a1a1a" >0</text><text x="28.40" y="265.10" font-size="9.00" text-anchor="start" font-weight="normal" fill="#1a1a1a" >0</text><line x1="35.00" y1="240.70" x2="40.50" y2="240.70" stroke="#1c1c1c" stroke-width="1.00"/><line x1="37.50" y1="233.35" x2="40.50" y2="233.35" stroke="#1c1c1c" stroke-width="1.00"/><line x1="37.50" y1="229.06" x2="40.50" y2="229.06" stroke="#1c1c1c" stroke-width="1.00"/><line x1="37.50" y1="226.01" x2="40.50" y2="226.01" stroke="#1c1c1c" stroke-width="1.00"/><line x1="37.50" y1="223.65" x2="40.50" y2="223.65" stroke="#1c1c1c" stroke-width="1.00"/><line x1="37.50" y1="221.71" x2="40.50" y2="221.71" stroke="#1c1c1c" stroke-width="1.00"/><line x1="37.50" y1="220.08" x2="40.50" y2="220.08" stroke="#1c1c1c" stroke-width="1.00"/><line x1="37.50" y1="218.66" x2="40.50" y2="218.66" stroke="#1c1c1c" stroke-width="1.00"/><line x1="37.50" y1="217.42" x2="40.50" y2="217.42" stroke="#1c1c1c" stroke-width="1.00"/><use href="#one" transform="translate(14.61,245.70) scale(0.00605,-0.00605)" fill="#1a1a1a"/><text x="21.50" y="245.70" font-size="12.40" text-anchor="start" font-weight="normal" fill="#1a1a1a" >0</text><use href="#one" transform="translate(28.40,240.70) scale(0.00439,-0.00439)" fill="#1a1a1a"/><line x1="35.00" y1="216.30" x2="40.50" y2="216.30" stroke="#1c1c1c" stroke-width="1.00"/><line x1="37.50" y1="208.95" x2="40.50" y2="208.95" stroke="#1c1c1c" stroke-width="1.00"/><line x1="37.50" y1="204.66" x2="40.50" y2="204.66" stroke="#1c1c1c" stroke-width="1.00"/><line x1="37.50" y1="201.61" x2="40.50" y2="201.61" stroke="#1c1c1c" stroke-width="1.00"/><line x1="37.50" y1="199.25" x2="40.50" y2="199.25" stroke="#1c1c1c" stroke-width="1.00"/><line x1="37.50" y1="197.31" x2="40.50" y2="197.31" stroke="#1c1c1c" stroke-width="1.00"/><line x1="37.50" y1="195.68" x2="40.50" y2="195.68" stroke="#1c1c1c" stroke-width="1.00"/><line x1="37.50" y1="194.26" x2="40.50" y2="194.26" stroke="#1c1c1c" stroke-width="1.00"/><line x1="37.50" y1="193.02" x2="40.50" y2="193.02" stroke="#1c1c1c" stroke-width="1.00"/><use href="#one" transform="translate(14.61,221.30) scale(0.00605,-0.00605)" fill="#1a1a1a"/><text x="21.50" y="221.30" font-size="12.40" text-anchor="start" font-weight="normal" fill="#1a1a1a" >0</text><text x="28.40" y="216.30" font-size="9.00" text-anchor="start" font-weight="normal" fill="#1a1a1a" >2</text><line x1="35.00" y1="191.90" x2="40.50" y2="191.90" stroke="#1c1c1c" stroke-width="1.00"/><line x1="37.50" y1="184.55" x2="40.50" y2="184.55" stroke="#1c1c1c" stroke-width="1.00"/><line x1="37.50" y1="180.26" x2="40.50" y2="180.26" stroke="#1c1c1c" stroke-width="1.00"/><line x1="37.50" y1="177.21" x2="40.50" y2="177.21" stroke="#1c1c1c" stroke-width="1.00"/><line x1="37.50" y1="174.85" x2="40.50" y2="174.85" stroke="#1c1c1c" stroke-width="1.00"/><line x1="37.50" y1="172.91" x2="40.50" y2="172.91" stroke="#1c1c1c" stroke-width="1.00"/><line x1="37.50" y1="171.28" x2="40.50" y2="171.28" stroke="#1c1c1c" stroke-width="1.00"/><use href="#one" transform="translate(14.61,196.90) scale(0.00605,-0.00605)" fill="#1a1a1a"/><text x="21.50" y="196.90" font-size="12.40" text-anchor="start" font-weight="normal" fill="#1a1a1a" >0</text><text x="28.40" y="191.90" font-size="9.00" text-anchor="start" font-weight="normal" fill="#1a1a1a" >3</text><line x1="53.30" y1="289.50" x2="53.30" y2="295.50" stroke="#1c1c1c" stroke-width="1.00"/><line x1="79.30" y1="289.50" x2="79.30" y2="295.50" stroke="#1c1c1c" stroke-width="1.00"/><line x1="105.30" y1="289.50" x2="105.30" y2="295.50" stroke="#1c1c1c" stroke-width="1.00"/><line x1="131.30" y1="289.50" x2="131.30" y2="295.50" stroke="#1c1c1c" stroke-width="1.00"/><line x1="157.30" y1="289.50" x2="157.30" y2="295.50" stroke="#1c1c1c" stroke-width="1.00"/><line x1="40.30" y1="289.50" x2="40.30" y2="292.50" stroke="#1c1c1c" stroke-width="1.00"/><line x1="66.30" y1="289.50" x2="66.30" y2="292.50" stroke="#1c1c1c" stroke-width="1.00"/><line x1="92.30" y1="289.50" x2="92.30" y2="292.50" stroke="#1c1c1c" stroke-width="1.00"/><line x1="118.30" y1="289.50" x2="118.30" y2="292.50" stroke="#1c1c1c" stroke-width="1.00"/><line x1="144.30" y1="289.50" x2="144.30" y2="292.50" stroke="#1c1c1c" stroke-width="1.00"/><line x1="170.30" y1="289.50" x2="170.30" y2="292.50" stroke="#1c1c1c" stroke-width="1.00"/><text x="53.30" y="306.40" font-size="13.30" text-anchor="middle" font-weight="normal" fill="#1a1a1a" >360</text><text x="79.30" y="306.40" font-size="13.30" text-anchor="middle" font-weight="normal" fill="#1a1a1a" >400</text><text x="105.30" y="306.40" font-size="13.30" text-anchor="middle" font-weight="normal" fill="#1a1a1a" >440</text><text x="131.30" y="306.40" font-size="13.30" text-anchor="middle" font-weight="normal" fill="#1a1a1a" >480</text><text x="157.30" y="306.40" font-size="13.30" text-anchor="middle" font-weight="normal" fill="#1a1a1a" >520</text><text x="109.20" y="319.00" font-size="13.30" text-anchor="middle" font-weight="normal" fill="#1a1a1a" >Wavelength (nm)</text><rect x="179.30" y="185.00" width="25.00" height="2.00" fill="#f4f4f4"/><rect x="179.30" y="186.90" width="25.00" height="101.60" fill="url(#cb298)"/><rect x="179.30" y="184.80" width="25.00" height="104.60" fill="none" stroke="#2a2a2a" stroke-width="1.0"/><line x1="204.30" y1="186.90" x2="210.70" y2="186.90" stroke="#1c1c1c" stroke-width="1.00"/><text x="212.20" y="190.20" font-size="10.00" text-anchor="start" font-weight="normal" fill="#1a1a1a" >3.00</text><line x1="204.30" y1="203.83" x2="210.70" y2="203.83" stroke="#1c1c1c" stroke-width="1.00"/><text x="212.20" y="207.13" font-size="10.00" text-anchor="start" font-weight="normal" fill="#1a1a1a" >2.25</text><line x1="204.30" y1="220.77" x2="210.70" y2="220.77" stroke="#1c1c1c" stroke-width="1.00"/><use href="#one" transform="translate(212.20,224.07) scale(0.00488,-0.00488)" fill="#1a1a1a"/><text x="217.76" y="224.07" font-size="10.00" text-anchor="start" font-weight="normal" fill="#1a1a1a" >.50</text><line x1="204.30" y1="237.70" x2="210.70" y2="237.70" stroke="#1c1c1c" stroke-width="1.00"/><text x="212.20" y="241.00" font-size="10.00" text-anchor="start" font-weight="normal" fill="#1a1a1a" >0.75</text><line x1="204.30" y1="254.63" x2="210.70" y2="254.63" stroke="#1c1c1c" stroke-width="1.00"/><text x="212.20" y="257.93" font-size="10.00" text-anchor="start" font-weight="normal" fill="#1a1a1a" >0.00</text><line x1="204.30" y1="271.57" x2="210.70" y2="271.57" stroke="#1c1c1c" stroke-width="1.00"/><text x="212.20" y="274.87" font-size="10.00" text-anchor="start" font-weight="normal" fill="#1a1a1a" >-0.75</text><line x1="204.30" y1="288.50" x2="210.70" y2="288.50" stroke="#1c1c1c" stroke-width="1.00"/><text x="212.20" y="291.80" font-size="10.00" text-anchor="start" font-weight="normal" fill="#1a1a1a" >-</text><use href="#one" transform="translate(215.53,291.80) scale(0.00488,-0.00488)" fill="#1a1a1a"/><text x="221.09" y="291.80" font-size="10.00" text-anchor="start" font-weight="normal" fill="#1a1a1a" >.50</text><path d="M182.00 179.30 L186.30 173.10 L190.60 179.30 Z" fill="none" stroke="#333" stroke-width="0.75"/><text x="190.30" y="179.40" font-size="9.60" text-anchor="start" font-weight="normal" fill="#1a1a1a" textLength="37.2" lengthAdjust="spacingAndGlyphs">A (mOD)</text><text x="54.20" y="239.70" font-size="15.00" text-anchor="start" font-weight="normal" fill="#1a1a1a" >PB</text><text x="112.50" y="239.70" font-size="15.20" text-anchor="start" font-weight="normal" fill="#1a1a1a" >PIA-CFE</text><rect x="283" y="171" width="137" height="2" fill="url(#g299)"/><rect x="283" y="173" width="137" height="2" fill="url(#g300)"/><rect x="283" y="175" width="137" height="2" fill="url(#g301)"/><rect x="283" y="177" width="137" height="2" fill="url(#g302)"/><rect x="283" y="179" width="137" height="2" fill="url(#g303)"/><rect x="283" y="181" width="137" height="2" fill="url(#g304)"/><rect x="283" y="183" width="137" height="2" fill="url(#g305)"/><rect x="283" y="185" width="137" height="2" fill="url(#g306)"/><rect x="283" y="187" width="137" height="2" fill="url(#g307)"/><rect x="283" y="189" width="137" height="2" fill="url(#g308)"/><rect x="283" y="191" width="137" height="2" fill="url(#g309)"/><rect x="283" y="193" width="137" height="2" fill="url(#g310)"/><rect x="283" y="195" width="137" height="2" fill="url(#g311)"/><rect x="283" y="197" width="137" height="2" fill="url(#g312)"/><rect x="283" y="199" width="137" height="2" fill="url(#g313)"/><rect x="283" y="201" width="137" height="2" fill="url(#g314)"/><rect x="283" y="203" width="137" height="2" fill="url(#g315)"/><rect x="283" y="205" width="137" height="2" fill="url(#g316)"/><rect x="283" y="207" width="137" height="2" fill="url(#g317)"/><rect x="283" y="209" width="137" height="2" fill="url(#g318)"/><rect x="283" y="211" width="137" height="2" fill="url(#g319)"/><rect x="283" y="213" width="137" height="2" fill="url(#g320)"/><rect x="283" y="215" width="137" height="2" fill="url(#g321)"/><rect x="283" y="217" width="137" height="2" fill="url(#g322)"/><rect x="283" y="219" width="137" height="2" fill="url(#g323)"/><rect x="283" y="221" width="137" height="2" fill="url(#g324)"/><rect x="283" y="223" width="137" height="2" fill="url(#g325)"/><rect x="283" y="225" width="137" height="2" fill="url(#g326)"/><rect x="283" y="227" width="137" height="2" fill="url(#g327)"/><rect x="283" y="229" width="137" height="2" fill="url(#g328)"/><rect x="283" y="231" width="137" height="2" fill="url(#g329)"/><rect x="283" y="233" width="137" height="2" fill="url(#g330)"/><rect x="283" y="235" width="137" height="2" fill="url(#g331)"/><rect x="283" y="237" width="137" height="2" fill="url(#g332)"/><rect x="283" y="239" width="137" height="2" fill="url(#g333)"/><rect x="283" y="241" width="137" height="2" fill="url(#g334)"/><rect x="283" y="243" width="137" height="2" fill="url(#g335)"/><rect x="283" y="245" width="137" height="2" fill="url(#g336)"/><rect x="283" y="247" width="137" height="2" fill="url(#g337)"/><rect x="283" y="249" width="137" height="2" fill="url(#g338)"/><rect x="283" y="251" width="137" height="2" fill="url(#g339)"/><rect x="283" y="253" width="137" height="2" fill="url(#g340)"/><rect x="283" y="255" width="137" height="2" fill="url(#g341)"/><rect x="283" y="257" width="137" height="2" fill="url(#g342)"/><rect x="283" y="259" width="137" height="2" fill="url(#g343)"/><rect x="283" y="261" width="137" height="2" fill="url(#g344)"/><rect x="283" y="263" width="137" height="2" fill="url(#g345)"/><rect x="283" y="265" width="137" height="2" fill="url(#g346)"/><rect x="283" y="267" width="137" height="2" fill="url(#g347)"/><rect x="283" y="269" width="137" height="2" fill="url(#g348)"/><rect x="283" y="271" width="137" height="2" fill="url(#g349)"/><rect x="283" y="273" width="137" height="2" fill="url(#g350)"/><rect x="283" y="275" width="137" height="2" fill="url(#g351)"/><rect x="283" y="277" width="137" height="2" fill="url(#g352)"/><rect x="283" y="279" width="137" height="2" fill="url(#g353)"/><rect x="283" y="281" width="137" height="2" fill="url(#g354)"/><rect x="283" y="283" width="137" height="2" fill="url(#g355)"/><rect x="283" y="285" width="137" height="2" fill="url(#g356)"/><rect x="283" y="287" width="137" height="2" fill="url(#g357)"/><rect x="283" y="289" width="137" height="1" fill="url(#g358)"/><rect x="282.50" y="170.30" width="137.90" height="120.20" fill="none" stroke="#1c1c1c" stroke-width="1.15"/><line x1="277.00" y1="290.50" x2="282.50" y2="290.50" stroke="#1c1c1c" stroke-width="1.00"/><line x1="279.50" y1="283.15" x2="282.50" y2="283.15" stroke="#1c1c1c" stroke-width="1.00"/><line x1="279.50" y1="278.86" x2="282.50" y2="278.86" stroke="#1c1c1c" stroke-width="1.00"/><line x1="279.50" y1="275.81" x2="282.50" y2="275.81" stroke="#1c1c1c" stroke-width="1.00"/><line x1="279.50" y1="273.45" x2="282.50" y2="273.45" stroke="#1c1c1c" stroke-width="1.00"/><line x1="279.50" y1="271.51" x2="282.50" y2="271.51" stroke="#1c1c1c" stroke-width="1.00"/><line x1="279.50" y1="269.88" x2="282.50" y2="269.88" stroke="#1c1c1c" stroke-width="1.00"/><line x1="279.50" y1="268.46" x2="282.50" y2="268.46" stroke="#1c1c1c" stroke-width="1.00"/><line x1="279.50" y1="267.22" x2="282.50" y2="267.22" stroke="#1c1c1c" stroke-width="1.00"/><use href="#one" transform="translate(253.51,295.50) scale(0.00605,-0.00605)" fill="#1a1a1a"/><text x="260.40" y="295.50" font-size="12.40" text-anchor="start" font-weight="normal" fill="#1a1a1a" >0</text><text x="267.30" y="290.50" font-size="9.00" text-anchor="start" font-weight="normal" fill="#1a1a1a" >-</text><use href="#one" transform="translate(270.30,290.50) scale(0.00439,-0.00439)" fill="#1a1a1a"/><line x1="277.00" y1="266.10" x2="282.50" y2="266.10" stroke="#1c1c1c" stroke-width="1.00"/><line x1="279.50" y1="258.75" x2="282.50" y2="258.75" stroke="#1c1c1c" stroke-width="1.00"/><line x1="279.50" y1="254.46" x2="282.50" y2="254.46" stroke="#1c1c1c" stroke-width="1.00"/><line x1="279.50" y1="251.41" x2="282.50" y2="251.41" stroke="#1c1c1c" stroke-width="1.00"/><line x1="279.50" y1="249.05" x2="282.50" y2="249.05" stroke="#1c1c1c" stroke-width="1.00"/><line x1="279.50" y1="247.11" x2="282.50" y2="247.11" stroke="#1c1c1c" stroke-width="1.00"/><line x1="279.50" y1="245.48" x2="282.50" y2="245.48" stroke="#1c1c1c" stroke-width="1.00"/><line x1="279.50" y1="244.06" x2="282.50" y2="244.06" stroke="#1c1c1c" stroke-width="1.00"/><line x1="279.50" y1="242.82" x2="282.50" y2="242.82" stroke="#1c1c1c" stroke-width="1.00"/><use href="#one" transform="translate(256.51,271.10) scale(0.00605,-0.00605)" fill="#1a1a1a"/><text x="263.40" y="271.10" font-size="12.40" text-anchor="start" font-weight="normal" fill="#1a1a1a" >0</text><text x="270.30" y="266.10" font-size="9.00" text-anchor="start" font-weight="normal" fill="#1a1a1a" >0</text><line x1="277.00" y1="241.70" x2="282.50" y2="241.70" stroke="#1c1c1c" stroke-width="1.00"/><line x1="279.50" y1="234.35" x2="282.50" y2="234.35" stroke="#1c1c1c" stroke-width="1.00"/><line x1="279.50" y1="230.06" x2="282.50" y2="230.06" stroke="#1c1c1c" stroke-width="1.00"/><line x1="279.50" y1="227.01" x2="282.50" y2="227.01" stroke="#1c1c1c" stroke-width="1.00"/><line x1="279.50" y1="224.65" x2="282.50" y2="224.65" stroke="#1c1c1c" stroke-width="1.00"/><line x1="279.50" y1="222.71" x2="282.50" y2="222.71" stroke="#1c1c1c" stroke-width="1.00"/><line x1="279.50" y1="221.08" x2="282.50" y2="221.08" stroke="#1c1c1c" stroke-width="1.00"/><line x1="279.50" y1="219.66" x2="282.50" y2="219.66" stroke="#1c1c1c" stroke-width="1.00"/><line x1="279.50" y1="218.42" x2="282.50" y2="218.42" stroke="#1c1c1c" stroke-width="1.00"/><use href="#one" transform="translate(256.51,246.70) scale(0.00605,-0.00605)" fill="#1a1a1a"/><text x="263.40" y="246.70" font-size="12.40" text-anchor="start" font-weight="normal" fill="#1a1a1a" >0</text><use href="#one" transform="translate(270.30,241.70) scale(0.00439,-0.00439)" fill="#1a1a1a"/><line x1="277.00" y1="217.30" x2="282.50" y2="217.30" stroke="#1c1c1c" stroke-width="1.00"/><line x1="279.50" y1="209.95" x2="282.50" y2="209.95" stroke="#1c1c1c" stroke-width="1.00"/><line x1="279.50" y1="205.66" x2="282.50" y2="205.66" stroke="#1c1c1c" stroke-width="1.00"/><line x1="279.50" y1="202.61" x2="282.50" y2="202.61" stroke="#1c1c1c" stroke-width="1.00"/><line x1="279.50" y1="200.25" x2="282.50" y2="200.25" stroke="#1c1c1c" stroke-width="1.00"/><line x1="279.50" y1="198.31" x2="282.50" y2="198.31" stroke="#1c1c1c" stroke-width="1.00"/><line x1="279.50" y1="196.68" x2="282.50" y2="196.68" stroke="#1c1c1c" stroke-width="1.00"/><line x1="279.50" y1="195.26" x2="282.50" y2="195.26" stroke="#1c1c1c" stroke-width="1.00"/><line x1="279.50" y1="194.02" x2="282.50" y2="194.02" stroke="#1c1c1c" stroke-width="1.00"/><use href="#one" transform="translate(256.51,222.30) scale(0.00605,-0.00605)" fill="#1a1a1a"/><text x="263.40" y="222.30" font-size="12.40" text-anchor="start" font-weight="normal" fill="#1a1a1a" >0</text><text x="270.30" y="217.30" font-size="9.00" text-anchor="start" font-weight="normal" fill="#1a1a1a" >2</text><line x1="277.00" y1="192.90" x2="282.50" y2="192.90" stroke="#1c1c1c" stroke-width="1.00"/><line x1="279.50" y1="185.55" x2="282.50" y2="185.55" stroke="#1c1c1c" stroke-width="1.00"/><line x1="279.50" y1="181.26" x2="282.50" y2="181.26" stroke="#1c1c1c" stroke-width="1.00"/><line x1="279.50" y1="178.21" x2="282.50" y2="178.21" stroke="#1c1c1c" stroke-width="1.00"/><line x1="279.50" y1="175.85" x2="282.50" y2="175.85" stroke="#1c1c1c" stroke-width="1.00"/><line x1="279.50" y1="173.91" x2="282.50" y2="173.91" stroke="#1c1c1c" stroke-width="1.00"/><line x1="279.50" y1="172.28" x2="282.50" y2="172.28" stroke="#1c1c1c" stroke-width="1.00"/><line x1="279.50" y1="170.86" x2="282.50" y2="170.86" stroke="#1c1c1c" stroke-width="1.00"/><use href="#one" transform="translate(256.51,197.90) scale(0.00605,-0.00605)" fill="#1a1a1a"/><text x="263.40" y="197.90" font-size="12.40" text-anchor="start" font-weight="normal" fill="#1a1a1a" >0</text><text x="270.30" y="192.90" font-size="9.00" text-anchor="start" font-weight="normal" fill="#1a1a1a" >3</text><line x1="298.50" y1="290.50" x2="298.50" y2="296.50" stroke="#1c1c1c" stroke-width="1.00"/><line x1="330.70" y1="290.50" x2="330.70" y2="296.50" stroke="#1c1c1c" stroke-width="1.00"/><line x1="362.90" y1="290.50" x2="362.90" y2="296.50" stroke="#1c1c1c" stroke-width="1.00"/><line x1="395.10" y1="290.50" x2="395.10" y2="296.50" stroke="#1c1c1c" stroke-width="1.00"/><line x1="282.40" y1="290.50" x2="282.40" y2="293.50" stroke="#1c1c1c" stroke-width="1.00"/><line x1="314.60" y1="290.50" x2="314.60" y2="293.50" stroke="#1c1c1c" stroke-width="1.00"/><line x1="346.80" y1="290.50" x2="346.80" y2="293.50" stroke="#1c1c1c" stroke-width="1.00"/><line x1="379.00" y1="290.50" x2="379.00" y2="293.50" stroke="#1c1c1c" stroke-width="1.00"/><line x1="411.20" y1="290.50" x2="411.20" y2="293.50" stroke="#1c1c1c" stroke-width="1.00"/><text x="298.50" y="306.40" font-size="13.30" text-anchor="middle" font-weight="normal" fill="#1a1a1a" >600</text><text x="330.70" y="306.40" font-size="13.30" text-anchor="middle" font-weight="normal" fill="#1a1a1a" >700</text><text x="362.90" y="306.40" font-size="13.30" text-anchor="middle" font-weight="normal" fill="#1a1a1a" >800</text><text x="395.10" y="306.40" font-size="13.30" text-anchor="middle" font-weight="normal" fill="#1a1a1a" >900</text><text x="351.80" y="319.00" font-size="13.30" text-anchor="middle" font-weight="normal" fill="#1a1a1a" >Wavelength (nm)</text><rect x="422.40" y="185.60" width="25.60" height="2.00" fill="#9ca4a4"/><rect x="422.40" y="187.50" width="25.60" height="102.10" fill="url(#cb359)"/><rect x="422.40" y="185.40" width="25.60" height="105.10" fill="none" stroke="#2a2a2a" stroke-width="1.0"/><line x1="448.00" y1="187.50" x2="450.80" y2="187.50" stroke="#1c1c1c" stroke-width="1.00"/><text x="452.30" y="190.80" font-size="10.00" text-anchor="start" font-weight="normal" fill="#1a1a1a" >6.00</text><line x1="448.00" y1="204.52" x2="450.80" y2="204.52" stroke="#1c1c1c" stroke-width="1.00"/><text x="452.30" y="207.82" font-size="10.00" text-anchor="start" font-weight="normal" fill="#1a1a1a" >4.50</text><line x1="448.00" y1="221.53" x2="450.80" y2="221.53" stroke="#1c1c1c" stroke-width="1.00"/><text x="452.30" y="224.83" font-size="10.00" text-anchor="start" font-weight="normal" fill="#1a1a1a" >3.00</text><line x1="448.00" y1="238.55" x2="450.80" y2="238.55" stroke="#1c1c1c" stroke-width="1.00"/><use href="#one" transform="translate(452.30,241.85) scale(0.00488,-0.00488)" fill="#1a1a1a"/><text x="457.86" y="241.85" font-size="10.00" text-anchor="start" font-weight="normal" fill="#1a1a1a" >.50</text><line x1="448.00" y1="255.57" x2="450.80" y2="255.57" stroke="#1c1c1c" stroke-width="1.00"/><text x="452.30" y="258.87" font-size="10.00" text-anchor="start" font-weight="normal" fill="#1a1a1a" >0.00</text><line x1="448.00" y1="272.58" x2="450.80" y2="272.58" stroke="#1c1c1c" stroke-width="1.00"/><text x="452.30" y="275.88" font-size="10.00" text-anchor="start" font-weight="normal" fill="#1a1a1a" >-</text><use href="#one" transform="translate(455.63,275.88) scale(0.00488,-0.00488)" fill="#1a1a1a"/><text x="461.19" y="275.88" font-size="10.00" text-anchor="start" font-weight="normal" fill="#1a1a1a" >.50</text><line x1="448.00" y1="289.60" x2="450.80" y2="289.60" stroke="#1c1c1c" stroke-width="1.00"/><text x="452.30" y="292.90" font-size="10.00" text-anchor="start" font-weight="normal" fill="#1a1a1a" >-3.00</text><path d="M424.00 179.30 L428.30 173.10 L432.60 179.30 Z" fill="none" stroke="#333" stroke-width="0.75"/><text x="432.30" y="179.40" font-size="9.60" text-anchor="start" font-weight="normal" fill="#1a1a1a" textLength="37.2" lengthAdjust="spacingAndGlyphs">A (mOD)</text><text x="350.10" y="239.80" font-size="15.30" text-anchor="start" font-weight="normal" fill="#1a1a1a" >PIA-STE</text><rect x="283" y="263.7" width="11.5" height="1.1" fill="#f4dcd4" opacity="0.85"/><rect x="169" y="255" width="7.5" height="1.1" fill="#ecc8b0" opacity="0.8"/><g clip-path="url(#cpd)" filter="url(#fb)"><line x1="41" y1="255" x2="118" y2="276" stroke="#2468b0" stroke-opacity="0.35" stroke-width="3.0"/><line x1="41" y1="263" x2="108" y2="283" stroke="#2468b0" stroke-opacity="0.35" stroke-width="3.2"/><line x1="41" y1="271" x2="95" y2="289" stroke="#2a70b8" stroke-opacity="0.30" stroke-width="3.2"/><line x1="41" y1="259" x2="114" y2="280" stroke="#8ad4e4" stroke-opacity="0.40" stroke-width="2.4"/><line x1="41" y1="267" x2="102" y2="287" stroke="#8ad4e4" stroke-opacity="0.40" stroke-width="2.4"/><line x1="41" y1="276" x2="85" y2="291" stroke="#8ad4e4" stroke-opacity="0.35" stroke-width="2.4"/></g><g clip-path="url(#cpa)" filter="url(#fb)"><line x1="41" y1="93" x2="80" y2="103" stroke="#8ad4e4" stroke-opacity="0.45" stroke-width="1.6"/><line x1="41" y1="99" x2="78" y2="110" stroke="#8ad4e4" stroke-opacity="0.45" stroke-width="1.6"/><line x1="41" y1="105" x2="70" y2="116" stroke="#8ad4e4" stroke-opacity="0.40" stroke-width="1.6"/><line x1="41" y1="96" x2="80" y2="107" stroke="#2266ae" stroke-opacity="0.35" stroke-width="1.8"/><line x1="41" y1="102" x2="78" y2="114" stroke="#2266ae" stroke-opacity="0.30" stroke-width="1.8"/><line x1="49" y1="108" x2="47" y2="128" stroke="#9adce6" stroke-opacity="0.40" stroke-width="1.5"/><line x1="57" y1="110" x2="56" y2="128" stroke="#9adce6" stroke-opacity="0.40" stroke-width="1.5"/><line x1="65" y1="112" x2="66" y2="128" stroke="#9adce6" stroke-opacity="0.35" stroke-width="1.5"/><line x1="73" y1="113" x2="75" y2="128" stroke="#9adce6" stroke-opacity="0.30" stroke-width="1.5"/></g><text x="0" y="0" font-size="13.4" text-anchor="middle" fill="#1a1a1a" transform="translate(11.80,68.90) rotate(-90)">Time (ps)</text><text x="0" y="0" font-size="13.4" text-anchor="middle" fill="#1a1a1a" transform="translate(253.60,68.90) rotate(-90)">Time (ps)</text><text x="0" y="0" font-size="13.4" text-anchor="middle" fill="#1a1a1a" transform="translate(11.80,229.60) rotate(-90)">Time (ps)</text><text x="0" y="0" font-size="13.4" text-anchor="middle" fill="#1a1a1a" transform="translate(253.60,229.60) rotate(-90)">Time (ps)</text><text x="1.80" y="13.40" font-size="16.00" text-anchor="start" font-weight="bold" fill="#111" >a</text><text x="243.30" y="13.40" font-size="16.00" text-anchor="start" font-weight="bold" fill="#111" >b</text><text x="484.80" y="13.40" font-size="16.00" text-anchor="start" font-weight="bold" fill="#111" >c</text><text x="1.50" y="172.40" font-size="16.00" text-anchor="start" font-weight="bold" fill="#111" >d</text><text x="243.30" y="173.20" font-size="16.00" text-anchor="start" font-weight="bold" fill="#111" >e</text><text x="487.00" y="172.60" font-size="16.00" text-anchor="start" font-weight="bold" fill="#111" >f</text><rect x="525.50" y="9.50" width="150.10" height="119.00" fill="none" stroke="#1c1c1c" stroke-width="1.15"/><line x1="520.50" y1="119.80" x2="525.50" y2="119.80" stroke="#1c1c1c" stroke-width="1.00"/><text x="508.41" y="124.10" font-size="12.70" text-anchor="start" font-weight="normal" fill="#1a1a1a" >-</text><use href="#one" transform="translate(512.64,124.10) scale(0.00620,-0.00620)" fill="#1a1a1a"/><line x1="520.50" y1="102.80" x2="525.50" y2="102.80" stroke="#1c1c1c" stroke-width="1.00"/><text x="512.64" y="107.10" font-size="12.70" text-anchor="start" font-weight="normal" fill="#1a1a1a" >0</text><line x1="520.50" y1="85.80" x2="525.50" y2="85.80" stroke="#1c1c1c" stroke-width="1.00"/><use href="#one" transform="translate(512.64,90.10) scale(0.00620,-0.00620)" fill="#1a1a1a"/><line x1="520.50" y1="68.80" x2="525.50" y2="68.80" stroke="#1c1c1c" stroke-width="1.00"/><text x="512.64" y="73.10" font-size="12.70" text-anchor="start" font-weight="normal" fill="#1a1a1a" >2</text><line x1="520.50" y1="51.80" x2="525.50" y2="51.80" stroke="#1c1c1c" stroke-width="1.00"/><text x="512.64" y="56.10" font-size="12.70" text-anchor="start" font-weight="normal" fill="#1a1a1a" >3</text><line x1="520.50" y1="34.80" x2="525.50" y2="34.80" stroke="#1c1c1c" stroke-width="1.00"/><text x="512.64" y="39.10" font-size="12.70" text-anchor="start" font-weight="normal" fill="#1a1a1a" >4</text><line x1="520.50" y1="17.80" x2="525.50" y2="17.80" stroke="#1c1c1c" stroke-width="1.00"/><text x="512.64" y="22.10" font-size="12.70" text-anchor="start" font-weight="normal" fill="#1a1a1a" >5</text><line x1="522.50" y1="128.30" x2="525.50" y2="128.30" stroke="#1c1c1c" stroke-width="1.00"/><line x1="522.50" y1="111.30" x2="525.50" y2="111.30" stroke="#1c1c1c" stroke-width="1.00"/><line x1="522.50" y1="94.30" x2="525.50" y2="94.30" stroke="#1c1c1c" stroke-width="1.00"/><line x1="522.50" y1="77.30" x2="525.50" y2="77.30" stroke="#1c1c1c" stroke-width="1.00"/><line x1="522.50" y1="60.30" x2="525.50" y2="60.30" stroke="#1c1c1c" stroke-width="1.00"/><line x1="522.50" y1="43.30" x2="525.50" y2="43.30" stroke="#1c1c1c" stroke-width="1.00"/><line x1="522.50" y1="26.30" x2="525.50" y2="26.30" stroke="#1c1c1c" stroke-width="1.00"/><line x1="522.50" y1="9.30" x2="525.50" y2="9.30" stroke="#1c1c1c" stroke-width="1.00"/><line x1="568.40" y1="128.50" x2="568.40" y2="133.00" stroke="#1c1c1c" stroke-width="1.00"/><line x1="675.40" y1="128.50" x2="675.40" y2="133.00" stroke="#1c1c1c" stroke-width="1.00"/><line x1="525.60" y1="128.50" x2="525.60" y2="131.30" stroke="#1c1c1c" stroke-width="1.00"/><line x1="621.90" y1="128.50" x2="621.90" y2="131.30" stroke="#1c1c1c" stroke-width="1.00"/><text x="568.30" y="145.30" font-size="12.70" text-anchor="middle" font-weight="normal" fill="#1a1a1a" >0</text><text x="675.50" y="145.30" font-size="12.70" text-anchor="middle" font-weight="normal" fill="#1a1a1a" >5</text><text x="601.70" y="158.60" font-size="13.30" text-anchor="middle" font-weight="normal" fill="#1a1a1a" >Time (ps)</text><g transform="translate(498.30,93.10) rotate(-90)"><path d="M0.3 0 L5.2 -7.9 L9.9 0 Z" fill="none" stroke="#1a1a1a" stroke-width="0.9" stroke-linejoin="miter"/><text x="10.1" y="0" font-size="12.8" fill="#1a1a1a" textLength="51.4" lengthAdjust="spacingAndGlyphs">A (mOD)</text></g><svg x="525.5" y="9.5" width="150.1" height="119.0" viewBox="525.5 9.5 150.1 119.0" overflow="hidden"><polyline fill="none" stroke="#ec4a4f" stroke-width="1.50" stroke-linejoin="round" points="525.0,101.6 533.6,101.6 539.0,97.9 545.5,103.3 552.0,101.1 558.5,102.6 565.0,99.4 569.3,101.6 572.5,94.0 576.8,76.7 581.2,67.0 587.6,62.7 594.1,58.4 599.5,56.2 601.5,55.8 606.9,55.6 612.3,58.4 618.8,61.2 629.6,62.9 638.2,62.7 646.8,62.9 653.3,61.6 659.8,59.9 667.4,59.9 672.8,61.2 675.6,63.3"/><polyline fill="none" stroke="#2a6fd8" stroke-width="1.50" stroke-linejoin="round" points="525.0,103.1 538.0,102.2 555.2,100.5 561.7,102.6 567.1,104.1 569.3,102.6 571.4,94.0 573.6,72.4 576.4,49.7 579.0,47.6 581.6,48.2 584.4,46.9 587.2,46.0 589.8,51.2 594.1,54.0 599.5,56.2 602.6,55.6 606.9,59.4 611.2,62.2 615.5,61.0 619.8,59.4 624.2,61.2 628.5,60.5 635.0,59.4 640.4,60.5 645.1,57.7 650.1,60.5 655.5,63.8 662.0,66.3 668.4,68.7 675.6,68.1"/></svg><line x1="595.30" y1="18.30" x2="625.20" y2="18.30" stroke="#ec4a4f" stroke-width="1.30"/><text x="629.20" y="22.40" font-size="13.00" text-anchor="start" font-weight="normal" fill="#ec4a4f" >508 nm</text><line x1="595.30" y1="34.10" x2="625.20" y2="34.10" stroke="#2a6fd8" stroke-width="1.30"/><text x="629.20" y="38.20" font-size="13.00" text-anchor="start" font-weight="normal" fill="#2a6fd8" >880 nm</text><line x1="588.70" y1="89.20" x2="570.50" y2="61.50" stroke="#ec4a4f" stroke-width="1.30"/><polygon points="567.1,56.8 568.2,65.0 574.0,61.2" fill="#ec4a4f"/><text x="627.10" y="106.90" font-size="15.30" text-anchor="middle" font-weight="normal" fill="#1a1a1a" >STE excitation</text><text x="627.00" y="124.50" font-size="15.30" text-anchor="middle" font-weight="normal" fill="#1a1a1a" >first</text><rect x="525.40" y="170.60" width="149.80" height="119.90" fill="none" stroke="#1c1c1c" stroke-width="1.15"/><line x1="520.40" y1="290.50" x2="525.40" y2="290.50" stroke="#1c1c1c" stroke-width="1.00"/><text x="508.31" y="294.80" font-size="12.70" text-anchor="start" font-weight="normal" fill="#1a1a1a" >-</text><use href="#one" transform="translate(512.54,294.80) scale(0.00620,-0.00620)" fill="#1a1a1a"/><line x1="520.40" y1="268.80" x2="525.40" y2="268.80" stroke="#1c1c1c" stroke-width="1.00"/><text x="512.54" y="273.10" font-size="12.70" text-anchor="start" font-weight="normal" fill="#1a1a1a" >0</text><line x1="520.40" y1="247.10" x2="525.40" y2="247.10" stroke="#1c1c1c" stroke-width="1.00"/><use href="#one" transform="translate(512.54,251.40) scale(0.00620,-0.00620)" fill="#1a1a1a"/><line x1="520.40" y1="225.40" x2="525.40" y2="225.40" stroke="#1c1c1c" stroke-width="1.00"/><text x="512.54" y="229.70" font-size="12.70" text-anchor="start" font-weight="normal" fill="#1a1a1a" >2</text><line x1="520.40" y1="203.70" x2="525.40" y2="203.70" stroke="#1c1c1c" stroke-width="1.00"/><text x="512.54" y="208.00" font-size="12.70" text-anchor="start" font-weight="normal" fill="#1a1a1a" >3</text><line x1="520.40" y1="182.00" x2="525.40" y2="182.00" stroke="#1c1c1c" stroke-width="1.00"/><text x="512.54" y="186.30" font-size="12.70" text-anchor="start" font-weight="normal" fill="#1a1a1a" >4</text><line x1="522.40" y1="279.65" x2="525.40" y2="279.65" stroke="#1c1c1c" stroke-width="1.00"/><line x1="522.40" y1="257.95" x2="525.40" y2="257.95" stroke="#1c1c1c" stroke-width="1.00"/><line x1="522.40" y1="236.25" x2="525.40" y2="236.25" stroke="#1c1c1c" stroke-width="1.00"/><line x1="522.40" y1="214.55" x2="525.40" y2="214.55" stroke="#1c1c1c" stroke-width="1.00"/><line x1="522.40" y1="192.85" x2="525.40" y2="192.85" stroke="#1c1c1c" stroke-width="1.00"/><line x1="522.40" y1="171.15" x2="525.40" y2="171.15" stroke="#1c1c1c" stroke-width="1.00"/><line x1="545.40" y1="290.50" x2="545.40" y2="295.00" stroke="#1c1c1c" stroke-width="1.00"/><line x1="585.20" y1="290.50" x2="585.20" y2="295.00" stroke="#1c1c1c" stroke-width="1.00"/><line x1="612.88" y1="290.50" x2="612.88" y2="295.00" stroke="#1c1c1c" stroke-width="1.00"/><line x1="640.56" y1="290.50" x2="640.56" y2="295.00" stroke="#1c1c1c" stroke-width="1.00"/><line x1="668.24" y1="290.50" x2="668.24" y2="295.00" stroke="#1c1c1c" stroke-width="1.00"/><line x1="525.50" y1="290.50" x2="525.50" y2="293.30" stroke="#1c1c1c" stroke-width="1.00"/><line x1="565.30" y1="290.50" x2="565.30" y2="293.30" stroke="#1c1c1c" stroke-width="1.00"/><line x1="599.04" y1="290.50" x2="599.04" y2="293.30" stroke="#1c1c1c" stroke-width="1.00"/><line x1="626.72" y1="290.50" x2="626.72" y2="293.30" stroke="#1c1c1c" stroke-width="1.00"/><line x1="654.40" y1="290.50" x2="654.40" y2="293.30" stroke="#1c1c1c" stroke-width="1.00"/><text x="541.87" y="307.20" font-size="12.70" text-anchor="start" font-weight="normal" fill="#1a1a1a" >0</text><text x="581.67" y="307.20" font-size="12.70" text-anchor="start" font-weight="normal" fill="#1a1a1a" >2</text><text x="609.35" y="307.20" font-size="12.70" text-anchor="start" font-weight="normal" fill="#1a1a1a" >6</text><use href="#one" transform="translate(633.50,307.20) scale(0.00620,-0.00620)" fill="#1a1a1a"/><text x="640.56" y="307.20" font-size="12.70" text-anchor="start" font-weight="normal" fill="#1a1a1a" >0</text><use href="#one" transform="translate(661.18,307.20) scale(0.00620,-0.00620)" fill="#1a1a1a"/><text x="668.24" y="307.20" font-size="12.70" text-anchor="start" font-weight="normal" fill="#1a1a1a" >4</text><text x="601.20" y="319.20" font-size="13.30" text-anchor="middle" font-weight="normal" fill="#1a1a1a" >Time (ps)</text><g transform="translate(496.60,254.40) rotate(-90)"><path d="M0.3 0 L5.2 -7.9 L9.9 0 Z" fill="none" stroke="#1a1a1a" stroke-width="0.9" stroke-linejoin="miter"/><text x="10.1" y="0" font-size="12.8" fill="#1a1a1a" textLength="51.4" lengthAdjust="spacingAndGlyphs">A (mOD)</text></g><line x1="587.40" y1="165.30" x2="584.60" y2="176.60" stroke="#111" stroke-width="1.40"/><line x1="587.00" y1="285.00" x2="584.60" y2="295.30" stroke="#111" stroke-width="1.40"/><svg x="525.4" y="170.6" width="149.8" height="119.9" viewBox="525.4 170.6 149.8 119.9" overflow="hidden"><polyline fill="none" stroke="#ec4a4f" stroke-width="1.50" stroke-linejoin="round" points="525.0,265.4 534.9,266.7 542.3,269.1 546.0,269.1 550.9,264.2 557.1,250.6 564.5,234.6 570.7,224.7 575.6,213.6 580.6,209.9 585.5,209.9 591.7,212.8 599.1,216.0 604.9,216.8 614.8,218.5 624.6,220.2 630.8,224.2 639.4,225.4 649.3,225.4 659.2,226.7 669.1,227.7 675.2,227.9"/><polyline fill="none" stroke="#2a6fd8" stroke-width="1.50" stroke-linejoin="round" points="525.0,269.9 534.9,268.6 539.8,267.9 546.0,269.1 549.7,266.2 553.4,260.5 558.3,246.9 563.3,234.6 568.2,222.2 573.1,216.0 576.9,213.6 583.0,215.3 589.2,213.6 596.6,216.0 602.4,217.3 607.3,219.3 612.3,217.3 619.7,217.8 627.1,218.5 632.0,219.3 635.7,221.0 641.9,218.5 648.1,217.3 654.3,218.5 661.7,221.7 669.1,222.7 675.2,223.5"/></svg><line x1="531.80" y1="178.80" x2="561.60" y2="178.80" stroke="#ec4a4f" stroke-width="1.30"/><text x="566.20" y="183.90" font-size="13.20" text-anchor="start" font-weight="normal" fill="#ec4a4f" >Control Ce exciton</text><line x1="531.80" y1="195.50" x2="561.60" y2="195.50" stroke="#2a6fd8" stroke-width="1.30"/><text x="566.20" y="200.00" font-size="13.20" text-anchor="start" font-weight="normal" fill="#2a6fd8" >Cs-rich Ce exciton</text><line x1="595.40" y1="261.70" x2="573.00" y2="229.50" stroke="#2a6fd8" stroke-width="1.30"/><polygon points="570.7,225.9 571.8,234.5 578.0,230.4" fill="#2a6fd8"/><text x="634.30" y="256.30" font-size="15.30" text-anchor="middle" font-weight="normal" fill="#1a1a1a" >Faster ET</text><text x="634.90" y="271.70" font-size="15.30" text-anchor="middle" font-weight="normal" fill="#1a1a1a" >process</text></svg></body></html>
